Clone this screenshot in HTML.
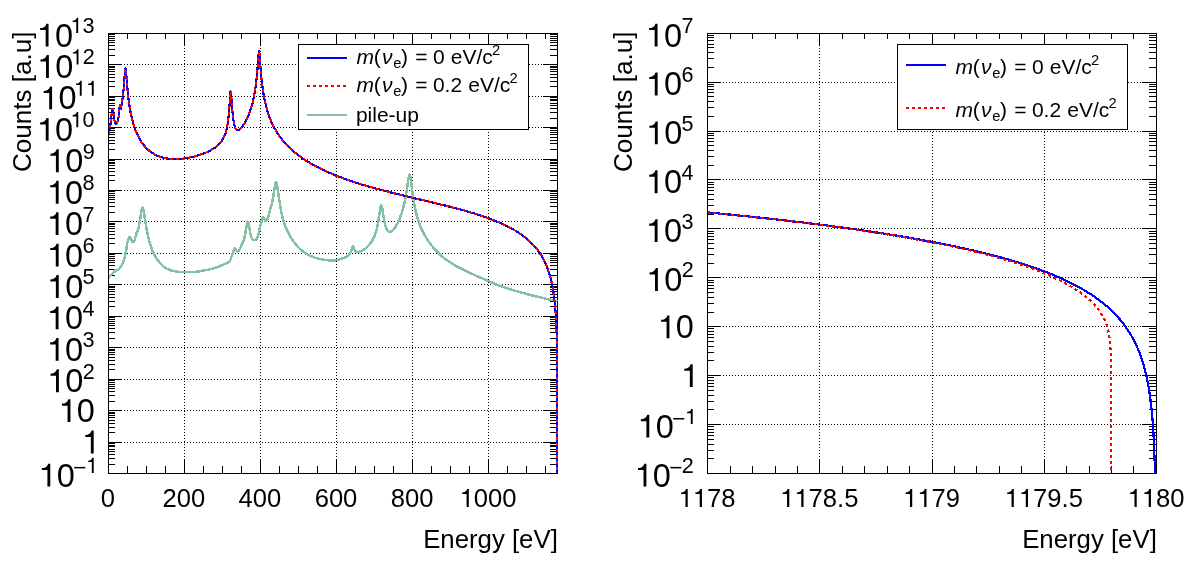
<!DOCTYPE html>
<html><head><meta charset="utf-8"><title>plot</title>
<style>html,body{margin:0;padding:0;background:#fff;}svg{display:block;will-change:transform;}text{font-family:"Liberation Sans",sans-serif;fill:#000;}</style>
</head><body>
<svg width="1198" height="576" viewBox="0 0 1198 576">
<rect x="0" y="0" width="1198" height="576" fill="#fff"/>
<g stroke="#000" stroke-width="1" stroke-dasharray="1 2" shape-rendering="crispEdges">
<line x1="184.50" y1="33.00" x2="184.50" y2="473.50" />
<line x1="260.50" y1="33.00" x2="260.50" y2="473.50" />
<line x1="336.50" y1="33.00" x2="336.50" y2="473.50" />
<line x1="412.50" y1="33.00" x2="412.50" y2="473.50" />
<line x1="488.50" y1="33.00" x2="488.50" y2="473.50" />
<line x1="109.00" y1="442.50" x2="557.50" y2="442.50" />
<line x1="109.00" y1="410.50" x2="557.50" y2="410.50" />
<line x1="109.00" y1="379.50" x2="557.50" y2="379.50" />
<line x1="109.00" y1="347.50" x2="557.50" y2="347.50" />
<line x1="109.00" y1="316.50" x2="557.50" y2="316.50" />
<line x1="109.00" y1="284.50" x2="557.50" y2="284.50" />
<line x1="109.00" y1="253.50" x2="557.50" y2="253.50" />
<line x1="109.00" y1="221.50" x2="557.50" y2="221.50" />
<line x1="109.00" y1="190.50" x2="557.50" y2="190.50" />
<line x1="109.00" y1="159.50" x2="557.50" y2="159.50" />
<line x1="109.00" y1="127.50" x2="557.50" y2="127.50" />
<line x1="109.00" y1="96.50" x2="557.50" y2="96.50" />
<line x1="109.00" y1="64.50" x2="557.50" y2="64.50" />
</g>
<g stroke="#000" stroke-width="1" shape-rendering="crispEdges">
<rect x="108.5" y="33.5" width="449.0" height="440.0" fill="none"/>
<line x1="184.50" y1="473.50" x2="184.50" y2="459.00" />
<line x1="184.50" y1="33.50" x2="184.50" y2="46.00" />
<line x1="260.50" y1="473.50" x2="260.50" y2="459.00" />
<line x1="260.50" y1="33.50" x2="260.50" y2="46.00" />
<line x1="336.50" y1="473.50" x2="336.50" y2="459.00" />
<line x1="336.50" y1="33.50" x2="336.50" y2="46.00" />
<line x1="412.50" y1="473.50" x2="412.50" y2="459.00" />
<line x1="412.50" y1="33.50" x2="412.50" y2="46.00" />
<line x1="488.50" y1="473.50" x2="488.50" y2="459.00" />
<line x1="488.50" y1="33.50" x2="488.50" y2="46.00" />
<line x1="127.50" y1="473.50" x2="127.50" y2="466.00" />
<line x1="127.50" y1="33.50" x2="127.50" y2="39.00" />
<line x1="146.50" y1="473.50" x2="146.50" y2="466.00" />
<line x1="146.50" y1="33.50" x2="146.50" y2="39.00" />
<line x1="165.50" y1="473.50" x2="165.50" y2="466.00" />
<line x1="165.50" y1="33.50" x2="165.50" y2="39.00" />
<line x1="184.50" y1="473.50" x2="184.50" y2="466.00" />
<line x1="184.50" y1="33.50" x2="184.50" y2="39.00" />
<line x1="203.50" y1="473.50" x2="203.50" y2="466.00" />
<line x1="203.50" y1="33.50" x2="203.50" y2="39.00" />
<line x1="222.50" y1="473.50" x2="222.50" y2="466.00" />
<line x1="222.50" y1="33.50" x2="222.50" y2="39.00" />
<line x1="241.50" y1="473.50" x2="241.50" y2="466.00" />
<line x1="241.50" y1="33.50" x2="241.50" y2="39.00" />
<line x1="260.50" y1="473.50" x2="260.50" y2="466.00" />
<line x1="260.50" y1="33.50" x2="260.50" y2="39.00" />
<line x1="279.50" y1="473.50" x2="279.50" y2="466.00" />
<line x1="279.50" y1="33.50" x2="279.50" y2="39.00" />
<line x1="298.50" y1="473.50" x2="298.50" y2="466.00" />
<line x1="298.50" y1="33.50" x2="298.50" y2="39.00" />
<line x1="317.50" y1="473.50" x2="317.50" y2="466.00" />
<line x1="317.50" y1="33.50" x2="317.50" y2="39.00" />
<line x1="336.50" y1="473.50" x2="336.50" y2="466.00" />
<line x1="336.50" y1="33.50" x2="336.50" y2="39.00" />
<line x1="355.50" y1="473.50" x2="355.50" y2="466.00" />
<line x1="355.50" y1="33.50" x2="355.50" y2="39.00" />
<line x1="374.50" y1="473.50" x2="374.50" y2="466.00" />
<line x1="374.50" y1="33.50" x2="374.50" y2="39.00" />
<line x1="393.50" y1="473.50" x2="393.50" y2="466.00" />
<line x1="393.50" y1="33.50" x2="393.50" y2="39.00" />
<line x1="412.50" y1="473.50" x2="412.50" y2="466.00" />
<line x1="412.50" y1="33.50" x2="412.50" y2="39.00" />
<line x1="431.50" y1="473.50" x2="431.50" y2="466.00" />
<line x1="431.50" y1="33.50" x2="431.50" y2="39.00" />
<line x1="450.50" y1="473.50" x2="450.50" y2="466.00" />
<line x1="450.50" y1="33.50" x2="450.50" y2="39.00" />
<line x1="469.50" y1="473.50" x2="469.50" y2="466.00" />
<line x1="469.50" y1="33.50" x2="469.50" y2="39.00" />
<line x1="488.50" y1="473.50" x2="488.50" y2="466.00" />
<line x1="488.50" y1="33.50" x2="488.50" y2="39.00" />
<line x1="507.50" y1="473.50" x2="507.50" y2="466.00" />
<line x1="507.50" y1="33.50" x2="507.50" y2="39.00" />
<line x1="526.50" y1="473.50" x2="526.50" y2="466.00" />
<line x1="526.50" y1="33.50" x2="526.50" y2="39.00" />
<line x1="545.50" y1="473.50" x2="545.50" y2="466.00" />
<line x1="545.50" y1="33.50" x2="545.50" y2="39.00" />
<line x1="108.50" y1="464.50" x2="115.00" y2="464.50" />
<line x1="557.50" y1="464.50" x2="550.00" y2="464.50" />
<line x1="108.50" y1="458.50" x2="115.00" y2="458.50" />
<line x1="557.50" y1="458.50" x2="550.00" y2="458.50" />
<line x1="108.50" y1="454.50" x2="115.00" y2="454.50" />
<line x1="557.50" y1="454.50" x2="550.00" y2="454.50" />
<line x1="108.50" y1="451.50" x2="115.00" y2="451.50" />
<line x1="557.50" y1="451.50" x2="550.00" y2="451.50" />
<line x1="108.50" y1="449.50" x2="115.00" y2="449.50" />
<line x1="557.50" y1="449.50" x2="550.00" y2="449.50" />
<line x1="108.50" y1="446.50" x2="115.00" y2="446.50" />
<line x1="557.50" y1="446.50" x2="550.00" y2="446.50" />
<line x1="108.50" y1="445.50" x2="115.00" y2="445.50" />
<line x1="557.50" y1="445.50" x2="550.00" y2="445.50" />
<line x1="108.50" y1="443.50" x2="115.00" y2="443.50" />
<line x1="557.50" y1="443.50" x2="550.00" y2="443.50" />
<line x1="108.50" y1="442.50" x2="122.00" y2="442.50" />
<line x1="557.50" y1="442.50" x2="543.00" y2="442.50" />
<line x1="108.50" y1="432.50" x2="115.00" y2="432.50" />
<line x1="557.50" y1="432.50" x2="550.00" y2="432.50" />
<line x1="108.50" y1="427.50" x2="115.00" y2="427.50" />
<line x1="557.50" y1="427.50" x2="550.00" y2="427.50" />
<line x1="108.50" y1="423.50" x2="115.00" y2="423.50" />
<line x1="557.50" y1="423.50" x2="550.00" y2="423.50" />
<line x1="108.50" y1="420.50" x2="115.00" y2="420.50" />
<line x1="557.50" y1="420.50" x2="550.00" y2="420.50" />
<line x1="108.50" y1="417.50" x2="115.00" y2="417.50" />
<line x1="557.50" y1="417.50" x2="550.00" y2="417.50" />
<line x1="108.50" y1="415.50" x2="115.00" y2="415.50" />
<line x1="557.50" y1="415.50" x2="550.00" y2="415.50" />
<line x1="108.50" y1="413.50" x2="115.00" y2="413.50" />
<line x1="557.50" y1="413.50" x2="550.00" y2="413.50" />
<line x1="108.50" y1="412.50" x2="115.00" y2="412.50" />
<line x1="557.50" y1="412.50" x2="550.00" y2="412.50" />
<line x1="108.50" y1="410.50" x2="122.00" y2="410.50" />
<line x1="557.50" y1="410.50" x2="543.00" y2="410.50" />
<line x1="108.50" y1="401.50" x2="115.00" y2="401.50" />
<line x1="557.50" y1="401.50" x2="550.00" y2="401.50" />
<line x1="108.50" y1="395.50" x2="115.00" y2="395.50" />
<line x1="557.50" y1="395.50" x2="550.00" y2="395.50" />
<line x1="108.50" y1="391.50" x2="115.00" y2="391.50" />
<line x1="557.50" y1="391.50" x2="550.00" y2="391.50" />
<line x1="108.50" y1="388.50" x2="115.00" y2="388.50" />
<line x1="557.50" y1="388.50" x2="550.00" y2="388.50" />
<line x1="108.50" y1="386.50" x2="115.00" y2="386.50" />
<line x1="557.50" y1="386.50" x2="550.00" y2="386.50" />
<line x1="108.50" y1="384.50" x2="115.00" y2="384.50" />
<line x1="557.50" y1="384.50" x2="550.00" y2="384.50" />
<line x1="108.50" y1="382.50" x2="115.00" y2="382.50" />
<line x1="557.50" y1="382.50" x2="550.00" y2="382.50" />
<line x1="108.50" y1="380.50" x2="115.00" y2="380.50" />
<line x1="557.50" y1="380.50" x2="550.00" y2="380.50" />
<line x1="108.50" y1="379.50" x2="122.00" y2="379.50" />
<line x1="557.50" y1="379.50" x2="543.00" y2="379.50" />
<line x1="108.50" y1="369.50" x2="115.00" y2="369.50" />
<line x1="557.50" y1="369.50" x2="550.00" y2="369.50" />
<line x1="108.50" y1="364.50" x2="115.00" y2="364.50" />
<line x1="557.50" y1="364.50" x2="550.00" y2="364.50" />
<line x1="108.50" y1="360.50" x2="115.00" y2="360.50" />
<line x1="557.50" y1="360.50" x2="550.00" y2="360.50" />
<line x1="108.50" y1="357.50" x2="115.00" y2="357.50" />
<line x1="557.50" y1="357.50" x2="550.00" y2="357.50" />
<line x1="108.50" y1="354.50" x2="115.00" y2="354.50" />
<line x1="557.50" y1="354.50" x2="550.00" y2="354.50" />
<line x1="108.50" y1="352.50" x2="115.00" y2="352.50" />
<line x1="557.50" y1="352.50" x2="550.00" y2="352.50" />
<line x1="108.50" y1="350.50" x2="115.00" y2="350.50" />
<line x1="557.50" y1="350.50" x2="550.00" y2="350.50" />
<line x1="108.50" y1="349.50" x2="115.00" y2="349.50" />
<line x1="557.50" y1="349.50" x2="550.00" y2="349.50" />
<line x1="108.50" y1="347.50" x2="122.00" y2="347.50" />
<line x1="557.50" y1="347.50" x2="543.00" y2="347.50" />
<line x1="108.50" y1="338.50" x2="115.00" y2="338.50" />
<line x1="557.50" y1="338.50" x2="550.00" y2="338.50" />
<line x1="108.50" y1="332.50" x2="115.00" y2="332.50" />
<line x1="557.50" y1="332.50" x2="550.00" y2="332.50" />
<line x1="108.50" y1="328.50" x2="115.00" y2="328.50" />
<line x1="557.50" y1="328.50" x2="550.00" y2="328.50" />
<line x1="108.50" y1="325.50" x2="115.00" y2="325.50" />
<line x1="557.50" y1="325.50" x2="550.00" y2="325.50" />
<line x1="108.50" y1="323.50" x2="115.00" y2="323.50" />
<line x1="557.50" y1="323.50" x2="550.00" y2="323.50" />
<line x1="108.50" y1="321.50" x2="115.00" y2="321.50" />
<line x1="557.50" y1="321.50" x2="550.00" y2="321.50" />
<line x1="108.50" y1="319.50" x2="115.00" y2="319.50" />
<line x1="557.50" y1="319.50" x2="550.00" y2="319.50" />
<line x1="108.50" y1="317.50" x2="115.00" y2="317.50" />
<line x1="557.50" y1="317.50" x2="550.00" y2="317.50" />
<line x1="108.50" y1="316.50" x2="122.00" y2="316.50" />
<line x1="557.50" y1="316.50" x2="543.00" y2="316.50" />
<line x1="108.50" y1="306.50" x2="115.00" y2="306.50" />
<line x1="557.50" y1="306.50" x2="550.00" y2="306.50" />
<line x1="108.50" y1="301.50" x2="115.00" y2="301.50" />
<line x1="557.50" y1="301.50" x2="550.00" y2="301.50" />
<line x1="108.50" y1="297.50" x2="115.00" y2="297.50" />
<line x1="557.50" y1="297.50" x2="550.00" y2="297.50" />
<line x1="108.50" y1="294.50" x2="115.00" y2="294.50" />
<line x1="557.50" y1="294.50" x2="550.00" y2="294.50" />
<line x1="108.50" y1="291.50" x2="115.00" y2="291.50" />
<line x1="557.50" y1="291.50" x2="550.00" y2="291.50" />
<line x1="108.50" y1="289.50" x2="115.00" y2="289.50" />
<line x1="557.50" y1="289.50" x2="550.00" y2="289.50" />
<line x1="108.50" y1="287.50" x2="115.00" y2="287.50" />
<line x1="557.50" y1="287.50" x2="550.00" y2="287.50" />
<line x1="108.50" y1="286.50" x2="115.00" y2="286.50" />
<line x1="557.50" y1="286.50" x2="550.00" y2="286.50" />
<line x1="108.50" y1="284.50" x2="122.00" y2="284.50" />
<line x1="557.50" y1="284.50" x2="543.00" y2="284.50" />
<line x1="108.50" y1="275.50" x2="115.00" y2="275.50" />
<line x1="557.50" y1="275.50" x2="550.00" y2="275.50" />
<line x1="108.50" y1="269.50" x2="115.00" y2="269.50" />
<line x1="557.50" y1="269.50" x2="550.00" y2="269.50" />
<line x1="108.50" y1="265.50" x2="115.00" y2="265.50" />
<line x1="557.50" y1="265.50" x2="550.00" y2="265.50" />
<line x1="108.50" y1="262.50" x2="115.00" y2="262.50" />
<line x1="557.50" y1="262.50" x2="550.00" y2="262.50" />
<line x1="108.50" y1="260.50" x2="115.00" y2="260.50" />
<line x1="557.50" y1="260.50" x2="550.00" y2="260.50" />
<line x1="108.50" y1="258.50" x2="115.00" y2="258.50" />
<line x1="557.50" y1="258.50" x2="550.00" y2="258.50" />
<line x1="108.50" y1="256.50" x2="115.00" y2="256.50" />
<line x1="557.50" y1="256.50" x2="550.00" y2="256.50" />
<line x1="108.50" y1="254.50" x2="115.00" y2="254.50" />
<line x1="557.50" y1="254.50" x2="550.00" y2="254.50" />
<line x1="108.50" y1="253.50" x2="122.00" y2="253.50" />
<line x1="557.50" y1="253.50" x2="543.00" y2="253.50" />
<line x1="108.50" y1="243.50" x2="115.00" y2="243.50" />
<line x1="557.50" y1="243.50" x2="550.00" y2="243.50" />
<line x1="108.50" y1="238.50" x2="115.00" y2="238.50" />
<line x1="557.50" y1="238.50" x2="550.00" y2="238.50" />
<line x1="108.50" y1="234.50" x2="115.00" y2="234.50" />
<line x1="557.50" y1="234.50" x2="550.00" y2="234.50" />
<line x1="108.50" y1="231.50" x2="115.00" y2="231.50" />
<line x1="557.50" y1="231.50" x2="550.00" y2="231.50" />
<line x1="108.50" y1="228.50" x2="115.00" y2="228.50" />
<line x1="557.50" y1="228.50" x2="550.00" y2="228.50" />
<line x1="108.50" y1="226.50" x2="115.00" y2="226.50" />
<line x1="557.50" y1="226.50" x2="550.00" y2="226.50" />
<line x1="108.50" y1="224.50" x2="115.00" y2="224.50" />
<line x1="557.50" y1="224.50" x2="550.00" y2="224.50" />
<line x1="108.50" y1="223.50" x2="115.00" y2="223.50" />
<line x1="557.50" y1="223.50" x2="550.00" y2="223.50" />
<line x1="108.50" y1="221.50" x2="122.00" y2="221.50" />
<line x1="557.50" y1="221.50" x2="543.00" y2="221.50" />
<line x1="108.50" y1="212.50" x2="115.00" y2="212.50" />
<line x1="557.50" y1="212.50" x2="550.00" y2="212.50" />
<line x1="108.50" y1="206.50" x2="115.00" y2="206.50" />
<line x1="557.50" y1="206.50" x2="550.00" y2="206.50" />
<line x1="108.50" y1="202.50" x2="115.00" y2="202.50" />
<line x1="557.50" y1="202.50" x2="550.00" y2="202.50" />
<line x1="108.50" y1="199.50" x2="115.00" y2="199.50" />
<line x1="557.50" y1="199.50" x2="550.00" y2="199.50" />
<line x1="108.50" y1="197.50" x2="115.00" y2="197.50" />
<line x1="557.50" y1="197.50" x2="550.00" y2="197.50" />
<line x1="108.50" y1="195.50" x2="115.00" y2="195.50" />
<line x1="557.50" y1="195.50" x2="550.00" y2="195.50" />
<line x1="108.50" y1="193.50" x2="115.00" y2="193.50" />
<line x1="557.50" y1="193.50" x2="550.00" y2="193.50" />
<line x1="108.50" y1="191.50" x2="115.00" y2="191.50" />
<line x1="557.50" y1="191.50" x2="550.00" y2="191.50" />
<line x1="108.50" y1="190.50" x2="122.00" y2="190.50" />
<line x1="557.50" y1="190.50" x2="543.00" y2="190.50" />
<line x1="108.50" y1="180.50" x2="115.00" y2="180.50" />
<line x1="557.50" y1="180.50" x2="550.00" y2="180.50" />
<line x1="108.50" y1="175.50" x2="115.00" y2="175.50" />
<line x1="557.50" y1="175.50" x2="550.00" y2="175.50" />
<line x1="108.50" y1="171.50" x2="115.00" y2="171.50" />
<line x1="557.50" y1="171.50" x2="550.00" y2="171.50" />
<line x1="108.50" y1="168.50" x2="115.00" y2="168.50" />
<line x1="557.50" y1="168.50" x2="550.00" y2="168.50" />
<line x1="108.50" y1="165.50" x2="115.00" y2="165.50" />
<line x1="557.50" y1="165.50" x2="550.00" y2="165.50" />
<line x1="108.50" y1="163.50" x2="115.00" y2="163.50" />
<line x1="557.50" y1="163.50" x2="550.00" y2="163.50" />
<line x1="108.50" y1="162.50" x2="115.00" y2="162.50" />
<line x1="557.50" y1="162.50" x2="550.00" y2="162.50" />
<line x1="108.50" y1="160.50" x2="115.00" y2="160.50" />
<line x1="557.50" y1="160.50" x2="550.00" y2="160.50" />
<line x1="108.50" y1="159.50" x2="122.00" y2="159.50" />
<line x1="557.50" y1="159.50" x2="543.00" y2="159.50" />
<line x1="108.50" y1="149.50" x2="115.00" y2="149.50" />
<line x1="557.50" y1="149.50" x2="550.00" y2="149.50" />
<line x1="108.50" y1="143.50" x2="115.00" y2="143.50" />
<line x1="557.50" y1="143.50" x2="550.00" y2="143.50" />
<line x1="108.50" y1="140.50" x2="115.00" y2="140.50" />
<line x1="557.50" y1="140.50" x2="550.00" y2="140.50" />
<line x1="108.50" y1="137.50" x2="115.00" y2="137.50" />
<line x1="557.50" y1="137.50" x2="550.00" y2="137.50" />
<line x1="108.50" y1="134.50" x2="115.00" y2="134.50" />
<line x1="557.50" y1="134.50" x2="550.00" y2="134.50" />
<line x1="108.50" y1="132.50" x2="115.00" y2="132.50" />
<line x1="557.50" y1="132.50" x2="550.00" y2="132.50" />
<line x1="108.50" y1="130.50" x2="115.00" y2="130.50" />
<line x1="557.50" y1="130.50" x2="550.00" y2="130.50" />
<line x1="108.50" y1="128.50" x2="115.00" y2="128.50" />
<line x1="557.50" y1="128.50" x2="550.00" y2="128.50" />
<line x1="108.50" y1="127.50" x2="122.00" y2="127.50" />
<line x1="557.50" y1="127.50" x2="543.00" y2="127.50" />
<line x1="108.50" y1="118.50" x2="115.00" y2="118.50" />
<line x1="557.50" y1="118.50" x2="550.00" y2="118.50" />
<line x1="108.50" y1="112.50" x2="115.00" y2="112.50" />
<line x1="557.50" y1="112.50" x2="550.00" y2="112.50" />
<line x1="108.50" y1="108.50" x2="115.00" y2="108.50" />
<line x1="557.50" y1="108.50" x2="550.00" y2="108.50" />
<line x1="108.50" y1="105.50" x2="115.00" y2="105.50" />
<line x1="557.50" y1="105.50" x2="550.00" y2="105.50" />
<line x1="108.50" y1="103.50" x2="115.00" y2="103.50" />
<line x1="557.50" y1="103.50" x2="550.00" y2="103.50" />
<line x1="108.50" y1="100.50" x2="115.00" y2="100.50" />
<line x1="557.50" y1="100.50" x2="550.00" y2="100.50" />
<line x1="108.50" y1="99.50" x2="115.00" y2="99.50" />
<line x1="557.50" y1="99.50" x2="550.00" y2="99.50" />
<line x1="108.50" y1="97.50" x2="115.00" y2="97.50" />
<line x1="557.50" y1="97.50" x2="550.00" y2="97.50" />
<line x1="108.50" y1="96.50" x2="122.00" y2="96.50" />
<line x1="557.50" y1="96.50" x2="543.00" y2="96.50" />
<line x1="108.50" y1="86.50" x2="115.00" y2="86.50" />
<line x1="557.50" y1="86.50" x2="550.00" y2="86.50" />
<line x1="108.50" y1="81.50" x2="115.00" y2="81.50" />
<line x1="557.50" y1="81.50" x2="550.00" y2="81.50" />
<line x1="108.50" y1="77.50" x2="115.00" y2="77.50" />
<line x1="557.50" y1="77.50" x2="550.00" y2="77.50" />
<line x1="108.50" y1="74.50" x2="115.00" y2="74.50" />
<line x1="557.50" y1="74.50" x2="550.00" y2="74.50" />
<line x1="108.50" y1="71.50" x2="115.00" y2="71.50" />
<line x1="557.50" y1="71.50" x2="550.00" y2="71.50" />
<line x1="108.50" y1="69.50" x2="115.00" y2="69.50" />
<line x1="557.50" y1="69.50" x2="550.00" y2="69.50" />
<line x1="108.50" y1="67.50" x2="115.00" y2="67.50" />
<line x1="557.50" y1="67.50" x2="550.00" y2="67.50" />
<line x1="108.50" y1="66.50" x2="115.00" y2="66.50" />
<line x1="557.50" y1="66.50" x2="550.00" y2="66.50" />
<line x1="108.50" y1="64.50" x2="122.00" y2="64.50" />
<line x1="557.50" y1="64.50" x2="543.00" y2="64.50" />
<line x1="108.50" y1="55.50" x2="115.00" y2="55.50" />
<line x1="557.50" y1="55.50" x2="550.00" y2="55.50" />
<line x1="108.50" y1="49.50" x2="115.00" y2="49.50" />
<line x1="557.50" y1="49.50" x2="550.00" y2="49.50" />
<line x1="108.50" y1="45.50" x2="115.00" y2="45.50" />
<line x1="557.50" y1="45.50" x2="550.00" y2="45.50" />
<line x1="108.50" y1="42.50" x2="115.00" y2="42.50" />
<line x1="557.50" y1="42.50" x2="550.00" y2="42.50" />
<line x1="108.50" y1="40.50" x2="115.00" y2="40.50" />
<line x1="557.50" y1="40.50" x2="550.00" y2="40.50" />
<line x1="108.50" y1="38.50" x2="115.00" y2="38.50" />
<line x1="557.50" y1="38.50" x2="550.00" y2="38.50" />
<line x1="108.50" y1="36.50" x2="115.00" y2="36.50" />
<line x1="557.50" y1="36.50" x2="550.00" y2="36.50" />
<line x1="108.50" y1="34.50" x2="115.00" y2="34.50" />
<line x1="557.50" y1="34.50" x2="550.00" y2="34.50" />
</g>
<g stroke="#000" stroke-width="1" stroke-dasharray="1 2" shape-rendering="crispEdges">
<line x1="819.50" y1="33.00" x2="819.50" y2="473.50" />
<line x1="932.50" y1="33.00" x2="932.50" y2="473.50" />
<line x1="1044.50" y1="33.00" x2="1044.50" y2="473.50" />
<line x1="708.00" y1="424.50" x2="1156.50" y2="424.50" />
<line x1="708.00" y1="375.50" x2="1156.50" y2="375.50" />
<line x1="708.00" y1="326.50" x2="1156.50" y2="326.50" />
<line x1="708.00" y1="277.50" x2="1156.50" y2="277.50" />
<line x1="708.00" y1="228.50" x2="1156.50" y2="228.50" />
<line x1="708.00" y1="179.50" x2="1156.50" y2="179.50" />
<line x1="708.00" y1="131.50" x2="1156.50" y2="131.50" />
<line x1="708.00" y1="82.50" x2="1156.50" y2="82.50" />
</g>
<g stroke="#000" stroke-width="1" shape-rendering="crispEdges">
<rect x="707.5" y="33.5" width="449.0" height="440.0" fill="none"/>
<line x1="819.50" y1="473.50" x2="819.50" y2="459.00" />
<line x1="819.50" y1="33.50" x2="819.50" y2="46.00" />
<line x1="932.50" y1="473.50" x2="932.50" y2="459.00" />
<line x1="932.50" y1="33.50" x2="932.50" y2="46.00" />
<line x1="1044.50" y1="473.50" x2="1044.50" y2="459.00" />
<line x1="1044.50" y1="33.50" x2="1044.50" y2="46.00" />
<line x1="730.50" y1="473.50" x2="730.50" y2="466.00" />
<line x1="730.50" y1="33.50" x2="730.50" y2="39.00" />
<line x1="752.50" y1="473.50" x2="752.50" y2="466.00" />
<line x1="752.50" y1="33.50" x2="752.50" y2="39.00" />
<line x1="775.50" y1="473.50" x2="775.50" y2="466.00" />
<line x1="775.50" y1="33.50" x2="775.50" y2="39.00" />
<line x1="797.50" y1="473.50" x2="797.50" y2="466.00" />
<line x1="797.50" y1="33.50" x2="797.50" y2="39.00" />
<line x1="819.50" y1="473.50" x2="819.50" y2="466.00" />
<line x1="819.50" y1="33.50" x2="819.50" y2="39.00" />
<line x1="842.50" y1="473.50" x2="842.50" y2="466.00" />
<line x1="842.50" y1="33.50" x2="842.50" y2="39.00" />
<line x1="864.50" y1="473.50" x2="864.50" y2="466.00" />
<line x1="864.50" y1="33.50" x2="864.50" y2="39.00" />
<line x1="887.50" y1="473.50" x2="887.50" y2="466.00" />
<line x1="887.50" y1="33.50" x2="887.50" y2="39.00" />
<line x1="909.50" y1="473.50" x2="909.50" y2="466.00" />
<line x1="909.50" y1="33.50" x2="909.50" y2="39.00" />
<line x1="932.50" y1="473.50" x2="932.50" y2="466.00" />
<line x1="932.50" y1="33.50" x2="932.50" y2="39.00" />
<line x1="954.50" y1="473.50" x2="954.50" y2="466.00" />
<line x1="954.50" y1="33.50" x2="954.50" y2="39.00" />
<line x1="976.50" y1="473.50" x2="976.50" y2="466.00" />
<line x1="976.50" y1="33.50" x2="976.50" y2="39.00" />
<line x1="999.50" y1="473.50" x2="999.50" y2="466.00" />
<line x1="999.50" y1="33.50" x2="999.50" y2="39.00" />
<line x1="1021.50" y1="473.50" x2="1021.50" y2="466.00" />
<line x1="1021.50" y1="33.50" x2="1021.50" y2="39.00" />
<line x1="1044.50" y1="473.50" x2="1044.50" y2="466.00" />
<line x1="1044.50" y1="33.50" x2="1044.50" y2="39.00" />
<line x1="1066.50" y1="473.50" x2="1066.50" y2="466.00" />
<line x1="1066.50" y1="33.50" x2="1066.50" y2="39.00" />
<line x1="1089.50" y1="473.50" x2="1089.50" y2="466.00" />
<line x1="1089.50" y1="33.50" x2="1089.50" y2="39.00" />
<line x1="1111.50" y1="473.50" x2="1111.50" y2="466.00" />
<line x1="1111.50" y1="33.50" x2="1111.50" y2="39.00" />
<line x1="1133.50" y1="473.50" x2="1133.50" y2="466.00" />
<line x1="1133.50" y1="33.50" x2="1133.50" y2="39.00" />
<line x1="707.50" y1="458.50" x2="714.00" y2="458.50" />
<line x1="1156.50" y1="458.50" x2="1149.00" y2="458.50" />
<line x1="707.50" y1="450.50" x2="714.00" y2="450.50" />
<line x1="1156.50" y1="450.50" x2="1149.00" y2="450.50" />
<line x1="707.50" y1="444.50" x2="714.00" y2="444.50" />
<line x1="1156.50" y1="444.50" x2="1149.00" y2="444.50" />
<line x1="707.50" y1="439.50" x2="714.00" y2="439.50" />
<line x1="1156.50" y1="439.50" x2="1149.00" y2="439.50" />
<line x1="707.50" y1="435.50" x2="714.00" y2="435.50" />
<line x1="1156.50" y1="435.50" x2="1149.00" y2="435.50" />
<line x1="707.50" y1="432.50" x2="714.00" y2="432.50" />
<line x1="1156.50" y1="432.50" x2="1149.00" y2="432.50" />
<line x1="707.50" y1="429.50" x2="714.00" y2="429.50" />
<line x1="1156.50" y1="429.50" x2="1149.00" y2="429.50" />
<line x1="707.50" y1="426.50" x2="714.00" y2="426.50" />
<line x1="1156.50" y1="426.50" x2="1149.00" y2="426.50" />
<line x1="707.50" y1="424.50" x2="721.00" y2="424.50" />
<line x1="1156.50" y1="424.50" x2="1142.00" y2="424.50" />
<line x1="707.50" y1="409.50" x2="714.00" y2="409.50" />
<line x1="1156.50" y1="409.50" x2="1149.00" y2="409.50" />
<line x1="707.50" y1="401.50" x2="714.00" y2="401.50" />
<line x1="1156.50" y1="401.50" x2="1149.00" y2="401.50" />
<line x1="707.50" y1="395.50" x2="714.00" y2="395.50" />
<line x1="1156.50" y1="395.50" x2="1149.00" y2="395.50" />
<line x1="707.50" y1="390.50" x2="714.00" y2="390.50" />
<line x1="1156.50" y1="390.50" x2="1149.00" y2="390.50" />
<line x1="707.50" y1="386.50" x2="714.00" y2="386.50" />
<line x1="1156.50" y1="386.50" x2="1149.00" y2="386.50" />
<line x1="707.50" y1="383.50" x2="714.00" y2="383.50" />
<line x1="1156.50" y1="383.50" x2="1149.00" y2="383.50" />
<line x1="707.50" y1="380.50" x2="714.00" y2="380.50" />
<line x1="1156.50" y1="380.50" x2="1149.00" y2="380.50" />
<line x1="707.50" y1="377.50" x2="714.00" y2="377.50" />
<line x1="1156.50" y1="377.50" x2="1149.00" y2="377.50" />
<line x1="707.50" y1="375.50" x2="721.00" y2="375.50" />
<line x1="1156.50" y1="375.50" x2="1142.00" y2="375.50" />
<line x1="707.50" y1="360.50" x2="714.00" y2="360.50" />
<line x1="1156.50" y1="360.50" x2="1149.00" y2="360.50" />
<line x1="707.50" y1="352.50" x2="714.00" y2="352.50" />
<line x1="1156.50" y1="352.50" x2="1149.00" y2="352.50" />
<line x1="707.50" y1="346.50" x2="714.00" y2="346.50" />
<line x1="1156.50" y1="346.50" x2="1149.00" y2="346.50" />
<line x1="707.50" y1="341.50" x2="714.00" y2="341.50" />
<line x1="1156.50" y1="341.50" x2="1149.00" y2="341.50" />
<line x1="707.50" y1="337.50" x2="714.00" y2="337.50" />
<line x1="1156.50" y1="337.50" x2="1149.00" y2="337.50" />
<line x1="707.50" y1="334.50" x2="714.00" y2="334.50" />
<line x1="1156.50" y1="334.50" x2="1149.00" y2="334.50" />
<line x1="707.50" y1="331.50" x2="714.00" y2="331.50" />
<line x1="1156.50" y1="331.50" x2="1149.00" y2="331.50" />
<line x1="707.50" y1="328.50" x2="714.00" y2="328.50" />
<line x1="1156.50" y1="328.50" x2="1149.00" y2="328.50" />
<line x1="707.50" y1="326.50" x2="721.00" y2="326.50" />
<line x1="1156.50" y1="326.50" x2="1142.00" y2="326.50" />
<line x1="707.50" y1="312.50" x2="714.00" y2="312.50" />
<line x1="1156.50" y1="312.50" x2="1149.00" y2="312.50" />
<line x1="707.50" y1="303.50" x2="714.00" y2="303.50" />
<line x1="1156.50" y1="303.50" x2="1149.00" y2="303.50" />
<line x1="707.50" y1="297.50" x2="714.00" y2="297.50" />
<line x1="1156.50" y1="297.50" x2="1149.00" y2="297.50" />
<line x1="707.50" y1="292.50" x2="714.00" y2="292.50" />
<line x1="1156.50" y1="292.50" x2="1149.00" y2="292.50" />
<line x1="707.50" y1="288.50" x2="714.00" y2="288.50" />
<line x1="1156.50" y1="288.50" x2="1149.00" y2="288.50" />
<line x1="707.50" y1="285.50" x2="714.00" y2="285.50" />
<line x1="1156.50" y1="285.50" x2="1149.00" y2="285.50" />
<line x1="707.50" y1="282.50" x2="714.00" y2="282.50" />
<line x1="1156.50" y1="282.50" x2="1149.00" y2="282.50" />
<line x1="707.50" y1="280.50" x2="714.00" y2="280.50" />
<line x1="1156.50" y1="280.50" x2="1149.00" y2="280.50" />
<line x1="707.50" y1="277.50" x2="721.00" y2="277.50" />
<line x1="1156.50" y1="277.50" x2="1142.00" y2="277.50" />
<line x1="707.50" y1="263.50" x2="714.00" y2="263.50" />
<line x1="1156.50" y1="263.50" x2="1149.00" y2="263.50" />
<line x1="707.50" y1="254.50" x2="714.00" y2="254.50" />
<line x1="1156.50" y1="254.50" x2="1149.00" y2="254.50" />
<line x1="707.50" y1="248.50" x2="714.00" y2="248.50" />
<line x1="1156.50" y1="248.50" x2="1149.00" y2="248.50" />
<line x1="707.50" y1="243.50" x2="714.00" y2="243.50" />
<line x1="1156.50" y1="243.50" x2="1149.00" y2="243.50" />
<line x1="707.50" y1="239.50" x2="714.00" y2="239.50" />
<line x1="1156.50" y1="239.50" x2="1149.00" y2="239.50" />
<line x1="707.50" y1="236.50" x2="714.00" y2="236.50" />
<line x1="1156.50" y1="236.50" x2="1149.00" y2="236.50" />
<line x1="707.50" y1="233.50" x2="714.00" y2="233.50" />
<line x1="1156.50" y1="233.50" x2="1149.00" y2="233.50" />
<line x1="707.50" y1="231.50" x2="714.00" y2="231.50" />
<line x1="1156.50" y1="231.50" x2="1149.00" y2="231.50" />
<line x1="707.50" y1="228.50" x2="721.00" y2="228.50" />
<line x1="1156.50" y1="228.50" x2="1142.00" y2="228.50" />
<line x1="707.50" y1="214.50" x2="714.00" y2="214.50" />
<line x1="1156.50" y1="214.50" x2="1149.00" y2="214.50" />
<line x1="707.50" y1="205.50" x2="714.00" y2="205.50" />
<line x1="1156.50" y1="205.50" x2="1149.00" y2="205.50" />
<line x1="707.50" y1="199.50" x2="714.00" y2="199.50" />
<line x1="1156.50" y1="199.50" x2="1149.00" y2="199.50" />
<line x1="707.50" y1="194.50" x2="714.00" y2="194.50" />
<line x1="1156.50" y1="194.50" x2="1149.00" y2="194.50" />
<line x1="707.50" y1="190.50" x2="714.00" y2="190.50" />
<line x1="1156.50" y1="190.50" x2="1149.00" y2="190.50" />
<line x1="707.50" y1="187.50" x2="714.00" y2="187.50" />
<line x1="1156.50" y1="187.50" x2="1149.00" y2="187.50" />
<line x1="707.50" y1="184.50" x2="714.00" y2="184.50" />
<line x1="1156.50" y1="184.50" x2="1149.00" y2="184.50" />
<line x1="707.50" y1="182.50" x2="714.00" y2="182.50" />
<line x1="1156.50" y1="182.50" x2="1149.00" y2="182.50" />
<line x1="707.50" y1="179.50" x2="721.00" y2="179.50" />
<line x1="1156.50" y1="179.50" x2="1142.00" y2="179.50" />
<line x1="707.50" y1="165.50" x2="714.00" y2="165.50" />
<line x1="1156.50" y1="165.50" x2="1149.00" y2="165.50" />
<line x1="707.50" y1="156.50" x2="714.00" y2="156.50" />
<line x1="1156.50" y1="156.50" x2="1149.00" y2="156.50" />
<line x1="707.50" y1="150.50" x2="714.00" y2="150.50" />
<line x1="1156.50" y1="150.50" x2="1149.00" y2="150.50" />
<line x1="707.50" y1="145.50" x2="714.00" y2="145.50" />
<line x1="1156.50" y1="145.50" x2="1149.00" y2="145.50" />
<line x1="707.50" y1="141.50" x2="714.00" y2="141.50" />
<line x1="1156.50" y1="141.50" x2="1149.00" y2="141.50" />
<line x1="707.50" y1="138.50" x2="714.00" y2="138.50" />
<line x1="1156.50" y1="138.50" x2="1149.00" y2="138.50" />
<line x1="707.50" y1="135.50" x2="714.00" y2="135.50" />
<line x1="1156.50" y1="135.50" x2="1149.00" y2="135.50" />
<line x1="707.50" y1="133.50" x2="714.00" y2="133.50" />
<line x1="1156.50" y1="133.50" x2="1149.00" y2="133.50" />
<line x1="707.50" y1="131.50" x2="721.00" y2="131.50" />
<line x1="1156.50" y1="131.50" x2="1142.00" y2="131.50" />
<line x1="707.50" y1="116.50" x2="714.00" y2="116.50" />
<line x1="1156.50" y1="116.50" x2="1149.00" y2="116.50" />
<line x1="707.50" y1="107.50" x2="714.00" y2="107.50" />
<line x1="1156.50" y1="107.50" x2="1149.00" y2="107.50" />
<line x1="707.50" y1="101.50" x2="714.00" y2="101.50" />
<line x1="1156.50" y1="101.50" x2="1149.00" y2="101.50" />
<line x1="707.50" y1="96.50" x2="714.00" y2="96.50" />
<line x1="1156.50" y1="96.50" x2="1149.00" y2="96.50" />
<line x1="707.50" y1="92.50" x2="714.00" y2="92.50" />
<line x1="1156.50" y1="92.50" x2="1149.00" y2="92.50" />
<line x1="707.50" y1="89.50" x2="714.00" y2="89.50" />
<line x1="1156.50" y1="89.50" x2="1149.00" y2="89.50" />
<line x1="707.50" y1="86.50" x2="714.00" y2="86.50" />
<line x1="1156.50" y1="86.50" x2="1149.00" y2="86.50" />
<line x1="707.50" y1="84.50" x2="714.00" y2="84.50" />
<line x1="1156.50" y1="84.50" x2="1149.00" y2="84.50" />
<line x1="707.50" y1="82.50" x2="721.00" y2="82.50" />
<line x1="1156.50" y1="82.50" x2="1142.00" y2="82.50" />
<line x1="707.50" y1="67.50" x2="714.00" y2="67.50" />
<line x1="1156.50" y1="67.50" x2="1149.00" y2="67.50" />
<line x1="707.50" y1="58.50" x2="714.00" y2="58.50" />
<line x1="1156.50" y1="58.50" x2="1149.00" y2="58.50" />
<line x1="707.50" y1="52.50" x2="714.00" y2="52.50" />
<line x1="1156.50" y1="52.50" x2="1149.00" y2="52.50" />
<line x1="707.50" y1="47.50" x2="714.00" y2="47.50" />
<line x1="1156.50" y1="47.50" x2="1149.00" y2="47.50" />
<line x1="707.50" y1="44.50" x2="714.00" y2="44.50" />
<line x1="1156.50" y1="44.50" x2="1149.00" y2="44.50" />
<line x1="707.50" y1="40.50" x2="714.00" y2="40.50" />
<line x1="1156.50" y1="40.50" x2="1149.00" y2="40.50" />
<line x1="707.50" y1="37.50" x2="714.00" y2="37.50" />
<line x1="1156.50" y1="37.50" x2="1149.00" y2="37.50" />
<line x1="707.50" y1="35.50" x2="714.00" y2="35.50" />
<line x1="1156.50" y1="35.50" x2="1149.00" y2="35.50" />
</g>
<defs><clipPath id="c1"><rect x="109.0" y="33.0" width="449.0" height="441.0"/></clipPath><clipPath id="c2"><rect x="708.0" y="33.0" width="449.0" height="441.0"/></clipPath></defs>
<g fill="none" stroke-linejoin="round" shape-rendering="crispEdges" clip-path="url(#c1)">
<path d="M108.50,277.86 L108.69,277.62 L108.88,277.38 L109.07,277.15 L109.26,276.92 L109.45,276.69 L109.64,276.47 L109.83,276.25 L110.02,276.03 L110.21,275.82 L110.40,275.61 L110.59,275.40 L110.78,275.19 L110.97,274.99 L111.16,274.79 L111.35,274.60 L111.54,274.40 L111.73,274.21 L111.92,274.02 L112.11,273.84 L112.31,273.66 L112.50,273.48 L112.69,273.30 L112.88,273.13 L113.07,272.98 L113.26,272.83 L113.45,272.69 L113.64,272.56 L113.83,272.41 L114.02,272.26 L114.21,272.10 L114.40,271.93 L114.59,271.73 L114.78,271.46 L114.97,271.10 L115.16,270.71 L115.35,270.36 L115.54,270.10 L115.73,270.00 L115.92,270.02 L116.11,270.08 L116.30,270.16 L116.49,270.23 L116.68,270.29 L116.87,270.31 L117.06,270.30 L117.25,270.25 L117.44,270.18 L117.63,270.09 L117.82,269.98 L118.01,269.86 L118.20,269.74 L118.39,269.61 L118.58,269.48 L118.77,269.32 L118.96,269.15 L119.15,268.96 L119.34,268.74 L119.53,268.51 L119.72,268.26 L119.92,268.00 L120.11,267.73 L120.30,267.45 L120.49,267.16 L120.68,266.87 L120.87,266.57 L121.06,266.26 L121.25,265.96 L121.44,265.64 L121.63,265.32 L121.82,264.98 L122.01,264.63 L122.20,264.27 L122.39,263.90 L122.58,263.51 L122.77,263.11 L122.96,262.69 L123.15,262.25 L123.34,261.79 L123.53,261.31 L123.72,260.81 L123.91,260.28 L124.10,259.73 L124.29,259.16 L124.48,258.51 L124.67,257.76 L124.86,256.93 L125.05,256.04 L125.24,255.10 L125.43,254.15 L125.62,253.19 L125.81,252.17 L126.00,251.04 L126.19,249.84 L126.38,248.59 L126.57,247.34 L126.76,246.10 L126.95,244.91 L127.14,243.82 L127.34,242.83 L127.53,242.00 L127.72,241.31 L127.91,240.67 L128.10,240.05 L128.29,239.48 L128.48,238.95 L128.67,238.48 L128.86,238.07 L129.05,237.73 L129.24,237.47 L129.43,237.13 L129.62,236.95 L129.81,236.91 L130.00,237.02 L130.19,237.25 L130.38,237.58 L130.57,237.99 L130.76,238.45 L130.95,238.93 L131.14,239.42 L131.33,239.91 L131.52,240.37 L131.71,240.79 L131.90,241.16 L132.09,241.48 L132.28,241.73 L132.47,241.91 L132.66,242.03 L132.85,242.08 L133.04,242.12 L133.23,242.10 L133.42,242.01 L133.61,241.87 L133.80,241.67 L133.99,241.41 L134.18,241.10 L134.37,240.73 L134.56,240.31 L134.76,239.83 L134.95,239.30 L135.14,238.71 L135.33,238.07 L135.52,237.38 L135.71,236.65 L135.90,235.89 L136.09,235.11 L136.28,234.34 L136.47,233.61 L136.66,232.95 L136.85,232.37 L137.04,231.87 L137.23,231.44 L137.42,231.03 L137.61,230.60 L137.80,230.13 L137.99,229.59 L138.18,228.99 L138.37,228.30 L138.56,227.55 L138.75,226.73 L138.94,225.85 L139.13,224.91 L139.32,223.92 L139.51,222.88 L139.70,221.80 L139.89,220.68 L140.08,219.52 L140.27,218.34 L140.46,217.13 L140.65,215.92 L140.84,214.71 L141.03,213.51 L141.22,212.36 L141.41,211.26 L141.60,210.25 L141.79,209.36 L141.98,208.62 L142.18,208.06 L142.37,207.70 L142.56,207.57 L142.75,207.67 L142.94,207.99 L143.13,208.53 L143.32,209.26 L143.51,210.15 L143.70,211.16 L143.89,212.28 L144.08,213.46 L144.27,214.69 L144.46,215.94 L144.65,217.21 L144.84,218.47 L145.03,219.72 L145.22,220.96 L145.41,222.17 L145.60,223.36 L145.79,224.52 L145.98,225.65 L146.17,226.75 L146.36,227.82 L146.55,228.86 L146.74,229.87 L146.93,230.85 L147.12,231.81 L147.31,232.74 L147.50,233.64 L147.69,234.52 L147.88,235.37 L148.07,236.20 L148.26,237.01 L148.45,237.79 L148.64,238.56 L148.83,239.30 L149.02,240.03 L149.21,240.74 L149.40,241.43 L149.59,242.11 L149.79,242.76 L149.98,243.41 L150.17,244.03 L150.36,244.65 L150.55,245.25 L150.74,245.83 L150.93,246.41 L151.12,246.97 L151.31,247.52 L151.50,248.05 L151.69,248.58 L151.88,249.09 L152.07,249.60 L152.26,250.09 L152.45,250.58 L152.64,251.05 L152.83,251.52 L153.02,251.98 L153.21,252.43 L153.40,252.87 L153.59,253.30 L153.78,253.71 L153.97,254.11 L154.16,254.50 L154.35,254.87 L154.54,255.24 L154.73,255.59 L154.92,255.93 L155.11,256.27 L155.30,256.59 L155.49,256.91 L155.68,257.22 L155.87,257.52 L156.06,257.81 L156.25,258.10 L156.44,258.38 L156.63,258.66 L156.82,258.94 L157.01,259.21 L157.21,259.48 L157.40,259.75 L157.59,260.01 L157.78,260.28 L157.97,260.53 L158.16,260.79 L158.35,261.04 L158.54,261.29 L158.73,261.53 L158.92,261.77 L159.11,262.00 L159.30,262.23 L159.49,262.46 L159.68,262.68 L159.87,262.90 L160.06,263.12 L160.25,263.33 L160.44,263.54 L160.63,263.75 L160.82,263.95 L161.01,264.14 L161.20,264.34 L161.39,264.53 L161.58,264.72 L161.77,264.90 L161.96,265.08 L162.15,265.26 L162.34,265.43 L162.53,265.60 L162.72,265.76 L162.91,265.92 L163.10,266.08 L163.29,266.24 L163.48,266.39 L163.67,266.54 L163.86,266.68 L164.05,266.83 L164.24,266.96 L164.43,267.10 L164.62,267.23 L164.82,267.36 L165.01,267.49 L165.20,267.62 L165.39,267.74 L165.58,267.86 L165.77,267.97 L165.96,268.09 L166.15,268.20 L166.34,268.31 L166.53,268.42 L166.72,268.52 L166.91,268.62 L167.10,268.72 L167.29,268.82 L167.48,268.92 L167.67,269.01 L167.86,269.10 L168.05,269.19 L168.24,269.28 L168.43,269.36 L168.62,269.45 L168.81,269.53 L169.00,269.61 L169.19,269.69 L169.38,269.77 L169.57,269.84 L169.76,269.92 L169.95,269.99 L170.14,270.06 L170.33,270.13 L170.52,270.20 L170.71,270.26 L170.90,270.33 L171.09,270.39 L171.28,270.45 L171.47,270.51 L171.66,270.56 L171.85,270.62 L172.04,270.67 L172.24,270.72 L172.43,270.77 L172.62,270.82 L172.81,270.87 L173.00,270.91 L173.19,270.96 L173.38,271.00 L173.57,271.04 L173.76,271.08 L173.95,271.12 L174.14,271.16 L174.33,271.20 L174.52,271.23 L174.71,271.27 L174.90,271.30 L175.09,271.33 L175.28,271.37 L175.47,271.40 L175.66,271.43 L175.85,271.46 L176.04,271.49 L176.23,271.51 L176.42,271.54 L176.61,271.57 L176.80,271.59 L176.99,271.62 L177.18,271.65 L177.37,271.67 L177.56,271.70 L177.75,271.72 L177.94,271.74 L178.13,271.76 L178.32,271.78 L178.51,271.80 L178.70,271.82 L178.89,271.83 L179.08,271.85 L179.27,271.86 L179.46,271.88 L179.66,271.89 L179.85,271.90 L180.04,271.91 L180.23,271.93 L180.42,271.94 L180.61,271.95 L180.80,271.95 L180.99,271.96 L181.18,271.97 L181.37,271.98 L181.56,271.99 L181.75,271.99 L181.94,272.00 L182.13,272.01 L182.32,272.01 L182.51,272.02 L182.70,272.03 L182.89,272.03 L183.08,272.04 L183.27,272.05 L183.46,272.05 L183.65,272.06 L183.84,272.07 L184.03,272.07 L184.22,272.08 L184.41,272.09 L184.60,272.09 L184.79,272.10 L184.98,272.11 L185.17,272.12 L185.36,272.12 L185.55,272.13 L185.74,272.13 L185.93,272.14 L186.12,272.14 L186.31,272.15 L186.50,272.15 L186.69,272.15 L186.88,272.15 L187.07,272.16 L187.27,272.16 L187.46,272.16 L187.65,272.16 L187.84,272.16 L188.03,272.16 L188.22,272.15 L188.41,272.15 L188.60,272.15 L188.79,272.15 L188.98,272.14 L189.17,272.14 L189.36,272.14 L189.55,272.13 L189.74,272.13 L189.93,272.12 L190.12,272.11 L190.31,272.11 L190.50,272.10 L190.69,272.09 L190.88,272.09 L191.07,272.08 L191.26,272.07 L191.45,272.06 L191.64,272.05 L191.83,272.04 L192.02,272.03 L192.21,272.02 L192.40,272.01 L192.59,271.99 L192.78,271.98 L192.97,271.97 L193.16,271.96 L193.35,271.94 L193.54,271.93 L193.73,271.91 L193.92,271.90 L194.11,271.88 L194.30,271.87 L194.49,271.85 L194.69,271.83 L194.88,271.82 L195.07,271.80 L195.26,271.78 L195.45,271.76 L195.64,271.75 L195.83,271.73 L196.02,271.71 L196.21,271.69 L196.40,271.67 L196.59,271.64 L196.78,271.62 L196.97,271.60 L197.16,271.58 L197.35,271.55 L197.54,271.53 L197.73,271.51 L197.92,271.48 L198.11,271.46 L198.30,271.43 L198.49,271.40 L198.68,271.38 L198.87,271.35 L199.06,271.32 L199.25,271.30 L199.44,271.27 L199.63,271.24 L199.82,271.21 L200.01,271.18 L200.20,271.15 L200.39,271.12 L200.58,271.09 L200.77,271.06 L200.96,271.03 L201.15,271.00 L201.34,270.97 L201.53,270.93 L201.72,270.90 L201.91,270.87 L202.11,270.84 L202.30,270.80 L202.49,270.77 L202.68,270.74 L202.87,270.70 L203.06,270.67 L203.25,270.64 L203.44,270.60 L203.63,270.57 L203.82,270.54 L204.01,270.50 L204.20,270.47 L204.39,270.43 L204.58,270.40 L204.77,270.36 L204.96,270.33 L205.15,270.29 L205.34,270.26 L205.53,270.22 L205.72,270.18 L205.91,270.15 L206.10,270.11 L206.29,270.07 L206.48,270.04 L206.67,270.00 L206.86,269.96 L207.05,269.92 L207.24,269.89 L207.43,269.85 L207.62,269.81 L207.81,269.77 L208.00,269.73 L208.19,269.69 L208.38,269.65 L208.57,269.60 L208.76,269.56 L208.95,269.52 L209.14,269.48 L209.33,269.43 L209.53,269.39 L209.72,269.34 L209.91,269.30 L210.10,269.25 L210.29,269.21 L210.48,269.16 L210.67,269.11 L210.86,269.06 L211.05,269.01 L211.24,268.96 L211.43,268.91 L211.62,268.86 L211.81,268.81 L212.00,268.76 L212.19,268.71 L212.38,268.65 L212.57,268.60 L212.76,268.54 L212.95,268.48 L213.14,268.43 L213.33,268.37 L213.52,268.31 L213.71,268.25 L213.90,268.19 L214.09,268.14 L214.28,268.08 L214.47,268.01 L214.66,267.95 L214.85,267.89 L215.04,267.83 L215.23,267.77 L215.42,267.70 L215.61,267.64 L215.80,267.57 L215.99,267.51 L216.18,267.44 L216.37,267.38 L216.56,267.31 L216.75,267.24 L216.94,267.17 L217.14,267.10 L217.33,267.03 L217.52,266.96 L217.71,266.89 L217.90,266.82 L218.09,266.75 L218.28,266.68 L218.47,266.60 L218.66,266.53 L218.85,266.45 L219.04,266.38 L219.23,266.30 L219.42,266.22 L219.61,266.14 L219.80,266.07 L219.99,265.99 L220.18,265.90 L220.37,265.82 L220.56,265.74 L220.75,265.66 L220.94,265.58 L221.13,265.50 L221.32,265.42 L221.51,265.34 L221.70,265.26 L221.89,265.18 L222.08,265.11 L222.27,265.03 L222.46,264.95 L222.65,264.87 L222.84,264.79 L223.03,264.71 L223.22,264.63 L223.41,264.55 L223.60,264.47 L223.79,264.39 L223.98,264.31 L224.17,264.23 L224.36,264.15 L224.56,264.06 L224.75,263.98 L224.94,263.89 L225.13,263.81 L225.32,263.72 L225.51,263.63 L225.70,263.54 L225.89,263.44 L226.08,263.35 L226.27,263.25 L226.46,263.15 L226.65,263.05 L226.84,262.96 L227.03,262.87 L227.22,262.80 L227.41,262.72 L227.60,262.65 L227.79,262.57 L227.98,262.50 L228.17,262.41 L228.36,262.32 L228.55,262.22 L228.74,262.11 L228.93,261.98 L229.12,261.83 L229.31,261.65 L229.50,261.44 L229.69,261.19 L229.88,260.89 L230.07,260.53 L230.26,260.11 L230.45,259.62 L230.64,259.08 L230.83,258.50 L231.02,257.92 L231.21,257.35 L231.40,256.80 L231.59,256.26 L231.78,255.73 L231.97,255.19 L232.17,254.65 L232.36,254.10 L232.55,253.54 L232.74,252.96 L232.93,252.38 L233.12,251.79 L233.31,251.21 L233.50,250.64 L233.69,250.10 L233.88,249.61 L234.07,249.18 L234.26,248.83 L234.45,248.58 L234.64,248.43 L234.83,248.39 L235.02,248.45 L235.21,248.61 L235.40,248.85 L235.59,249.15 L235.78,249.47 L235.97,249.81 L236.16,250.14 L236.35,250.45 L236.54,250.73 L236.73,250.96 L236.92,251.15 L237.11,251.28 L237.30,251.37 L237.49,251.40 L237.68,251.39 L237.87,251.34 L238.06,251.25 L238.25,251.13 L238.44,250.98 L238.63,250.80 L238.82,250.59 L239.01,250.35 L239.20,250.09 L239.39,249.81 L239.59,249.49 L239.78,249.16 L239.97,248.80 L240.16,248.41 L240.35,248.00 L240.54,247.58 L240.73,247.14 L240.92,246.68 L241.11,246.20 L241.30,245.71 L241.49,245.22 L241.68,244.75 L241.87,244.32 L242.06,243.94 L242.25,243.61 L242.44,243.31 L242.63,243.01 L242.82,242.69 L243.01,242.32 L243.20,241.90 L243.39,241.42 L243.58,240.88 L243.77,240.28 L243.96,239.62 L244.15,238.91 L244.34,238.13 L244.53,237.30 L244.72,236.40 L244.91,235.45 L245.10,234.44 L245.29,233.38 L245.48,232.28 L245.67,231.15 L245.86,229.99 L246.05,228.82 L246.24,227.64 L246.43,226.49 L246.62,225.38 L246.81,224.35 L247.01,223.44 L247.20,222.67 L247.39,222.10 L247.58,221.75 L247.77,221.65 L247.96,221.79 L248.15,222.19 L248.34,222.80 L248.53,223.60 L248.72,224.53 L248.91,225.55 L249.10,226.63 L249.29,227.73 L249.48,228.83 L249.67,229.91 L249.86,230.94 L250.05,231.93 L250.24,232.86 L250.43,233.74 L250.62,234.55 L250.81,235.30 L251.00,235.98 L251.19,236.60 L251.38,237.17 L251.57,237.67 L251.76,238.12 L251.95,238.52 L252.14,238.87 L252.33,239.17 L252.52,239.43 L252.71,239.64 L252.90,239.82 L253.09,239.97 L253.28,240.08 L253.47,240.16 L253.66,240.21 L253.85,240.24 L254.04,240.25 L254.23,240.24 L254.43,240.21 L254.62,240.16 L254.81,240.10 L255.00,240.03 L255.19,239.94 L255.38,239.84 L255.57,239.73 L255.76,239.59 L255.95,239.44 L256.14,239.27 L256.33,239.08 L256.52,238.86 L256.71,238.61 L256.90,238.33 L257.09,238.02 L257.28,237.67 L257.47,237.27 L257.66,236.81 L257.85,236.30 L258.04,235.71 L258.23,235.04 L258.42,234.29 L258.61,233.45 L258.80,232.54 L258.99,231.59 L259.18,230.65 L259.37,229.74 L259.56,228.89 L259.75,228.10 L259.94,227.35 L260.13,226.63 L260.32,225.93 L260.51,225.23 L260.70,224.53 L260.89,223.82 L261.08,223.10 L261.27,222.37 L261.46,221.64 L261.65,220.92 L261.84,220.21 L262.04,219.54 L262.23,218.92 L262.42,218.37 L262.61,217.92 L262.80,217.58 L262.99,217.38 L263.18,217.30 L263.37,217.36 L263.56,217.52 L263.75,217.79 L263.94,218.12 L264.13,218.51 L264.32,218.91 L264.51,219.32 L264.70,219.71 L264.89,220.06 L265.08,220.36 L265.27,220.61 L265.46,220.80 L265.65,220.93 L265.84,220.99 L266.03,220.99 L266.22,220.93 L266.41,220.80 L266.60,220.61 L266.79,220.36 L266.98,220.06 L267.17,219.71 L267.36,219.31 L267.55,218.86 L267.74,218.37 L267.93,217.85 L268.12,217.28 L268.31,216.68 L268.50,216.04 L268.69,215.36 L268.88,214.65 L269.07,213.92 L269.26,213.15 L269.46,212.37 L269.65,211.59 L269.84,210.82 L270.03,210.08 L270.22,209.39 L270.41,208.74 L270.60,208.14 L270.79,207.57 L270.98,207.00 L271.17,206.40 L271.36,205.75 L271.55,205.05 L271.74,204.30 L271.93,203.49 L272.12,202.63 L272.31,201.72 L272.50,200.76 L272.69,199.75 L272.88,198.70 L273.07,197.62 L273.26,196.49 L273.45,195.33 L273.64,194.14 L273.83,192.93 L274.02,191.70 L274.21,190.46 L274.40,189.22 L274.59,188.01 L274.78,186.84 L274.97,185.73 L275.16,184.71 L275.35,183.83 L275.54,183.11 L275.73,182.58 L275.92,182.27 L276.11,182.20 L276.30,182.37 L276.49,182.78 L276.68,183.41 L276.88,184.23 L277.07,185.20 L277.26,186.30 L277.45,187.50 L277.64,188.75 L277.83,190.05 L278.02,191.37 L278.21,192.69 L278.40,194.01 L278.59,195.32 L278.78,196.61 L278.97,197.87 L279.16,199.11 L279.35,200.32 L279.54,201.51 L279.73,202.70 L279.92,203.88 L280.11,205.04 L280.30,206.19 L280.49,207.32 L280.68,208.44 L280.87,209.53 L281.06,210.59 L281.25,211.63 L281.44,212.64 L281.63,213.62 L281.82,214.56 L282.01,215.47 L282.20,216.34 L282.39,217.17 L282.58,217.95 L282.77,218.69 L282.96,219.39 L283.15,220.06 L283.34,220.71 L283.53,221.33 L283.72,221.94 L283.91,222.52 L284.10,223.08 L284.29,223.62 L284.49,224.15 L284.68,224.66 L284.87,225.15 L285.06,225.64 L285.25,226.11 L285.44,226.56 L285.63,227.01 L285.82,227.45 L286.01,227.89 L286.20,228.31 L286.39,228.73 L286.58,229.15 L286.77,229.56 L286.96,229.97 L287.15,230.38 L287.34,230.79 L287.53,231.20 L287.72,231.60 L287.91,231.99 L288.10,232.37 L288.29,232.75 L288.48,233.13 L288.67,233.49 L288.86,233.86 L289.05,234.21 L289.24,234.56 L289.43,234.91 L289.62,235.25 L289.81,235.59 L290.00,235.92 L290.19,236.24 L290.38,236.57 L290.57,236.89 L290.76,237.20 L290.95,237.51 L291.14,237.82 L291.33,238.12 L291.52,238.42 L291.71,238.71 L291.91,239.01 L292.10,239.30 L292.29,239.58 L292.48,239.87 L292.67,240.15 L292.86,240.43 L293.05,240.70 L293.24,240.97 L293.43,241.24 L293.62,241.51 L293.81,241.78 L294.00,242.04 L294.19,242.30 L294.38,242.55 L294.57,242.80 L294.76,243.05 L294.95,243.30 L295.14,243.54 L295.33,243.78 L295.52,244.02 L295.71,244.25 L295.90,244.48 L296.09,244.71 L296.28,244.94 L296.47,245.16 L296.66,245.38 L296.85,245.60 L297.04,245.81 L297.23,246.03 L297.42,246.24 L297.61,246.45 L297.80,246.65 L297.99,246.86 L298.18,247.06 L298.37,247.25 L298.56,247.45 L298.75,247.64 L298.94,247.84 L299.13,248.03 L299.32,248.21 L299.52,248.40 L299.71,248.58 L299.90,248.76 L300.09,248.94 L300.28,249.11 L300.47,249.29 L300.66,249.46 L300.85,249.63 L301.04,249.80 L301.23,249.96 L301.42,250.13 L301.61,250.29 L301.80,250.45 L301.99,250.61 L302.18,250.76 L302.37,250.91 L302.56,251.07 L302.75,251.22 L302.94,251.36 L303.13,251.51 L303.32,251.65 L303.51,251.80 L303.70,251.94 L303.89,252.07 L304.08,252.21 L304.27,252.35 L304.46,252.48 L304.65,252.61 L304.84,252.74 L305.03,252.87 L305.22,253.00 L305.41,253.12 L305.60,253.24 L305.79,253.37 L305.98,253.49 L306.17,253.60 L306.36,253.72 L306.55,253.84 L306.74,253.95 L306.94,254.06 L307.13,254.17 L307.32,254.28 L307.51,254.39 L307.70,254.50 L307.89,254.60 L308.08,254.71 L308.27,254.81 L308.46,254.91 L308.65,255.01 L308.84,255.11 L309.03,255.21 L309.22,255.30 L309.41,255.40 L309.60,255.49 L309.79,255.58 L309.98,255.67 L310.17,255.76 L310.36,255.85 L310.55,255.94 L310.74,256.03 L310.93,256.11 L311.12,256.19 L311.31,256.28 L311.50,256.36 L311.69,256.44 L311.88,256.52 L312.07,256.60 L312.26,256.67 L312.45,256.75 L312.64,256.82 L312.83,256.90 L313.02,256.97 L313.21,257.04 L313.40,257.11 L313.59,257.18 L313.78,257.25 L313.97,257.32 L314.16,257.39 L314.36,257.45 L314.55,257.52 L314.74,257.58 L314.93,257.65 L315.12,257.71 L315.31,257.77 L315.50,257.83 L315.69,257.89 L315.88,257.95 L316.07,258.01 L316.26,258.07 L316.45,258.12 L316.64,258.18 L316.83,258.23 L317.02,258.29 L317.21,258.34 L317.40,258.39 L317.59,258.44 L317.78,258.49 L317.97,258.54 L318.16,258.59 L318.35,258.64 L318.54,258.69 L318.73,258.74 L318.92,258.78 L319.11,258.83 L319.30,258.87 L319.49,258.92 L319.68,258.96 L319.87,259.01 L320.06,259.05 L320.25,259.09 L320.44,259.13 L320.63,259.17 L320.82,259.21 L321.01,259.25 L321.20,259.29 L321.39,259.33 L321.58,259.37 L321.77,259.41 L321.97,259.45 L322.16,259.48 L322.35,259.52 L322.54,259.55 L322.73,259.59 L322.92,259.62 L323.11,259.65 L323.30,259.69 L323.49,259.72 L323.68,259.75 L323.87,259.78 L324.06,259.81 L324.25,259.84 L324.44,259.87 L324.63,259.90 L324.82,259.93 L325.01,259.95 L325.20,259.98 L325.39,260.01 L325.58,260.03 L325.77,260.06 L325.96,260.08 L326.15,260.10 L326.34,260.12 L326.53,260.15 L326.72,260.17 L326.91,260.19 L327.10,260.21 L327.29,260.23 L327.48,260.24 L327.67,260.26 L327.86,260.28 L328.05,260.29 L328.24,260.31 L328.43,260.32 L328.62,260.34 L328.81,260.35 L329.00,260.36 L329.19,260.37 L329.39,260.38 L329.58,260.39 L329.77,260.40 L329.96,260.41 L330.15,260.42 L330.34,260.43 L330.53,260.43 L330.72,260.44 L330.91,260.44 L331.10,260.44 L331.29,260.45 L331.48,260.45 L331.67,260.45 L331.86,260.45 L332.05,260.45 L332.24,260.45 L332.43,260.45 L332.62,260.44 L332.81,260.44 L333.00,260.43 L333.19,260.43 L333.38,260.42 L333.57,260.41 L333.76,260.40 L333.95,260.39 L334.14,260.38 L334.33,260.37 L334.52,260.36 L334.71,260.34 L334.90,260.33 L335.09,260.31 L335.28,260.30 L335.47,260.28 L335.66,260.25 L335.85,260.23 L336.04,260.20 L336.23,260.16 L336.42,260.13 L336.61,260.09 L336.81,260.04 L337.00,260.00 L337.19,259.95 L337.38,259.90 L337.57,259.85 L337.76,259.79 L337.95,259.74 L338.14,259.68 L338.33,259.62 L338.52,259.56 L338.71,259.49 L338.90,259.43 L339.09,259.37 L339.28,259.30 L339.47,259.24 L339.66,259.17 L339.85,259.11 L340.04,259.04 L340.23,258.97 L340.42,258.91 L340.61,258.84 L340.80,258.78 L340.99,258.72 L341.18,258.66 L341.37,258.59 L341.56,258.53 L341.75,258.48 L341.94,258.42 L342.13,258.36 L342.32,258.31 L342.51,258.25 L342.70,258.20 L342.89,258.14 L343.08,258.08 L343.27,258.02 L343.46,257.96 L343.65,257.89 L343.84,257.83 L344.03,257.76 L344.23,257.69 L344.42,257.62 L344.61,257.55 L344.80,257.47 L344.99,257.40 L345.18,257.32 L345.37,257.24 L345.56,257.15 L345.75,257.07 L345.94,256.98 L346.13,256.89 L346.32,256.79 L346.51,256.69 L346.70,256.58 L346.89,256.47 L347.08,256.36 L347.27,256.24 L347.46,256.12 L347.65,255.98 L347.84,255.85 L348.03,255.70 L348.22,255.54 L348.41,255.38 L348.60,255.20 L348.79,255.01 L348.98,254.81 L349.17,254.59 L349.36,254.36 L349.55,254.10 L349.74,253.83 L349.93,253.53 L350.12,253.20 L350.31,252.84 L350.50,252.45 L350.69,252.03 L350.88,251.57 L351.07,251.07 L351.26,250.53 L351.45,249.97 L351.64,249.37 L351.84,248.77 L352.03,248.17 L352.22,247.62 L352.41,247.13 L352.60,246.75 L352.79,246.50 L352.98,246.41 L353.17,246.48 L353.36,246.70 L353.55,247.04 L353.74,247.47 L353.93,247.95 L354.12,248.44 L354.31,248.93 L354.50,249.40 L354.69,249.83 L354.88,250.22 L355.07,250.57 L355.26,250.87 L355.45,251.13 L355.64,251.36 L355.83,251.55 L356.02,251.71 L356.21,251.85 L356.40,251.96 L356.59,252.04 L356.78,252.11 L356.97,252.16 L357.16,252.20 L357.35,252.22 L357.54,252.23 L357.73,252.22 L357.92,252.21 L358.11,252.19 L358.30,252.17 L358.49,252.13 L358.68,252.09 L358.87,252.04 L359.06,251.99 L359.26,251.93 L359.45,251.87 L359.64,251.80 L359.83,251.73 L360.02,251.65 L360.21,251.57 L360.40,251.49 L360.59,251.41 L360.78,251.32 L360.97,251.23 L361.16,251.14 L361.35,251.04 L361.54,250.94 L361.73,250.84 L361.92,250.74 L362.11,250.63 L362.30,250.52 L362.49,250.41 L362.68,250.30 L362.87,250.18 L363.06,250.07 L363.25,249.95 L363.44,249.82 L363.63,249.70 L363.82,249.57 L364.01,249.44 L364.20,249.31 L364.39,249.18 L364.58,249.04 L364.77,248.91 L364.96,248.76 L365.15,248.62 L365.34,248.47 L365.53,248.33 L365.72,248.17 L365.91,248.02 L366.10,247.86 L366.29,247.70 L366.48,247.54 L366.68,247.37 L366.87,247.21 L367.06,247.03 L367.25,246.86 L367.44,246.68 L367.63,246.50 L367.82,246.31 L368.01,246.12 L368.20,245.93 L368.39,245.73 L368.58,245.53 L368.77,245.32 L368.96,245.11 L369.15,244.89 L369.34,244.67 L369.53,244.45 L369.72,244.22 L369.91,243.98 L370.10,243.74 L370.29,243.50 L370.48,243.24 L370.67,242.98 L370.86,242.72 L371.05,242.44 L371.24,242.16 L371.43,241.88 L371.62,241.58 L371.81,241.28 L372.00,240.97 L372.19,240.65 L372.38,240.32 L372.57,239.98 L372.76,239.63 L372.95,239.27 L373.14,238.90 L373.33,238.51 L373.52,238.12 L373.71,237.71 L373.90,237.28 L374.09,236.85 L374.29,236.39 L374.48,235.93 L374.67,235.44 L374.86,234.94 L375.05,234.41 L375.24,233.87 L375.43,233.31 L375.62,232.72 L375.81,232.12 L376.00,231.48 L376.19,230.82 L376.38,230.14 L376.57,229.42 L376.76,228.67 L376.95,227.90 L377.14,227.08 L377.33,226.23 L377.52,225.35 L377.71,224.42 L377.90,223.46 L378.09,222.45 L378.28,221.40 L378.47,220.31 L378.66,219.17 L378.85,218.00 L379.04,216.79 L379.23,215.54 L379.42,214.27 L379.61,212.99 L379.80,211.71 L379.99,210.46 L380.18,209.26 L380.37,208.16 L380.56,207.18 L380.75,206.37 L380.94,205.78 L381.13,205.44 L381.32,205.37 L381.51,205.58 L381.71,206.05 L381.90,206.75 L382.09,207.65 L382.28,208.69 L382.47,209.84 L382.66,211.06 L382.85,212.31 L383.04,213.57 L383.23,214.82 L383.42,216.04 L383.61,217.22 L383.80,218.35 L383.99,219.43 L384.18,220.46 L384.37,221.44 L384.56,222.36 L384.75,223.22 L384.94,224.03 L385.13,224.79 L385.32,225.49 L385.51,226.15 L385.70,226.76 L385.89,227.33 L386.08,227.85 L386.27,228.33 L386.46,228.77 L386.65,229.18 L386.84,229.55 L387.03,229.88 L387.22,230.18 L387.41,230.46 L387.60,230.70 L387.79,230.92 L387.98,231.11 L388.17,231.28 L388.36,231.42 L388.55,231.54 L388.74,231.64 L388.93,231.72 L389.12,231.78 L389.32,231.82 L389.51,231.85 L389.70,231.86 L389.89,231.85 L390.08,231.83 L390.27,231.79 L390.46,231.74 L390.65,231.68 L390.84,231.61 L391.03,231.52 L391.22,231.42 L391.41,231.31 L391.60,231.19 L391.79,231.06 L391.98,230.92 L392.17,230.77 L392.36,230.61 L392.55,230.44 L392.74,230.26 L392.93,230.08 L393.12,229.88 L393.31,229.68 L393.50,229.47 L393.69,229.25 L393.88,229.03 L394.07,228.79 L394.26,228.55 L394.45,228.30 L394.64,228.05 L394.83,227.78 L395.02,227.51 L395.21,227.24 L395.40,226.95 L395.59,226.66 L395.78,226.36 L395.97,226.05 L396.16,225.74 L396.35,225.42 L396.54,225.09 L396.74,224.76 L396.93,224.42 L397.12,224.07 L397.31,223.71 L397.50,223.34 L397.69,222.97 L397.88,222.59 L398.07,222.20 L398.26,221.80 L398.45,221.40 L398.64,220.98 L398.83,220.56 L399.02,220.13 L399.21,219.68 L399.40,219.23 L399.59,218.77 L399.78,218.30 L399.97,217.82 L400.16,217.32 L400.35,216.82 L400.54,216.31 L400.73,215.78 L400.92,215.24 L401.11,214.69 L401.30,214.13 L401.49,213.56 L401.68,212.97 L401.87,212.37 L402.06,211.75 L402.25,211.12 L402.44,210.47 L402.63,209.81 L402.82,209.13 L403.01,208.43 L403.20,207.72 L403.39,206.99 L403.58,206.23 L403.77,205.46 L403.96,204.66 L404.16,203.85 L404.35,203.01 L404.54,202.14 L404.73,201.26 L404.92,200.34 L405.11,199.40 L405.30,198.43 L405.49,197.43 L405.68,196.40 L405.87,195.34 L406.06,194.24 L406.25,193.12 L406.44,191.96 L406.63,190.77 L406.82,189.54 L407.01,188.29 L407.20,187.01 L407.39,185.71 L407.58,184.40 L407.77,183.08 L407.96,181.76 L408.15,180.47 L408.34,179.23 L408.53,178.06 L408.72,176.99 L408.91,176.07 L409.10,175.32 L409.29,174.78 L409.48,174.49 L409.67,174.47 L409.86,174.73 L410.05,175.27 L410.24,176.06 L410.43,177.06 L410.62,178.24 L410.81,179.55 L411.00,180.95 L411.19,182.42 L411.38,183.94 L411.57,185.46 L411.77,186.99 L411.96,188.50 L412.15,189.99 L412.34,191.44 L412.53,192.85 L412.72,194.22 L412.91,195.53 L413.10,196.81 L413.29,198.06 L413.48,199.27 L413.67,200.46 L413.86,201.62 L414.05,202.74 L414.24,203.84 L414.43,204.90 L414.62,205.94 L414.81,206.94 L415.00,207.91 L415.19,208.85 L415.38,209.76 L415.57,210.64 L415.76,211.49 L415.95,212.30 L416.14,213.09 L416.33,213.84 L416.52,214.56 L416.71,215.27 L416.90,215.96 L417.09,216.64 L417.28,217.30 L417.47,217.95 L417.66,218.59 L417.85,219.21 L418.04,219.82 L418.23,220.41 L418.42,221.00 L418.61,221.57 L418.80,222.13 L418.99,222.69 L419.19,223.23 L419.38,223.76 L419.57,224.28 L419.76,224.80 L419.95,225.30 L420.14,225.80 L420.33,226.28 L420.52,226.76 L420.71,227.24 L420.90,227.70 L421.09,228.16 L421.28,228.60 L421.47,229.04 L421.66,229.47 L421.85,229.89 L422.04,230.30 L422.23,230.70 L422.42,231.10 L422.61,231.48 L422.80,231.86 L422.99,232.24 L423.18,232.61 L423.37,232.97 L423.56,233.33 L423.75,233.68 L423.94,234.02 L424.13,234.36 L424.32,234.70 L424.51,235.03 L424.70,235.35 L424.89,235.67 L425.08,235.99 L425.27,236.31 L425.46,236.62 L425.65,236.93 L425.84,237.23 L426.03,237.54 L426.22,237.84 L426.41,238.13 L426.61,238.43 L426.80,238.73 L426.99,239.02 L427.18,239.31 L427.37,239.60 L427.56,239.89 L427.75,240.18 L427.94,240.47 L428.13,240.75 L428.32,241.03 L428.51,241.31 L428.70,241.59 L428.89,241.86 L429.08,242.14 L429.27,242.41 L429.46,242.67 L429.65,242.94 L429.84,243.20 L430.03,243.46 L430.22,243.72 L430.41,243.98 L430.60,244.23 L430.79,244.49 L430.98,244.74 L431.17,244.99 L431.36,245.23 L431.55,245.48 L431.74,245.72 L431.93,245.96 L432.12,246.20 L432.31,246.44 L432.50,246.67 L432.69,246.90 L432.88,247.14 L433.07,247.36 L433.26,247.59 L433.45,247.82 L433.64,248.04 L433.83,248.26 L434.02,248.48 L434.22,248.70 L434.41,248.92 L434.60,249.14 L434.79,249.35 L434.98,249.56 L435.17,249.77 L435.36,249.98 L435.55,250.19 L435.74,250.39 L435.93,250.60 L436.12,250.80 L436.31,251.00 L436.50,251.20 L436.69,251.39 L436.88,251.59 L437.07,251.78 L437.26,251.98 L437.45,252.17 L437.64,252.36 L437.83,252.54 L438.02,252.73 L438.21,252.92 L438.40,253.10 L438.59,253.28 L438.78,253.47 L438.97,253.65 L439.16,253.82 L439.35,254.00 L439.54,254.18 L439.73,254.35 L439.92,254.53 L440.11,254.70 L440.30,254.87 L440.49,255.04 L440.68,255.21 L440.87,255.38 L441.06,255.55 L441.25,255.71 L441.44,255.88 L441.64,256.04 L441.83,256.20 L442.02,256.37 L442.21,256.53 L442.40,256.69 L442.59,256.84 L442.78,257.00 L442.97,257.16 L443.16,257.31 L443.35,257.47 L443.54,257.62 L443.73,257.77 L443.92,257.93 L444.11,258.08 L444.30,258.23 L444.49,258.38 L444.68,258.52 L444.87,258.67 L445.06,258.82 L445.25,258.96 L445.44,259.11 L445.63,259.25 L445.82,259.40 L446.01,259.54 L446.20,259.68 L446.39,259.82 L446.58,259.96 L446.77,260.10 L446.96,260.23 L447.15,260.37 L447.34,260.51 L447.53,260.64 L447.72,260.78 L447.91,260.91 L448.10,261.04 L448.29,261.17 L448.48,261.30 L448.67,261.43 L448.86,261.56 L449.06,261.69 L449.25,261.82 L449.44,261.94 L449.63,262.07 L449.82,262.19 L450.01,262.32 L450.20,262.44 L450.39,262.56 L450.58,262.69 L450.77,262.81 L450.96,262.93 L451.15,263.05 L451.34,263.17 L451.53,263.29 L451.72,263.41 L451.91,263.53 L452.10,263.64 L452.29,263.76 L452.48,263.88 L452.67,263.99 L452.86,264.11 L453.05,264.22 L453.24,264.33 L453.43,264.45 L453.62,264.56 L453.81,264.67 L454.00,264.78 L454.19,264.90 L454.38,265.01 L454.57,265.12 L454.76,265.23 L454.95,265.34 L455.14,265.45 L455.33,265.56 L455.52,265.66 L455.71,265.77 L455.90,265.88 L456.09,265.99 L456.28,266.09 L456.48,266.20 L456.67,266.31 L456.86,266.41 L457.05,266.52 L457.24,266.62 L457.43,266.73 L457.62,266.83 L457.81,266.93 L458.00,267.04 L458.19,267.14 L458.38,267.24 L458.57,267.34 L458.76,267.44 L458.95,267.54 L459.14,267.64 L459.33,267.73 L459.52,267.83 L459.71,267.93 L459.90,268.02 L460.09,268.12 L460.28,268.22 L460.47,268.31 L460.66,268.41 L460.85,268.50 L461.04,268.59 L461.23,268.69 L461.42,268.78 L461.61,268.87 L461.80,268.97 L461.99,269.06 L462.18,269.15 L462.37,269.24 L462.56,269.33 L462.75,269.43 L462.94,269.52 L463.13,269.61 L463.32,269.70 L463.51,269.79 L463.70,269.88 L463.89,269.97 L464.09,270.06 L464.28,270.15 L464.47,270.24 L464.66,270.33 L464.85,270.42 L465.04,270.51 L465.23,270.60 L465.42,270.70 L465.61,270.79 L465.80,270.88 L465.99,270.97 L466.18,271.06 L466.37,271.15 L466.56,271.24 L466.75,271.33 L466.94,271.43 L467.13,271.52 L467.32,271.61 L467.51,271.70 L467.70,271.80 L467.89,271.89 L468.08,271.98 L468.27,272.08 L468.46,272.17 L468.65,272.27 L468.84,272.36 L469.03,272.45 L469.22,272.55 L469.41,272.64 L469.60,272.73 L469.79,272.83 L469.98,272.92 L470.17,273.01 L470.36,273.10 L470.55,273.20 L470.74,273.29 L470.93,273.38 L471.12,273.47 L471.31,273.56 L471.51,273.65 L471.70,273.74 L471.89,273.83 L472.08,273.92 L472.27,274.01 L472.46,274.10 L472.65,274.19 L472.84,274.28 L473.03,274.37 L473.22,274.46 L473.41,274.54 L473.60,274.63 L473.79,274.72 L473.98,274.81 L474.17,274.90 L474.36,274.98 L474.55,275.07 L474.74,275.16 L474.93,275.24 L475.12,275.33 L475.31,275.42 L475.50,275.50 L475.69,275.59 L475.88,275.67 L476.07,275.76 L476.26,275.84 L476.45,275.93 L476.64,276.01 L476.83,276.10 L477.02,276.18 L477.21,276.27 L477.40,276.35 L477.59,276.44 L477.78,276.52 L477.97,276.60 L478.16,276.69 L478.35,276.77 L478.54,276.85 L478.73,276.94 L478.93,277.02 L479.12,277.10 L479.31,277.18 L479.50,277.26 L479.69,277.35 L479.88,277.43 L480.07,277.51 L480.26,277.59 L480.45,277.68 L480.64,277.76 L480.83,277.84 L481.02,277.92 L481.21,278.01 L481.40,278.09 L481.59,278.17 L481.78,278.25 L481.97,278.34 L482.16,278.42 L482.35,278.50 L482.54,278.58 L482.73,278.67 L482.92,278.75 L483.11,278.83 L483.30,278.91 L483.49,279.00 L483.68,279.08 L483.87,279.16 L484.06,279.24 L484.25,279.33 L484.44,279.41 L484.63,279.49 L484.82,279.57 L485.01,279.65 L485.20,279.74 L485.39,279.82 L485.58,279.90 L485.77,279.98 L485.96,280.06 L486.15,280.14 L486.34,280.23 L486.54,280.31 L486.73,280.39 L486.92,280.47 L487.11,280.55 L487.30,280.63 L487.49,280.71 L487.68,280.79 L487.87,280.87 L488.06,280.95 L488.25,281.03 L488.44,281.11 L488.63,281.19 L488.82,281.27 L489.01,281.35 L489.20,281.43 L489.39,281.51 L489.58,281.59 L489.77,281.67 L489.96,281.75 L490.15,281.83 L490.34,281.91 L490.53,281.99 L490.72,282.08 L490.91,282.16 L491.10,282.24 L491.29,282.32 L491.48,282.41 L491.67,282.49 L491.86,282.57 L492.05,282.66 L492.24,282.74 L492.43,282.83 L492.62,282.91 L492.81,282.99 L493.00,283.08 L493.19,283.16 L493.38,283.24 L493.57,283.33 L493.76,283.41 L493.96,283.49 L494.15,283.58 L494.34,283.66 L494.53,283.74 L494.72,283.83 L494.91,283.91 L495.10,283.99 L495.29,284.07 L495.48,284.16 L495.67,284.24 L495.86,284.32 L496.05,284.40 L496.24,284.48 L496.43,284.56 L496.62,284.64 L496.81,284.72 L497.00,284.79 L497.19,284.87 L497.38,284.95 L497.57,285.03 L497.76,285.10 L497.95,285.18 L498.14,285.25 L498.33,285.33 L498.52,285.40 L498.71,285.47 L498.90,285.54 L499.09,285.61 L499.28,285.68 L499.47,285.75 L499.66,285.82 L499.85,285.89 L500.04,285.96 L500.23,286.02 L500.42,286.09 L500.61,286.15 L500.80,286.22 L500.99,286.28 L501.18,286.35 L501.38,286.41 L501.57,286.47 L501.76,286.54 L501.95,286.60 L502.14,286.67 L502.33,286.73 L502.52,286.79 L502.71,286.86 L502.90,286.92 L503.09,286.98 L503.28,287.04 L503.47,287.11 L503.66,287.17 L503.85,287.23 L504.04,287.29 L504.23,287.36 L504.42,287.42 L504.61,287.48 L504.80,287.54 L504.99,287.61 L505.18,287.67 L505.37,287.73 L505.56,287.79 L505.75,287.85 L505.94,287.91 L506.13,287.97 L506.32,288.04 L506.51,288.10 L506.70,288.16 L506.89,288.22 L507.08,288.28 L507.27,288.34 L507.46,288.40 L507.65,288.46 L507.84,288.52 L508.03,288.58 L508.22,288.64 L508.41,288.70 L508.60,288.76 L508.79,288.82 L508.99,288.88 L509.18,288.94 L509.37,289.00 L509.56,289.06 L509.75,289.12 L509.94,289.18 L510.13,289.24 L510.32,289.29 L510.51,289.35 L510.70,289.41 L510.89,289.47 L511.08,289.53 L511.27,289.59 L511.46,289.65 L511.65,289.70 L511.84,289.76 L512.03,289.82 L512.22,289.88 L512.41,289.94 L512.60,289.99 L512.79,290.05 L512.98,290.11 L513.17,290.17 L513.36,290.22 L513.55,290.28 L513.74,290.34 L513.93,290.39 L514.12,290.45 L514.31,290.51 L514.50,290.56 L514.69,290.62 L514.88,290.68 L515.07,290.73 L515.26,290.79 L515.45,290.85 L515.64,290.90 L515.83,290.96 L516.02,291.01 L516.21,291.07 L516.41,291.13 L516.60,291.18 L516.79,291.24 L516.98,291.29 L517.17,291.35 L517.36,291.40 L517.55,291.46 L517.74,291.51 L517.93,291.57 L518.12,291.62 L518.31,291.68 L518.50,291.73 L518.69,291.79 L518.88,291.84 L519.07,291.90 L519.26,291.95 L519.45,292.00 L519.64,292.06 L519.83,292.11 L520.02,292.17 L520.21,292.22 L520.40,292.27 L520.59,292.33 L520.78,292.38 L520.97,292.43 L521.16,292.49 L521.35,292.54 L521.54,292.59 L521.73,292.65 L521.92,292.70 L522.11,292.75 L522.30,292.81 L522.49,292.86 L522.68,292.91 L522.87,292.96 L523.06,293.02 L523.25,293.07 L523.44,293.12 L523.63,293.17 L523.83,293.23 L524.02,293.28 L524.21,293.33 L524.40,293.38 L524.59,293.43 L524.78,293.49 L524.97,293.54 L525.16,293.59 L525.35,293.64 L525.54,293.69 L525.73,293.74 L525.92,293.79 L526.11,293.84 L526.30,293.90 L526.49,293.95 L526.68,294.00 L526.87,294.05 L527.06,294.10 L527.25,294.15 L527.44,294.20 L527.63,294.25 L527.82,294.30 L528.01,294.35 L528.20,294.40 L528.39,294.45 L528.58,294.50 L528.77,294.55 L528.96,294.60 L529.15,294.65 L529.34,294.70 L529.53,294.75 L529.72,294.80 L529.91,294.85 L530.10,294.90 L530.29,294.95 L530.48,294.99 L530.67,295.04 L530.86,295.09 L531.05,295.14 L531.24,295.19 L531.44,295.24 L531.63,295.29 L531.82,295.34 L532.01,295.38 L532.20,295.43 L532.39,295.48 L532.58,295.53 L532.77,295.58 L532.96,295.62 L533.15,295.67 L533.34,295.72 L533.53,295.77 L533.72,295.81 L533.91,295.86 L534.10,295.91 L534.29,295.96 L534.48,296.00 L534.67,296.05 L534.86,296.10 L535.05,296.15 L535.24,296.19 L535.43,296.24 L535.62,296.29 L535.81,296.33 L536.00,296.38 L536.19,296.43 L536.38,296.47 L536.57,296.52 L536.76,296.57 L536.95,296.61 L537.14,296.66 L537.33,296.70 L537.52,296.75 L537.71,296.79 L537.90,296.84 L538.09,296.89 L538.28,296.93 L538.47,296.98 L538.66,297.02 L538.86,297.07 L539.05,297.11 L539.24,297.16 L539.43,297.20 L539.62,297.25 L539.81,297.29 L540.00,297.34 L540.19,297.38 L540.38,297.43 L540.57,297.47 L540.76,297.52 L540.95,297.56 L541.14,297.61 L541.33,297.65 L541.52,297.69 L541.71,297.74 L541.90,297.78 L542.09,297.83 L542.28,297.87 L542.47,297.91 L542.66,297.96 L542.85,298.00 L543.04,298.04 L543.23,298.09 L543.42,298.13 L543.61,298.17 L543.80,298.22 L543.99,298.26 L544.18,298.30 L544.37,298.35 L544.56,298.39 L544.75,298.43 L544.94,298.48 L545.13,298.52 L545.32,298.56 L545.51,298.60 L545.70,298.64 L545.89,298.69 L546.08,298.73 L546.27,298.77 L546.47,298.81 L546.66,298.86 L546.85,298.90 L547.04,298.94 L547.23,298.98 L547.42,299.02 L547.61,299.06 L547.80,299.11 L547.99,299.15 L548.18,299.19 L548.37,299.23 L548.56,299.27 L548.75,299.31 L548.94,299.35 L549.13,299.39 L549.32,299.43 L549.51,299.47 L549.70,299.52 L549.89,299.56 L550.08,299.60 L550.27,299.64 L550.46,299.68 L550.65,299.72 L550.84,299.76 L551.03,299.80 L551.22,299.84 L551.41,299.88 L551.60,299.92 L551.79,299.96 L551.98,300.00 L552.17,300.04 L552.36,300.08 L552.55,300.11 L552.74,300.15 L552.93,300.19 L553.12,300.23 L553.31,300.27 L553.50,300.31 L553.69,300.35 L553.89,300.39 L554.08,300.43 L554.27,300.47 L554.46,300.50 L554.65,300.54 L554.84,300.58 L555.03,300.62 L555.22,300.66 L555.41,300.70 L555.60,300.73 L555.79,300.77 L555.98,300.81 L556.17,300.85 L556.36,300.88 L556.55,300.92 L556.74,300.96 L556.93,301.00 L557.12,301.03 L557.31,301.07 L557.50,301.11" stroke="#85c2a3" stroke-width="2.5"/>
<path d="M108.50,134.09 L108.69,133.40 L108.88,132.67 L109.07,131.89 L109.26,131.06 L109.45,130.17 L109.64,129.22 L109.83,128.20 L110.02,127.10 L110.21,125.92 L110.40,124.65 L110.59,123.28 L110.78,121.81 L110.97,120.23 L111.16,118.56 L111.35,116.82 L111.54,115.04 L111.73,113.27 L111.92,111.63 L112.11,110.23 L112.31,109.23 L112.50,108.74 L112.69,108.85 L112.88,109.51 L113.07,110.61 L113.26,111.99 L113.45,113.51 L113.64,115.05 L113.83,116.52 L114.02,117.86 L114.21,119.06 L114.40,120.11 L114.59,120.99 L114.78,121.73 L114.97,122.32 L115.16,122.78 L115.35,123.13 L115.54,123.36 L115.73,123.50 L115.92,123.55 L116.11,123.52 L116.30,123.42 L116.49,123.25 L116.68,123.02 L116.87,122.74 L117.06,122.40 L117.25,122.00 L117.44,121.56 L117.63,121.06 L117.82,120.51 L118.01,119.89 L118.20,119.21 L118.39,118.44 L118.58,117.55 L118.77,116.51 L118.96,115.22 L119.15,113.57 L119.34,111.33 L119.53,108.40 L119.72,105.61 L119.92,105.27 L120.11,107.06 L120.30,108.54 L120.49,109.12 L120.68,109.05 L120.87,108.58 L121.06,107.88 L121.25,107.02 L121.44,106.04 L121.63,104.97 L121.82,103.81 L122.01,102.57 L122.20,101.26 L122.39,99.87 L122.58,98.39 L122.77,96.83 L122.96,95.18 L123.15,93.43 L123.34,91.58 L123.53,89.62 L123.72,87.54 L123.91,85.34 L124.10,83.03 L124.29,80.61 L124.48,78.12 L124.67,75.62 L124.86,73.21 L125.05,71.06 L125.24,69.39 L125.43,68.45 L125.62,68.40 L125.81,69.25 L126.00,70.86 L126.19,72.99 L126.38,75.40 L126.57,77.92 L126.76,80.44 L126.95,82.90 L127.14,85.26 L127.34,87.50 L127.53,89.63 L127.72,91.64 L127.91,93.54 L128.10,95.34 L128.29,97.05 L128.48,98.67 L128.67,100.21 L128.86,101.67 L129.05,103.06 L129.24,104.40 L129.43,105.67 L129.62,106.89 L129.81,108.06 L130.00,109.18 L130.19,110.27 L130.38,111.31 L130.57,112.31 L130.76,113.28 L130.95,114.21 L131.14,115.12 L131.33,115.99 L131.52,116.84 L131.71,117.66 L131.90,118.46 L132.09,119.23 L132.28,119.99 L132.47,120.72 L132.66,121.43 L132.85,122.12 L133.04,122.80 L133.23,123.45 L133.42,124.09 L133.61,124.72 L133.80,125.33 L133.99,125.93 L134.18,126.51 L134.37,127.08 L134.56,127.63 L134.76,128.18 L134.95,128.71 L135.14,129.23 L135.33,129.74 L135.52,130.24 L135.71,130.73 L135.90,131.20 L136.09,131.67 L136.28,132.13 L136.47,132.59 L136.66,133.03 L136.85,133.46 L137.04,133.89 L137.23,134.31 L137.42,134.72 L137.61,135.12 L137.80,135.52 L137.99,135.91 L138.18,136.29 L138.37,136.66 L138.56,137.03 L138.75,137.40 L138.94,137.75 L139.13,138.10 L139.32,138.45 L139.51,138.79 L139.70,139.12 L139.89,139.45 L140.08,139.77 L140.27,140.09 L140.46,140.40 L140.65,140.71 L140.84,141.01 L141.03,141.31 L141.22,141.60 L141.41,141.89 L141.60,142.17 L141.79,142.45 L141.98,142.73 L142.18,143.00 L142.37,143.27 L142.56,143.53 L142.75,143.79 L142.94,144.05 L143.13,144.30 L143.32,144.55 L143.51,144.79 L143.70,145.03 L143.89,145.27 L144.08,145.50 L144.27,145.73 L144.46,145.96 L144.65,146.18 L144.84,146.40 L145.03,146.62 L145.22,146.84 L145.41,147.05 L145.60,147.25 L145.79,147.46 L145.98,147.66 L146.17,147.86 L146.36,148.06 L146.55,148.25 L146.74,148.44 L146.93,148.63 L147.12,148.82 L147.31,149.00 L147.50,149.18 L147.69,149.36 L147.88,149.53 L148.07,149.70 L148.26,149.88 L148.45,150.04 L148.64,150.21 L148.83,150.37 L149.02,150.53 L149.21,150.69 L149.40,150.85 L149.59,151.00 L149.79,151.15 L149.98,151.30 L150.17,151.45 L150.36,151.60 L150.55,151.74 L150.74,151.88 L150.93,152.02 L151.12,152.16 L151.31,152.29 L151.50,152.43 L151.69,152.56 L151.88,152.69 L152.07,152.82 L152.26,152.94 L152.45,153.07 L152.64,153.19 L152.83,153.31 L153.02,153.43 L153.21,153.55 L153.40,153.66 L153.59,153.77 L153.78,153.89 L153.97,154.00 L154.16,154.10 L154.35,154.21 L154.54,154.32 L154.73,154.42 L154.92,154.52 L155.11,154.62 L155.30,154.72 L155.49,154.82 L155.68,154.92 L155.87,155.01 L156.06,155.11 L156.25,155.20 L156.44,155.29 L156.63,155.38 L156.82,155.46 L157.01,155.55 L157.21,155.63 L157.40,155.72 L157.59,155.80 L157.78,155.88 L157.97,155.96 L158.16,156.04 L158.35,156.12 L158.54,156.19 L158.73,156.27 L158.92,156.34 L159.11,156.41 L159.30,156.48 L159.49,156.55 L159.68,156.62 L159.87,156.69 L160.06,156.75 L160.25,156.82 L160.44,156.88 L160.63,156.94 L160.82,157.00 L161.01,157.06 L161.20,157.12 L161.39,157.18 L161.58,157.24 L161.77,157.29 L161.96,157.35 L162.15,157.40 L162.34,157.46 L162.53,157.51 L162.72,157.56 L162.91,157.61 L163.10,157.66 L163.29,157.70 L163.48,157.75 L163.67,157.80 L163.86,157.84 L164.05,157.89 L164.24,157.93 L164.43,157.97 L164.62,158.01 L164.82,158.05 L165.01,158.09 L165.20,158.13 L165.39,158.17 L165.58,158.20 L165.77,158.24 L165.96,158.27 L166.15,158.31 L166.34,158.34 L166.53,158.37 L166.72,158.40 L166.91,158.43 L167.10,158.46 L167.29,158.49 L167.48,158.52 L167.67,158.55 L167.86,158.58 L168.05,158.60 L168.24,158.63 L168.43,158.65 L168.62,158.67 L168.81,158.70 L169.00,158.72 L169.19,158.74 L169.38,158.76 L169.57,158.78 L169.76,158.80 L169.95,158.82 L170.14,158.83 L170.33,158.85 L170.52,158.87 L170.71,158.88 L170.90,158.90 L171.09,158.91 L171.28,158.92 L171.47,158.94 L171.66,158.95 L171.85,158.96 L172.04,158.97 L172.24,158.98 L172.43,158.99 L172.62,159.00 L172.81,159.01 L173.00,159.01 L173.19,159.02 L173.38,159.03 L173.57,159.03 L173.76,159.04 L173.95,159.04 L174.14,159.04 L174.33,159.05 L174.52,159.05 L174.71,159.05 L174.90,159.05 L175.09,159.05 L175.28,159.05 L175.47,159.05 L175.66,159.05 L175.85,159.05 L176.04,159.05 L176.23,159.04 L176.42,159.04 L176.61,159.04 L176.80,159.03 L176.99,159.03 L177.18,159.02 L177.37,159.01 L177.56,159.01 L177.75,159.00 L177.94,158.99 L178.13,158.98 L178.32,158.97 L178.51,158.97 L178.70,158.96 L178.89,158.94 L179.08,158.93 L179.27,158.92 L179.46,158.91 L179.66,158.90 L179.85,158.88 L180.04,158.87 L180.23,158.86 L180.42,158.84 L180.61,158.83 L180.80,158.81 L180.99,158.79 L181.18,158.78 L181.37,158.76 L181.56,158.74 L181.75,158.72 L181.94,158.70 L182.13,158.69 L182.32,158.67 L182.51,158.65 L182.70,158.62 L182.89,158.60 L183.08,158.58 L183.27,158.56 L183.46,158.54 L183.65,158.51 L183.84,158.49 L184.03,158.47 L184.22,158.44 L184.41,158.42 L184.60,158.39 L184.79,158.36 L184.98,158.34 L185.17,158.31 L185.36,158.28 L185.55,158.26 L185.74,158.23 L185.93,158.20 L186.12,158.17 L186.31,158.14 L186.50,158.11 L186.69,158.08 L186.88,158.05 L187.07,158.02 L187.27,157.99 L187.46,157.95 L187.65,157.92 L187.84,157.89 L188.03,157.85 L188.22,157.82 L188.41,157.78 L188.60,157.75 L188.79,157.71 L188.98,157.68 L189.17,157.64 L189.36,157.60 L189.55,157.57 L189.74,157.53 L189.93,157.49 L190.12,157.45 L190.31,157.41 L190.50,157.37 L190.69,157.33 L190.88,157.29 L191.07,157.25 L191.26,157.21 L191.45,157.17 L191.64,157.13 L191.83,157.08 L192.02,157.04 L192.21,157.00 L192.40,156.95 L192.59,156.91 L192.78,156.86 L192.97,156.82 L193.16,156.77 L193.35,156.72 L193.54,156.68 L193.73,156.63 L193.92,156.58 L194.11,156.53 L194.30,156.48 L194.49,156.44 L194.69,156.39 L194.88,156.34 L195.07,156.29 L195.26,156.23 L195.45,156.18 L195.64,156.13 L195.83,156.08 L196.02,156.02 L196.21,155.97 L196.40,155.92 L196.59,155.86 L196.78,155.81 L196.97,155.75 L197.16,155.70 L197.35,155.64 L197.54,155.58 L197.73,155.53 L197.92,155.47 L198.11,155.41 L198.30,155.35 L198.49,155.29 L198.68,155.23 L198.87,155.17 L199.06,155.11 L199.25,155.05 L199.44,154.99 L199.63,154.93 L199.82,154.86 L200.01,154.80 L200.20,154.73 L200.39,154.67 L200.58,154.60 L200.77,154.54 L200.96,154.47 L201.15,154.41 L201.34,154.34 L201.53,154.27 L201.72,154.20 L201.91,154.13 L202.11,154.06 L202.30,153.99 L202.49,153.92 L202.68,153.85 L202.87,153.78 L203.06,153.71 L203.25,153.63 L203.44,153.56 L203.63,153.49 L203.82,153.41 L204.01,153.34 L204.20,153.26 L204.39,153.18 L204.58,153.11 L204.77,153.03 L204.96,152.95 L205.15,152.87 L205.34,152.79 L205.53,152.71 L205.72,152.63 L205.91,152.54 L206.10,152.46 L206.29,152.38 L206.48,152.29 L206.67,152.21 L206.86,152.12 L207.05,152.04 L207.24,151.95 L207.43,151.86 L207.62,151.77 L207.81,151.68 L208.00,151.59 L208.19,151.50 L208.38,151.41 L208.57,151.31 L208.76,151.22 L208.95,151.13 L209.14,151.03 L209.33,150.93 L209.53,150.84 L209.72,150.74 L209.91,150.64 L210.10,150.54 L210.29,150.44 L210.48,150.33 L210.67,150.23 L210.86,150.13 L211.05,150.02 L211.24,149.91 L211.43,149.81 L211.62,149.70 L211.81,149.59 L212.00,149.48 L212.19,149.36 L212.38,149.25 L212.57,149.13 L212.76,149.02 L212.95,148.90 L213.14,148.78 L213.33,148.66 L213.52,148.54 L213.71,148.42 L213.90,148.29 L214.09,148.17 L214.28,148.04 L214.47,147.91 L214.66,147.78 L214.85,147.64 L215.04,147.51 L215.23,147.37 L215.42,147.23 L215.61,147.09 L215.80,146.95 L215.99,146.81 L216.18,146.66 L216.37,146.51 L216.56,146.36 L216.75,146.21 L216.94,146.05 L217.14,145.89 L217.33,145.73 L217.52,145.57 L217.71,145.40 L217.90,145.23 L218.09,145.06 L218.28,144.88 L218.47,144.70 L218.66,144.52 L218.85,144.34 L219.04,144.15 L219.23,143.95 L219.42,143.75 L219.61,143.55 L219.80,143.34 L219.99,143.13 L220.18,142.92 L220.37,142.69 L220.56,142.47 L220.75,142.24 L220.94,142.00 L221.13,141.75 L221.32,141.50 L221.51,141.24 L221.70,140.97 L221.89,140.70 L222.08,140.42 L222.27,140.12 L222.46,139.82 L222.65,139.51 L222.84,139.19 L223.03,138.86 L223.22,138.51 L223.41,138.15 L223.60,137.78 L223.79,137.39 L223.98,136.99 L224.17,136.57 L224.36,136.13 L224.56,135.68 L224.75,135.20 L224.94,134.69 L225.13,134.17 L225.32,133.61 L225.51,133.03 L225.70,132.42 L225.89,131.77 L226.08,131.08 L226.27,130.35 L226.46,129.58 L226.65,128.76 L226.84,127.89 L227.03,126.96 L227.22,125.96 L227.41,124.89 L227.60,123.74 L227.79,122.50 L227.98,121.17 L228.17,119.73 L228.36,118.17 L228.55,116.48 L228.74,114.64 L228.93,112.64 L229.12,110.46 L229.31,108.10 L229.50,105.56 L229.69,102.83 L229.88,99.99 L230.07,97.14 L230.26,94.49 L230.45,92.40 L230.64,91.25 L230.83,91.35 L231.02,92.67 L231.21,94.89 L231.40,97.59 L231.59,100.45 L231.78,103.27 L231.97,105.94 L232.17,108.42 L232.36,110.70 L232.55,112.78 L232.74,114.66 L232.93,116.37 L233.12,117.92 L233.31,119.31 L233.50,120.57 L233.69,121.71 L233.88,122.73 L234.07,123.65 L234.26,124.47 L234.45,125.21 L234.64,125.87 L234.83,126.47 L235.02,126.99 L235.21,127.46 L235.40,127.87 L235.59,128.23 L235.78,128.55 L235.97,128.83 L236.16,129.06 L236.35,129.27 L236.54,129.44 L236.73,129.57 L236.92,129.69 L237.11,129.77 L237.30,129.84 L237.49,129.88 L237.68,129.90 L237.87,129.90 L238.06,129.88 L238.25,129.85 L238.44,129.80 L238.63,129.74 L238.82,129.66 L239.01,129.57 L239.20,129.47 L239.39,129.36 L239.59,129.24 L239.78,129.10 L239.97,128.96 L240.16,128.81 L240.35,128.65 L240.54,128.48 L240.73,128.30 L240.92,128.11 L241.11,127.92 L241.30,127.72 L241.49,127.51 L241.68,127.30 L241.87,127.08 L242.06,126.85 L242.25,126.62 L242.44,126.37 L242.63,126.13 L242.82,125.88 L243.01,125.62 L243.20,125.35 L243.39,125.08 L243.58,124.80 L243.77,124.52 L243.96,124.23 L244.15,123.94 L244.34,123.63 L244.53,123.33 L244.72,123.02 L244.91,122.70 L245.10,122.37 L245.29,122.04 L245.48,121.70 L245.67,121.36 L245.86,121.01 L246.05,120.65 L246.24,120.29 L246.43,119.92 L246.62,119.54 L246.81,119.16 L247.01,118.76 L247.20,118.37 L247.39,117.96 L247.58,117.54 L247.77,117.12 L247.96,116.69 L248.15,116.25 L248.34,115.81 L248.53,115.35 L248.72,114.88 L248.91,114.41 L249.10,113.93 L249.29,113.43 L249.48,112.93 L249.67,112.41 L249.86,111.88 L250.05,111.34 L250.24,110.79 L250.43,110.23 L250.62,109.65 L250.81,109.06 L251.00,108.46 L251.19,107.84 L251.38,107.20 L251.57,106.55 L251.76,105.88 L251.95,105.20 L252.14,104.49 L252.33,103.77 L252.52,103.02 L252.71,102.26 L252.90,101.47 L253.09,100.65 L253.28,99.81 L253.47,98.94 L253.66,98.05 L253.85,97.12 L254.04,96.16 L254.23,95.16 L254.43,94.13 L254.62,93.05 L254.81,91.94 L255.00,90.77 L255.19,89.56 L255.38,88.29 L255.57,86.96 L255.76,85.56 L255.95,84.10 L256.14,82.56 L256.33,80.93 L256.52,79.21 L256.71,77.40 L256.90,75.47 L257.09,73.43 L257.28,71.27 L257.47,68.97 L257.66,66.55 L257.85,64.01 L258.04,61.38 L258.23,58.73 L258.42,56.18 L258.61,53.93 L258.80,52.24 L258.99,51.40 L259.18,51.56 L259.37,52.71 L259.56,54.62 L259.75,57.01 L259.94,59.64 L260.13,62.33 L260.32,64.97 L260.51,67.52 L260.70,69.94 L260.89,72.23 L261.08,74.40 L261.27,76.44 L261.46,78.37 L261.65,80.19 L261.84,81.91 L262.04,83.55 L262.23,85.10 L262.42,86.58 L262.61,87.99 L262.80,89.34 L262.99,90.63 L263.18,91.87 L263.37,93.05 L263.56,94.20 L263.75,95.29 L263.94,96.35 L264.13,97.38 L264.32,98.36 L264.51,99.32 L264.70,100.24 L264.89,101.14 L265.08,102.01 L265.27,102.85 L265.46,103.67 L265.65,104.47 L265.84,105.25 L266.03,106.00 L266.22,106.74 L266.41,107.46 L266.60,108.16 L266.79,108.85 L266.98,109.51 L267.17,110.17 L267.36,110.81 L267.55,111.43 L267.74,112.05 L267.93,112.65 L268.12,113.23 L268.31,113.81 L268.50,114.37 L268.69,114.93 L268.88,115.47 L269.07,116.01 L269.26,116.53 L269.46,117.04 L269.65,117.55 L269.84,118.05 L270.03,118.54 L270.22,119.02 L270.41,119.49 L270.60,119.96 L270.79,120.41 L270.98,120.87 L271.17,121.31 L271.36,121.75 L271.55,122.18 L271.74,122.60 L271.93,123.02 L272.12,123.44 L272.31,123.84 L272.50,124.24 L272.69,124.64 L272.88,125.03 L273.07,125.42 L273.26,125.80 L273.45,126.18 L273.64,126.55 L273.83,126.91 L274.02,127.28 L274.21,127.63 L274.40,127.99 L274.59,128.34 L274.78,128.68 L274.97,129.02 L275.16,129.36 L275.35,129.69 L275.54,130.02 L275.73,130.35 L275.92,130.67 L276.11,130.99 L276.30,131.31 L276.49,131.62 L276.68,131.93 L276.88,132.24 L277.07,132.54 L277.26,132.84 L277.45,133.14 L277.64,133.43 L277.83,133.72 L278.02,134.01 L278.21,134.30 L278.40,134.58 L278.59,134.86 L278.78,135.14 L278.97,135.41 L279.16,135.69 L279.35,135.96 L279.54,136.23 L279.73,136.49 L279.92,136.75 L280.11,137.02 L280.30,137.27 L280.49,137.53 L280.68,137.79 L280.87,138.04 L281.06,138.29 L281.25,138.54 L281.44,138.78 L281.63,139.03 L281.82,139.27 L282.01,139.51 L282.20,139.75 L282.39,139.98 L282.58,140.22 L282.77,140.45 L282.96,140.68 L283.15,140.91 L283.34,141.14 L283.53,141.37 L283.72,141.59 L283.91,141.81 L284.10,142.03 L284.29,142.25 L284.49,142.47 L284.68,142.69 L284.87,142.90 L285.06,143.12 L285.25,143.33 L285.44,143.54 L285.63,143.75 L285.82,143.95 L286.01,144.16 L286.20,144.37 L286.39,144.57 L286.58,144.77 L286.77,144.97 L286.96,145.17 L287.15,145.37 L287.34,145.57 L287.53,145.76 L287.72,145.96 L287.91,146.15 L288.10,146.34 L288.29,146.53 L288.48,146.72 L288.67,146.91 L288.86,147.10 L289.05,147.28 L289.24,147.47 L289.43,147.65 L289.62,147.84 L289.81,148.02 L290.00,148.20 L290.19,148.38 L290.38,148.56 L290.57,148.73 L290.76,148.91 L290.95,149.09 L291.14,149.26 L291.33,149.43 L291.52,149.61 L291.71,149.78 L291.91,149.95 L292.10,150.12 L292.29,150.29 L292.48,150.46 L292.67,150.62 L292.86,150.79 L293.05,150.96 L293.24,151.12 L293.43,151.28 L293.62,151.45 L293.81,151.61 L294.00,151.77 L294.19,151.93 L294.38,152.09 L294.57,152.25 L294.76,152.41 L294.95,152.56 L295.14,152.72 L295.33,152.87 L295.52,153.03 L295.71,153.18 L295.90,153.34 L296.09,153.49 L296.28,153.64 L296.47,153.79 L296.66,153.94 L296.85,154.09 L297.04,154.24 L297.23,154.39 L297.42,154.53 L297.61,154.68 L297.80,154.83 L297.99,154.97 L298.18,155.12 L298.37,155.26 L298.56,155.40 L298.75,155.55 L298.94,155.69 L299.13,155.83 L299.32,155.97 L299.52,156.11 L299.71,156.25 L299.90,156.39 L300.09,156.53 L300.28,156.67 L300.47,156.80 L300.66,156.94 L300.85,157.08 L301.04,157.21 L301.23,157.35 L301.42,157.48 L301.61,157.61 L301.80,157.75 L301.99,157.88 L302.18,158.01 L302.37,158.14 L302.56,158.27 L302.75,158.40 L302.94,158.53 L303.13,158.66 L303.32,158.79 L303.51,158.92 L303.70,159.05 L303.89,159.17 L304.08,159.30 L304.27,159.43 L304.46,159.55 L304.65,159.68 L304.84,159.80 L305.03,159.93 L305.22,160.05 L305.41,160.17 L305.60,160.30 L305.79,160.42 L305.98,160.54 L306.17,160.66 L306.36,160.78 L306.55,160.90 L306.74,161.02 L306.94,161.14 L307.13,161.26 L307.32,161.38 L307.51,161.50 L307.70,161.61 L307.89,161.73 L308.08,161.85 L308.27,161.97 L308.46,162.08 L308.65,162.20 L308.84,162.31 L309.03,162.43 L309.22,162.54 L309.41,162.65 L309.60,162.77 L309.79,162.88 L309.98,162.99 L310.17,163.11 L310.36,163.22 L310.55,163.33 L310.74,163.44 L310.93,163.55 L311.12,163.66 L311.31,163.77 L311.50,163.88 L311.69,163.99 L311.88,164.10 L312.07,164.21 L312.26,164.31 L312.45,164.42 L312.64,164.53 L312.83,164.64 L313.02,164.74 L313.21,164.85 L313.40,164.96 L313.59,165.06 L313.78,165.17 L313.97,165.27 L314.16,165.38 L314.36,165.48 L314.55,165.58 L314.74,165.69 L314.93,165.79 L315.12,165.89 L315.31,165.99 L315.50,166.10 L315.69,166.20 L315.88,166.30 L316.07,166.40 L316.26,166.50 L316.45,166.60 L316.64,166.70 L316.83,166.80 L317.02,166.90 L317.21,167.00 L317.40,167.10 L317.59,167.20 L317.78,167.30 L317.97,167.40 L318.16,167.49 L318.35,167.59 L318.54,167.69 L318.73,167.78 L318.92,167.88 L319.11,167.98 L319.30,168.07 L319.49,168.17 L319.68,168.26 L319.87,168.36 L320.06,168.45 L320.25,168.55 L320.44,168.64 L320.63,168.74 L320.82,168.83 L321.01,168.92 L321.20,169.02 L321.39,169.11 L321.58,169.20 L321.77,169.30 L321.97,169.39 L322.16,169.48 L322.35,169.57 L322.54,169.66 L322.73,169.75 L322.92,169.84 L323.11,169.93 L323.30,170.02 L323.49,170.11 L323.68,170.20 L323.87,170.29 L324.06,170.38 L324.25,170.47 L324.44,170.56 L324.63,170.65 L324.82,170.74 L325.01,170.83 L325.20,170.91 L325.39,171.00 L325.58,171.09 L325.77,171.17 L325.96,171.26 L326.15,171.35 L326.34,171.43 L326.53,171.52 L326.72,171.61 L326.91,171.69 L327.10,171.78 L327.29,171.86 L327.48,171.95 L327.67,172.03 L327.86,172.12 L328.05,172.20 L328.24,172.28 L328.43,172.37 L328.62,172.45 L328.81,172.54 L329.00,172.62 L329.19,172.70 L329.39,172.78 L329.58,172.87 L329.77,172.95 L329.96,173.03 L330.15,173.11 L330.34,173.20 L330.53,173.28 L330.72,173.36 L330.91,173.44 L331.10,173.52 L331.29,173.60 L331.48,173.68 L331.67,173.76 L331.86,173.84 L332.05,173.92 L332.24,174.00 L332.43,174.08 L332.62,174.16 L332.81,174.24 L333.00,174.32 L333.19,174.40 L333.38,174.47 L333.57,174.55 L333.76,174.63 L333.95,174.71 L334.14,174.79 L334.33,174.86 L334.52,174.94 L334.71,175.02 L334.90,175.10 L335.09,175.17 L335.28,175.25 L335.47,175.33 L335.66,175.40 L335.85,175.48 L336.04,175.55 L336.23,175.63 L336.42,175.71 L336.61,175.78 L336.81,175.86 L337.00,175.93 L337.19,176.01 L337.38,176.08 L337.57,176.15 L337.76,176.23 L337.95,176.30 L338.14,176.38 L338.33,176.45 L338.52,176.52 L338.71,176.60 L338.90,176.67 L339.09,176.74 L339.28,176.82 L339.47,176.89 L339.66,176.96 L339.85,177.04 L340.04,177.11 L340.23,177.18 L340.42,177.25 L340.61,177.32 L340.80,177.40 L340.99,177.47 L341.18,177.54 L341.37,177.61 L341.56,177.68 L341.75,177.75 L341.94,177.82 L342.13,177.89 L342.32,177.96 L342.51,178.03 L342.70,178.10 L342.89,178.17 L343.08,178.24 L343.27,178.31 L343.46,178.38 L343.65,178.45 L343.84,178.52 L344.03,178.59 L344.23,178.66 L344.42,178.73 L344.61,178.80 L344.80,178.87 L344.99,178.93 L345.18,179.00 L345.37,179.07 L345.56,179.14 L345.75,179.21 L345.94,179.27 L346.13,179.34 L346.32,179.41 L346.51,179.48 L346.70,179.54 L346.89,179.61 L347.08,179.68 L347.27,179.74 L347.46,179.81 L347.65,179.88 L347.84,179.94 L348.03,180.01 L348.22,180.07 L348.41,180.14 L348.60,180.21 L348.79,180.27 L348.98,180.34 L349.17,180.40 L349.36,180.47 L349.55,180.53 L349.74,180.60 L349.93,180.66 L350.12,180.73 L350.31,180.79 L350.50,180.86 L350.69,180.92 L350.88,180.99 L351.07,181.05 L351.26,181.11 L351.45,181.18 L351.64,181.24 L351.84,181.31 L352.03,181.37 L352.22,181.43 L352.41,181.50 L352.60,181.56 L352.79,181.62 L352.98,181.68 L353.17,181.75 L353.36,181.81 L353.55,181.87 L353.74,181.94 L353.93,182.00 L354.12,182.06 L354.31,182.12 L354.50,182.18 L354.69,182.25 L354.88,182.31 L355.07,182.37 L355.26,182.43 L355.45,182.49 L355.64,182.55 L355.83,182.61 L356.02,182.68 L356.21,182.74 L356.40,182.80 L356.59,182.86 L356.78,182.92 L356.97,182.98 L357.16,183.04 L357.35,183.10 L357.54,183.16 L357.73,183.22 L357.92,183.28 L358.11,183.34 L358.30,183.40 L358.49,183.46 L358.68,183.52 L358.87,183.58 L359.06,183.64 L359.26,183.70 L359.45,183.76 L359.64,183.82 L359.83,183.88 L360.02,183.94 L360.21,183.99 L360.40,184.05 L360.59,184.11 L360.78,184.17 L360.97,184.23 L361.16,184.29 L361.35,184.34 L361.54,184.40 L361.73,184.46 L361.92,184.52 L362.11,184.58 L362.30,184.63 L362.49,184.69 L362.68,184.75 L362.87,184.81 L363.06,184.86 L363.25,184.92 L363.44,184.98 L363.63,185.04 L363.82,185.09 L364.01,185.15 L364.20,185.21 L364.39,185.26 L364.58,185.32 L364.77,185.38 L364.96,185.43 L365.15,185.49 L365.34,185.55 L365.53,185.60 L365.72,185.66 L365.91,185.72 L366.10,185.77 L366.29,185.83 L366.48,185.88 L366.68,185.94 L366.87,185.99 L367.06,186.05 L367.25,186.11 L367.44,186.16 L367.63,186.22 L367.82,186.27 L368.01,186.33 L368.20,186.38 L368.39,186.44 L368.58,186.49 L368.77,186.55 L368.96,186.60 L369.15,186.66 L369.34,186.71 L369.53,186.77 L369.72,186.82 L369.91,186.87 L370.10,186.93 L370.29,186.98 L370.48,187.04 L370.67,187.09 L370.86,187.14 L371.05,187.20 L371.24,187.25 L371.43,187.31 L371.62,187.36 L371.81,187.41 L372.00,187.47 L372.19,187.52 L372.38,187.57 L372.57,187.63 L372.76,187.68 L372.95,187.73 L373.14,187.79 L373.33,187.84 L373.52,187.89 L373.71,187.95 L373.90,188.00 L374.09,188.05 L374.29,188.10 L374.48,188.16 L374.67,188.21 L374.86,188.26 L375.05,188.31 L375.24,188.37 L375.43,188.42 L375.62,188.47 L375.81,188.52 L376.00,188.58 L376.19,188.63 L376.38,188.68 L376.57,188.73 L376.76,188.78 L376.95,188.83 L377.14,188.89 L377.33,188.94 L377.52,188.99 L377.71,189.04 L377.90,189.09 L378.09,189.14 L378.28,189.20 L378.47,189.25 L378.66,189.30 L378.85,189.35 L379.04,189.40 L379.23,189.45 L379.42,189.50 L379.61,189.55 L379.80,189.60 L379.99,189.65 L380.18,189.71 L380.37,189.76 L380.56,189.81 L380.75,189.86 L380.94,189.91 L381.13,189.96 L381.32,190.01 L381.51,190.06 L381.71,190.11 L381.90,190.16 L382.09,190.21 L382.28,190.26 L382.47,190.31 L382.66,190.36 L382.85,190.41 L383.04,190.46 L383.23,190.51 L383.42,190.56 L383.61,190.61 L383.80,190.66 L383.99,190.71 L384.18,190.76 L384.37,190.81 L384.56,190.86 L384.75,190.91 L384.94,190.96 L385.13,191.00 L385.32,191.05 L385.51,191.10 L385.70,191.15 L385.89,191.20 L386.08,191.25 L386.27,191.30 L386.46,191.35 L386.65,191.40 L386.84,191.45 L387.03,191.49 L387.22,191.54 L387.41,191.59 L387.60,191.64 L387.79,191.69 L387.98,191.74 L388.17,191.79 L388.36,191.84 L388.55,191.88 L388.74,191.93 L388.93,191.98 L389.12,192.03 L389.32,192.08 L389.51,192.13 L389.70,192.17 L389.89,192.22 L390.08,192.27 L390.27,192.32 L390.46,192.37 L390.65,192.41 L390.84,192.46 L391.03,192.51 L391.22,192.56 L391.41,192.61 L391.60,192.65 L391.79,192.70 L391.98,192.75 L392.17,192.80 L392.36,192.84 L392.55,192.89 L392.74,192.94 L392.93,192.99 L393.12,193.03 L393.31,193.08 L393.50,193.13 L393.69,193.18 L393.88,193.22 L394.07,193.27 L394.26,193.32 L394.45,193.37 L394.64,193.41 L394.83,193.46 L395.02,193.51 L395.21,193.55 L395.40,193.60 L395.59,193.65 L395.78,193.69 L395.97,193.74 L396.16,193.79 L396.35,193.84 L396.54,193.88 L396.74,193.93 L396.93,193.98 L397.12,194.02 L397.31,194.07 L397.50,194.12 L397.69,194.16 L397.88,194.21 L398.07,194.26 L398.26,194.30 L398.45,194.35 L398.64,194.40 L398.83,194.44 L399.02,194.49 L399.21,194.53 L399.40,194.58 L399.59,194.63 L399.78,194.67 L399.97,194.72 L400.16,194.77 L400.35,194.81 L400.54,194.86 L400.73,194.91 L400.92,194.95 L401.11,195.00 L401.30,195.04 L401.49,195.09 L401.68,195.14 L401.87,195.18 L402.06,195.23 L402.25,195.27 L402.44,195.32 L402.63,195.37 L402.82,195.41 L403.01,195.46 L403.20,195.50 L403.39,195.55 L403.58,195.59 L403.77,195.64 L403.96,195.69 L404.16,195.73 L404.35,195.78 L404.54,195.82 L404.73,195.87 L404.92,195.92 L405.11,195.96 L405.30,196.01 L405.49,196.05 L405.68,196.10 L405.87,196.14 L406.06,196.19 L406.25,196.23 L406.44,196.28 L406.63,196.33 L406.82,196.37 L407.01,196.42 L407.20,196.46 L407.39,196.51 L407.58,196.55 L407.77,196.60 L407.96,196.64 L408.15,196.69 L408.34,196.73 L408.53,196.78 L408.72,196.82 L408.91,196.87 L409.10,196.92 L409.29,196.96 L409.48,197.01 L409.67,197.05 L409.86,197.10 L410.05,197.14 L410.24,197.19 L410.43,197.23 L410.62,197.28 L410.81,197.32 L411.00,197.37 L411.19,197.41 L411.38,197.46 L411.57,197.50 L411.77,197.55 L411.96,197.59 L412.15,197.64 L412.34,197.68 L412.53,197.73 L412.72,197.77 L412.91,197.82 L413.10,197.86 L413.29,197.91 L413.48,197.95 L413.67,198.00 L413.86,198.04 L414.05,198.09 L414.24,198.13 L414.43,198.18 L414.62,198.22 L414.81,198.27 L415.00,198.31 L415.19,198.36 L415.38,198.40 L415.57,198.45 L415.76,198.49 L415.95,198.54 L416.14,198.58 L416.33,198.63 L416.52,198.67 L416.71,198.72 L416.90,198.76 L417.09,198.81 L417.28,198.85 L417.47,198.90 L417.66,198.94 L417.85,198.99 L418.04,199.03 L418.23,199.08 L418.42,199.12 L418.61,199.17 L418.80,199.21 L418.99,199.26 L419.19,199.30 L419.38,199.35 L419.57,199.39 L419.76,199.44 L419.95,199.48 L420.14,199.53 L420.33,199.57 L420.52,199.61 L420.71,199.66 L420.90,199.70 L421.09,199.75 L421.28,199.79 L421.47,199.84 L421.66,199.88 L421.85,199.93 L422.04,199.97 L422.23,200.02 L422.42,200.06 L422.61,200.11 L422.80,200.15 L422.99,200.20 L423.18,200.24 L423.37,200.29 L423.56,200.33 L423.75,200.38 L423.94,200.42 L424.13,200.47 L424.32,200.51 L424.51,200.56 L424.70,200.60 L424.89,200.65 L425.08,200.69 L425.27,200.74 L425.46,200.78 L425.65,200.83 L425.84,200.87 L426.03,200.92 L426.22,200.96 L426.41,201.01 L426.61,201.05 L426.80,201.10 L426.99,201.14 L427.18,201.19 L427.37,201.23 L427.56,201.28 L427.75,201.32 L427.94,201.37 L428.13,201.41 L428.32,201.46 L428.51,201.50 L428.70,201.55 L428.89,201.59 L429.08,201.64 L429.27,201.69 L429.46,201.73 L429.65,201.78 L429.84,201.82 L430.03,201.87 L430.22,201.91 L430.41,201.96 L430.60,202.00 L430.79,202.05 L430.98,202.09 L431.17,202.14 L431.36,202.18 L431.55,202.23 L431.74,202.27 L431.93,202.32 L432.12,202.37 L432.31,202.41 L432.50,202.46 L432.69,202.50 L432.88,202.55 L433.07,202.59 L433.26,202.64 L433.45,202.68 L433.64,202.73 L433.83,202.78 L434.02,202.82 L434.22,202.87 L434.41,202.91 L434.60,202.96 L434.79,203.00 L434.98,203.05 L435.17,203.10 L435.36,203.14 L435.55,203.19 L435.74,203.23 L435.93,203.28 L436.12,203.33 L436.31,203.37 L436.50,203.42 L436.69,203.46 L436.88,203.51 L437.07,203.56 L437.26,203.60 L437.45,203.65 L437.64,203.69 L437.83,203.74 L438.02,203.79 L438.21,203.83 L438.40,203.88 L438.59,203.92 L438.78,203.97 L438.97,204.02 L439.16,204.06 L439.35,204.11 L439.54,204.16 L439.73,204.20 L439.92,204.25 L440.11,204.30 L440.30,204.34 L440.49,204.39 L440.68,204.44 L440.87,204.48 L441.06,204.53 L441.25,204.58 L441.44,204.62 L441.64,204.67 L441.83,204.72 L442.02,204.76 L442.21,204.81 L442.40,204.86 L442.59,204.90 L442.78,204.95 L442.97,205.00 L443.16,205.04 L443.35,205.09 L443.54,205.14 L443.73,205.19 L443.92,205.23 L444.11,205.28 L444.30,205.33 L444.49,205.37 L444.68,205.42 L444.87,205.47 L445.06,205.52 L445.25,205.56 L445.44,205.61 L445.63,205.66 L445.82,205.71 L446.01,205.75 L446.20,205.80 L446.39,205.85 L446.58,205.90 L446.77,205.95 L446.96,205.99 L447.15,206.04 L447.34,206.09 L447.53,206.14 L447.72,206.19 L447.91,206.23 L448.10,206.28 L448.29,206.33 L448.48,206.38 L448.67,206.43 L448.86,206.47 L449.06,206.52 L449.25,206.57 L449.44,206.62 L449.63,206.67 L449.82,206.72 L450.01,206.77 L450.20,206.81 L450.39,206.86 L450.58,206.91 L450.77,206.96 L450.96,207.01 L451.15,207.06 L451.34,207.11 L451.53,207.16 L451.72,207.21 L451.91,207.25 L452.10,207.30 L452.29,207.35 L452.48,207.40 L452.67,207.45 L452.86,207.50 L453.05,207.55 L453.24,207.60 L453.43,207.65 L453.62,207.70 L453.81,207.75 L454.00,207.80 L454.19,207.85 L454.38,207.90 L454.57,207.95 L454.76,208.00 L454.95,208.05 L455.14,208.10 L455.33,208.15 L455.52,208.20 L455.71,208.25 L455.90,208.30 L456.09,208.35 L456.28,208.40 L456.48,208.45 L456.67,208.50 L456.86,208.55 L457.05,208.60 L457.24,208.65 L457.43,208.70 L457.62,208.75 L457.81,208.81 L458.00,208.86 L458.19,208.91 L458.38,208.96 L458.57,209.01 L458.76,209.06 L458.95,209.11 L459.14,209.16 L459.33,209.22 L459.52,209.27 L459.71,209.32 L459.90,209.37 L460.09,209.42 L460.28,209.47 L460.47,209.53 L460.66,209.58 L460.85,209.63 L461.04,209.68 L461.23,209.73 L461.42,209.79 L461.61,209.84 L461.80,209.89 L461.99,209.94 L462.18,210.00 L462.37,210.05 L462.56,210.10 L462.75,210.16 L462.94,210.21 L463.13,210.26 L463.32,210.31 L463.51,210.37 L463.70,210.42 L463.89,210.47 L464.09,210.53 L464.28,210.58 L464.47,210.63 L464.66,210.69 L464.85,210.74 L465.04,210.80 L465.23,210.85 L465.42,210.90 L465.61,210.96 L465.80,211.01 L465.99,211.07 L466.18,211.12 L466.37,211.17 L466.56,211.23 L466.75,211.28 L466.94,211.34 L467.13,211.39 L467.32,211.45 L467.51,211.50 L467.70,211.56 L467.89,211.61 L468.08,211.67 L468.27,211.72 L468.46,211.78 L468.65,211.83 L468.84,211.89 L469.03,211.95 L469.22,212.00 L469.41,212.06 L469.60,212.11 L469.79,212.17 L469.98,212.23 L470.17,212.28 L470.36,212.34 L470.55,212.40 L470.74,212.45 L470.93,212.51 L471.12,212.57 L471.31,212.62 L471.51,212.68 L471.70,212.74 L471.89,212.79 L472.08,212.85 L472.27,212.91 L472.46,212.97 L472.65,213.02 L472.84,213.08 L473.03,213.14 L473.22,213.20 L473.41,213.26 L473.60,213.31 L473.79,213.37 L473.98,213.43 L474.17,213.49 L474.36,213.55 L474.55,213.61 L474.74,213.67 L474.93,213.72 L475.12,213.78 L475.31,213.84 L475.50,213.90 L475.69,213.96 L475.88,214.02 L476.07,214.08 L476.26,214.14 L476.45,214.20 L476.64,214.26 L476.83,214.32 L477.02,214.38 L477.21,214.44 L477.40,214.50 L477.59,214.56 L477.78,214.62 L477.97,214.69 L478.16,214.75 L478.35,214.81 L478.54,214.87 L478.73,214.93 L478.93,214.99 L479.12,215.05 L479.31,215.12 L479.50,215.18 L479.69,215.24 L479.88,215.30 L480.07,215.37 L480.26,215.43 L480.45,215.49 L480.64,215.55 L480.83,215.62 L481.02,215.68 L481.21,215.74 L481.40,215.81 L481.59,215.87 L481.78,215.93 L481.97,216.00 L482.16,216.06 L482.35,216.13 L482.54,216.19 L482.73,216.25 L482.92,216.32 L483.11,216.38 L483.30,216.45 L483.49,216.51 L483.68,216.58 L483.87,216.64 L484.06,216.71 L484.25,216.78 L484.44,216.84 L484.63,216.91 L484.82,216.97 L485.01,217.04 L485.20,217.11 L485.39,217.17 L485.58,217.24 L485.77,217.31 L485.96,217.37 L486.15,217.44 L486.34,217.51 L486.54,217.58 L486.73,217.65 L486.92,217.71 L487.11,217.78 L487.30,217.85 L487.49,217.92 L487.68,217.99 L487.87,218.06 L488.06,218.13 L488.25,218.19 L488.44,218.26 L488.63,218.33 L488.82,218.40 L489.01,218.47 L489.20,218.54 L489.39,218.61 L489.58,218.68 L489.77,218.76 L489.96,218.83 L490.15,218.90 L490.34,218.97 L490.53,219.04 L490.72,219.11 L490.91,219.18 L491.10,219.26 L491.29,219.33 L491.48,219.40 L491.67,219.47 L491.86,219.55 L492.05,219.62 L492.24,219.69 L492.43,219.77 L492.62,219.84 L492.81,219.91 L493.00,219.99 L493.19,220.06 L493.38,220.14 L493.57,220.21 L493.76,220.29 L493.96,220.36 L494.15,220.44 L494.34,220.51 L494.53,220.59 L494.72,220.67 L494.91,220.74 L495.10,220.82 L495.29,220.90 L495.48,220.97 L495.67,221.05 L495.86,221.13 L496.05,221.21 L496.24,221.28 L496.43,221.36 L496.62,221.44 L496.81,221.52 L497.00,221.60 L497.19,221.68 L497.38,221.76 L497.57,221.84 L497.76,221.92 L497.95,222.00 L498.14,222.08 L498.33,222.16 L498.52,222.24 L498.71,222.32 L498.90,222.40 L499.09,222.48 L499.28,222.57 L499.47,222.65 L499.66,222.73 L499.85,222.81 L500.04,222.90 L500.23,222.98 L500.42,223.06 L500.61,223.15 L500.80,223.23 L500.99,223.32 L501.18,223.40 L501.38,223.49 L501.57,223.57 L501.76,223.66 L501.95,223.74 L502.14,223.83 L502.33,223.92 L502.52,224.00 L502.71,224.09 L502.90,224.18 L503.09,224.27 L503.28,224.35 L503.47,224.44 L503.66,224.53 L503.85,224.62 L504.04,224.71 L504.23,224.80 L504.42,224.89 L504.61,224.98 L504.80,225.07 L504.99,225.16 L505.18,225.25 L505.37,225.35 L505.56,225.44 L505.75,225.53 L505.94,225.62 L506.13,225.72 L506.32,225.81 L506.51,225.90 L506.70,226.00 L506.89,226.09 L507.08,226.19 L507.27,226.28 L507.46,226.38 L507.65,226.47 L507.84,226.57 L508.03,226.67 L508.22,226.76 L508.41,226.86 L508.60,226.96 L508.79,227.06 L508.99,227.16 L509.18,227.26 L509.37,227.36 L509.56,227.46 L509.75,227.56 L509.94,227.66 L510.13,227.76 L510.32,227.86 L510.51,227.96 L510.70,228.06 L510.89,228.17 L511.08,228.27 L511.27,228.37 L511.46,228.48 L511.65,228.58 L511.84,228.69 L512.03,228.79 L512.22,228.90 L512.41,229.01 L512.60,229.11 L512.79,229.22 L512.98,229.33 L513.17,229.44 L513.36,229.55 L513.55,229.66 L513.74,229.77 L513.93,229.88 L514.12,229.99 L514.31,230.10 L514.50,230.21 L514.69,230.32 L514.88,230.43 L515.07,230.55 L515.26,230.66 L515.45,230.78 L515.64,230.89 L515.83,231.01 L516.02,231.12 L516.21,231.24 L516.41,231.36 L516.60,231.48 L516.79,231.59 L516.98,231.71 L517.17,231.83 L517.36,231.95 L517.55,232.07 L517.74,232.19 L517.93,232.32 L518.12,232.44 L518.31,232.56 L518.50,232.69 L518.69,232.81 L518.88,232.93 L519.07,233.06 L519.26,233.19 L519.45,233.31 L519.64,233.44 L519.83,233.57 L520.02,233.70 L520.21,233.83 L520.40,233.96 L520.59,234.09 L520.78,234.22 L520.97,234.35 L521.16,234.49 L521.35,234.62 L521.54,234.76 L521.73,234.89 L521.92,235.03 L522.11,235.16 L522.30,235.30 L522.49,235.44 L522.68,235.58 L522.87,235.72 L523.06,235.86 L523.25,236.00 L523.44,236.14 L523.63,236.29 L523.83,236.43 L524.02,236.58 L524.21,236.72 L524.40,236.87 L524.59,237.02 L524.78,237.17 L524.97,237.31 L525.16,237.46 L525.35,237.62 L525.54,237.77 L525.73,237.92 L525.92,238.08 L526.11,238.23 L526.30,238.39 L526.49,238.54 L526.68,238.70 L526.87,238.86 L527.06,239.02 L527.25,239.18 L527.44,239.34 L527.63,239.51 L527.82,239.67 L528.01,239.84 L528.20,240.00 L528.39,240.17 L528.58,240.34 L528.77,240.51 L528.96,240.68 L529.15,240.85 L529.34,241.03 L529.53,241.20 L529.72,241.38 L529.91,241.56 L530.10,241.74 L530.29,241.92 L530.48,242.10 L530.67,242.28 L530.86,242.46 L531.05,242.65 L531.24,242.83 L531.44,243.02 L531.63,243.21 L531.82,243.40 L532.01,243.60 L532.20,243.79 L532.39,243.99 L532.58,244.18 L532.77,244.38 L532.96,244.58 L533.15,244.78 L533.34,244.99 L533.53,245.19 L533.72,245.40 L533.91,245.61 L534.10,245.82 L534.29,246.03 L534.48,246.24 L534.67,246.46 L534.86,246.68 L535.05,246.90 L535.24,247.12 L535.43,247.34 L535.62,247.57 L535.81,247.80 L536.00,248.03 L536.19,248.26 L536.38,248.49 L536.57,248.73 L536.76,248.97 L536.95,249.21 L537.14,249.45 L537.33,249.69 L537.52,249.94 L537.71,250.19 L537.90,250.45 L538.09,250.70 L538.28,250.96 L538.47,251.22 L538.66,251.48 L538.86,251.75 L539.05,252.02 L539.24,252.29 L539.43,252.56 L539.62,252.84 L539.81,253.12 L540.00,253.41 L540.19,253.69 L540.38,253.98 L540.57,254.28 L540.76,254.57 L540.95,254.88 L541.14,255.18 L541.33,255.49 L541.52,255.80 L541.71,256.11 L541.90,256.43 L542.09,256.76 L542.28,257.09 L542.47,257.42 L542.66,257.75 L542.85,258.09 L543.04,258.44 L543.23,258.79 L543.42,259.14 L543.61,259.50 L543.80,259.87 L543.99,260.24 L544.18,260.62 L544.37,261.00 L544.56,261.38 L544.75,261.78 L544.94,262.18 L545.13,262.58 L545.32,262.99 L545.51,263.41 L545.70,263.84 L545.89,264.27 L546.08,264.71 L546.27,265.15 L546.47,265.61 L546.66,266.07 L546.85,266.54 L547.04,267.02 L547.23,267.51 L547.42,268.01 L547.61,268.52 L547.80,269.04 L547.99,269.57 L548.18,270.10 L548.37,270.66 L548.56,271.22 L548.75,271.79 L548.94,272.38 L549.13,272.98 L549.32,273.60 L549.51,274.23 L549.70,274.87 L549.89,275.54 L550.08,276.22 L550.27,276.91 L550.46,277.63 L550.65,278.36 L550.84,279.12 L551.03,279.90 L551.22,280.70 L551.41,281.53 L551.60,282.38 L551.79,283.27 L551.98,284.18 L552.17,285.13 L552.36,286.11 L552.55,287.12 L552.74,288.18 L552.93,289.28 L553.12,290.43 L553.31,291.63 L553.50,292.89 L553.69,294.21 L553.70,294.27 L553.71,294.32 L553.72,294.37 L553.73,294.43 L553.73,294.48 L553.74,294.54 L553.75,294.59 L553.76,294.65 L553.76,294.70 L553.77,294.76 L553.78,294.81 L553.79,294.87 L553.79,294.92 L553.80,294.98 L553.81,295.04 L553.82,295.09 L553.82,295.15 L553.83,295.20 L553.84,295.26 L553.85,295.32 L553.85,295.37 L553.86,295.43 L553.87,295.49 L553.88,295.54 L553.89,295.60 L553.89,295.66 L553.90,295.71 L553.91,295.77 L553.92,295.83 L553.92,295.89 L553.93,295.94 L553.94,296.00 L553.95,296.06 L553.95,296.12 L553.96,296.18 L553.97,296.23 L553.98,296.29 L553.98,296.35 L553.99,296.41 L554.00,296.47 L554.01,296.53 L554.01,296.59 L554.02,296.65 L554.03,296.70 L554.04,296.76 L554.04,296.82 L554.05,296.88 L554.06,296.94 L554.07,297.00 L554.08,297.06 L554.08,297.12 L554.09,297.18 L554.10,297.24 L554.11,297.30 L554.11,297.37 L554.12,297.43 L554.13,297.49 L554.14,297.55 L554.14,297.61 L554.15,297.67 L554.16,297.73 L554.17,297.79 L554.17,297.86 L554.18,297.92 L554.19,297.98 L554.20,298.04 L554.20,298.11 L554.21,298.17 L554.22,298.23 L554.23,298.29 L554.24,298.36 L554.24,298.42 L554.25,298.48 L554.26,298.55 L554.27,298.61 L554.27,298.67 L554.28,298.74 L554.29,298.80 L554.30,298.87 L554.30,298.93 L554.31,299.00 L554.32,299.06 L554.33,299.13 L554.33,299.19 L554.34,299.26 L554.35,299.32 L554.36,299.39 L554.36,299.45 L554.37,299.52 L554.38,299.58 L554.39,299.65 L554.40,299.72 L554.40,299.78 L554.41,299.85 L554.42,299.92 L554.43,299.98 L554.43,300.05 L554.44,300.12 L554.45,300.19 L554.46,300.25 L554.46,300.32 L554.47,300.39 L554.48,300.46 L554.49,300.53 L554.49,300.59 L554.50,300.66 L554.51,300.73 L554.52,300.80 L554.52,300.87 L554.53,300.94 L554.54,301.01 L554.55,301.08 L554.55,301.15 L554.56,301.22 L554.57,301.29 L554.58,301.36 L554.59,301.43 L554.59,301.50 L554.60,301.57 L554.61,301.64 L554.62,301.71 L554.62,301.79 L554.63,301.86 L554.64,301.93 L554.65,302.00 L554.65,302.07 L554.66,302.15 L554.67,302.22 L554.68,302.29 L554.68,302.37 L554.69,302.44 L554.70,302.51 L554.71,302.59 L554.71,302.66 L554.72,302.74 L554.73,302.81 L554.74,302.88 L554.75,302.96 L554.75,303.03 L554.76,303.11 L554.77,303.18 L554.78,303.26 L554.78,303.34 L554.79,303.41 L554.80,303.49 L554.81,303.57 L554.81,303.64 L554.82,303.72 L554.83,303.80 L554.84,303.87 L554.84,303.95 L554.85,304.03 L554.86,304.11 L554.87,304.19 L554.87,304.26 L554.88,304.34 L554.89,304.42 L554.90,304.50 L554.90,304.58 L554.91,304.66 L554.92,304.74 L554.93,304.82 L554.94,304.90 L554.94,304.98 L554.95,305.06 L554.96,305.14 L554.97,305.22 L554.97,305.31 L554.98,305.39 L554.99,305.47 L555.00,305.55 L555.00,305.63 L555.01,305.72 L555.02,305.80 L555.03,305.88 L555.03,305.97 L555.04,306.05 L555.05,306.14 L555.06,306.22 L555.06,306.30 L555.07,306.39 L555.08,306.47 L555.09,306.56 L555.10,306.65 L555.10,306.73 L555.11,306.82 L555.12,306.90 L555.13,306.99 L555.13,307.08 L555.14,307.17 L555.15,307.25 L555.16,307.34 L555.16,307.43 L555.17,307.52 L555.18,307.61 L555.19,307.70 L555.19,307.79 L555.20,307.88 L555.21,307.97 L555.22,308.06 L555.22,308.15 L555.23,308.24 L555.24,308.33 L555.25,308.42 L555.25,308.51 L555.26,308.60 L555.27,308.70 L555.28,308.79 L555.29,308.88 L555.29,308.98 L555.30,309.07 L555.31,309.16 L555.32,309.26 L555.32,309.35 L555.33,309.45 L555.34,309.54 L555.35,309.64 L555.35,309.74 L555.36,309.83 L555.37,309.93 L555.38,310.03 L555.38,310.12 L555.39,310.22 L555.40,310.32 L555.41,310.42 L555.41,310.52 L555.42,310.62 L555.43,310.72 L555.44,310.82 L555.45,310.92 L555.45,311.02 L555.46,311.12 L555.47,311.22 L555.48,311.32 L555.48,311.42 L555.49,311.53 L555.50,311.63 L555.51,311.73 L555.51,311.84 L555.52,311.94 L555.53,312.05 L555.54,312.15 L555.54,312.26 L555.55,312.36 L555.56,312.47 L555.57,312.58 L555.57,312.68 L555.58,312.79 L555.59,312.90 L555.60,313.01 L555.61,313.12 L555.61,313.23 L555.62,313.34 L555.63,313.45 L555.64,313.56 L555.64,313.67 L555.65,313.78 L555.66,313.89 L555.67,314.00 L555.67,314.12 L555.68,314.23 L555.69,314.34 L555.70,314.46 L555.70,314.57 L555.71,314.69 L555.72,314.81 L555.73,314.92 L555.73,315.04 L555.74,315.16 L555.75,315.27 L555.76,315.39 L555.76,315.51 L555.77,315.63 L555.78,315.75 L555.79,315.87 L555.80,315.99 L555.80,316.11 L555.81,316.24 L555.82,316.36 L555.83,316.48 L555.83,316.61 L555.84,316.73 L555.85,316.86 L555.86,316.98 L555.86,317.11 L555.87,317.23 L555.88,317.36 L555.89,317.49 L555.89,317.62 L555.90,317.75 L555.91,317.88 L555.92,318.01 L555.92,318.14 L555.93,318.27 L555.94,318.40 L555.95,318.54 L555.96,318.67 L555.96,318.80 L555.97,318.94 L555.98,319.07 L555.99,319.21 L555.99,319.35 L556.00,319.49 L556.01,319.62 L556.02,319.76 L556.02,319.90 L556.03,320.04 L556.04,320.18 L556.05,320.33 L556.05,320.47 L556.06,320.61 L556.07,320.76 L556.08,320.90 L556.08,321.05 L556.09,321.19 L556.10,321.34 L556.11,321.49 L556.11,321.64 L556.12,321.79 L556.13,321.94 L556.14,322.09 L556.15,322.24 L556.15,322.40 L556.16,322.55 L556.17,322.71 L556.18,322.86 L556.18,323.02 L556.19,323.18 L556.20,323.34 L556.21,323.50 L556.21,323.66 L556.22,323.82 L556.23,323.98 L556.24,324.14 L556.24,324.31 L556.25,324.47 L556.26,324.64 L556.27,324.81 L556.27,324.98 L556.28,325.15 L556.29,325.32 L556.30,325.49 L556.31,325.66 L556.31,325.83 L556.32,326.01 L556.33,326.19 L556.34,326.36 L556.34,326.54 L556.35,326.72 L556.36,326.90 L556.37,327.08 L556.37,327.27 L556.38,327.45 L556.39,327.64 L556.40,327.82 L556.40,328.01 L556.41,328.20 L556.42,328.39 L556.43,328.59 L556.43,328.78 L556.44,328.98 L556.45,329.17 L556.46,329.37 L556.47,329.57 L556.47,329.77 L556.48,329.97 L556.49,330.18 L556.50,330.38 L556.50,330.59 L556.51,330.80 L556.52,331.01 L556.53,331.22 L556.53,331.43 L556.54,331.65 L556.55,331.87 L556.56,332.09 L556.56,332.31 L556.57,332.53 L556.58,332.75 L556.59,332.98 L556.59,333.21 L556.60,333.44 L556.61,333.67 L556.62,333.90 L556.62,334.14 L556.63,334.38 L556.64,334.62 L556.65,334.86 L556.66,335.10 L556.66,335.35 L556.67,335.60 L556.68,335.85 L556.69,336.10 L556.69,336.36 L556.70,336.62 L556.71,336.88 L556.72,337.14 L556.72,337.41 L556.73,337.67 L556.74,337.95 L556.75,338.22 L556.75,338.50 L556.76,338.78 L556.77,339.06 L556.78,339.34 L556.78,339.63 L556.79,339.92 L556.80,340.22 L556.81,340.52 L556.82,340.82 L556.82,341.12 L556.83,341.43 L556.84,341.74 L556.85,342.06 L556.85,342.37 L556.86,342.70 L556.87,343.02 L556.88,343.35 L556.88,343.69 L556.89,344.03 L556.90,344.37 L556.91,344.72 L556.91,345.07 L556.92,345.42 L556.93,345.79 L556.94,346.15 L556.94,346.52 L556.95,346.90 L556.96,347.28 L556.97,347.67 L556.97,348.06 L556.98,348.46 L556.99,348.86 L557.00,349.27 L557.01,349.69 L557.01,350.11 L557.02,350.54 L557.03,350.98 L557.04,351.42 L557.04,351.87 L557.05,352.33 L557.06,352.79 L557.07,353.27 L557.07,353.75 L557.08,354.24 L557.09,354.74 L557.10,355.25 L557.10,355.77 L557.11,356.30 L557.12,356.84 L557.13,357.39 L557.13,357.95 L557.14,358.53 L557.15,359.12 L557.16,359.72 L557.17,360.33 L557.17,360.96 L557.18,361.60 L557.19,362.25 L557.20,362.93 L557.20,363.62 L557.21,364.33 L557.22,365.05 L557.23,365.80 L557.23,366.57 L557.24,367.36 L557.25,368.18 L557.26,369.02 L557.26,369.88 L557.27,370.78 L557.28,371.70 L557.29,372.66 L557.29,373.65 L557.30,374.68 L557.31,375.75 L557.32,376.86 L557.32,378.03 L557.33,379.24 L557.34,380.51 L557.35,381.84 L557.36,383.24 L557.36,384.71 L557.37,386.27 L557.38,387.93 L557.39,389.69 L557.39,391.57 L557.40,393.60 L557.41,395.78 L557.42,398.15 L557.42,400.76 L557.43,403.63 L557.44,406.85 L557.45,410.49 L557.45,414.70 L557.46,419.68 L557.47,425.77 L557.48,433.62 L557.48,444.69 L557.49,463.61 L557.50,473.50" stroke="#0000ff" stroke-width="2.2"/>
<path d="M108.50,134.09 L108.69,133.40 L108.88,132.67 L109.07,131.89 L109.26,131.06 L109.45,130.17 L109.64,129.22 L109.83,128.20 L110.02,127.10 L110.21,125.92 L110.40,124.65 L110.59,123.28 L110.78,121.81 L110.97,120.23 L111.16,118.56 L111.35,116.82 L111.54,115.04 L111.73,113.27 L111.92,111.63 L112.11,110.23 L112.31,109.23 L112.50,108.74 L112.69,108.85 L112.88,109.51 L113.07,110.61 L113.26,111.99 L113.45,113.51 L113.64,115.05 L113.83,116.52 L114.02,117.86 L114.21,119.06 L114.40,120.11 L114.59,120.99 L114.78,121.73 L114.97,122.32 L115.16,122.78 L115.35,123.13 L115.54,123.36 L115.73,123.50 L115.92,123.55 L116.11,123.52 L116.30,123.42 L116.49,123.25 L116.68,123.02 L116.87,122.74 L117.06,122.40 L117.25,122.00 L117.44,121.56 L117.63,121.06 L117.82,120.51 L118.01,119.89 L118.20,119.21 L118.39,118.44 L118.58,117.55 L118.77,116.51 L118.96,115.22 L119.15,113.57 L119.34,111.33 L119.53,108.40 L119.72,105.61 L119.92,105.27 L120.11,107.06 L120.30,108.54 L120.49,109.12 L120.68,109.05 L120.87,108.58 L121.06,107.88 L121.25,107.02 L121.44,106.04 L121.63,104.97 L121.82,103.81 L122.01,102.57 L122.20,101.26 L122.39,99.87 L122.58,98.39 L122.77,96.83 L122.96,95.18 L123.15,93.43 L123.34,91.58 L123.53,89.62 L123.72,87.54 L123.91,85.34 L124.10,83.03 L124.29,80.61 L124.48,78.12 L124.67,75.62 L124.86,73.21 L125.05,71.06 L125.24,69.39 L125.43,68.45 L125.62,68.40 L125.81,69.25 L126.00,70.86 L126.19,72.99 L126.38,75.40 L126.57,77.92 L126.76,80.44 L126.95,82.90 L127.14,85.26 L127.34,87.50 L127.53,89.63 L127.72,91.64 L127.91,93.54 L128.10,95.34 L128.29,97.05 L128.48,98.67 L128.67,100.21 L128.86,101.67 L129.05,103.06 L129.24,104.40 L129.43,105.67 L129.62,106.89 L129.81,108.06 L130.00,109.18 L130.19,110.27 L130.38,111.31 L130.57,112.31 L130.76,113.28 L130.95,114.21 L131.14,115.12 L131.33,115.99 L131.52,116.84 L131.71,117.66 L131.90,118.46 L132.09,119.23 L132.28,119.99 L132.47,120.72 L132.66,121.43 L132.85,122.12 L133.04,122.80 L133.23,123.45 L133.42,124.09 L133.61,124.72 L133.80,125.33 L133.99,125.93 L134.18,126.51 L134.37,127.08 L134.56,127.63 L134.76,128.18 L134.95,128.71 L135.14,129.23 L135.33,129.74 L135.52,130.24 L135.71,130.73 L135.90,131.20 L136.09,131.67 L136.28,132.13 L136.47,132.59 L136.66,133.03 L136.85,133.46 L137.04,133.89 L137.23,134.31 L137.42,134.72 L137.61,135.12 L137.80,135.52 L137.99,135.91 L138.18,136.29 L138.37,136.66 L138.56,137.03 L138.75,137.40 L138.94,137.75 L139.13,138.10 L139.32,138.45 L139.51,138.79 L139.70,139.12 L139.89,139.45 L140.08,139.77 L140.27,140.09 L140.46,140.40 L140.65,140.71 L140.84,141.01 L141.03,141.31 L141.22,141.60 L141.41,141.89 L141.60,142.17 L141.79,142.45 L141.98,142.73 L142.18,143.00 L142.37,143.27 L142.56,143.53 L142.75,143.79 L142.94,144.05 L143.13,144.30 L143.32,144.55 L143.51,144.79 L143.70,145.03 L143.89,145.27 L144.08,145.50 L144.27,145.73 L144.46,145.96 L144.65,146.18 L144.84,146.40 L145.03,146.62 L145.22,146.84 L145.41,147.05 L145.60,147.25 L145.79,147.46 L145.98,147.66 L146.17,147.86 L146.36,148.06 L146.55,148.25 L146.74,148.44 L146.93,148.63 L147.12,148.82 L147.31,149.00 L147.50,149.18 L147.69,149.36 L147.88,149.53 L148.07,149.70 L148.26,149.88 L148.45,150.04 L148.64,150.21 L148.83,150.37 L149.02,150.53 L149.21,150.69 L149.40,150.85 L149.59,151.00 L149.79,151.15 L149.98,151.30 L150.17,151.45 L150.36,151.60 L150.55,151.74 L150.74,151.88 L150.93,152.02 L151.12,152.16 L151.31,152.29 L151.50,152.43 L151.69,152.56 L151.88,152.69 L152.07,152.82 L152.26,152.94 L152.45,153.07 L152.64,153.19 L152.83,153.31 L153.02,153.43 L153.21,153.55 L153.40,153.66 L153.59,153.77 L153.78,153.89 L153.97,154.00 L154.16,154.10 L154.35,154.21 L154.54,154.32 L154.73,154.42 L154.92,154.52 L155.11,154.62 L155.30,154.72 L155.49,154.82 L155.68,154.92 L155.87,155.01 L156.06,155.11 L156.25,155.20 L156.44,155.29 L156.63,155.38 L156.82,155.46 L157.01,155.55 L157.21,155.63 L157.40,155.72 L157.59,155.80 L157.78,155.88 L157.97,155.96 L158.16,156.04 L158.35,156.12 L158.54,156.19 L158.73,156.27 L158.92,156.34 L159.11,156.41 L159.30,156.48 L159.49,156.55 L159.68,156.62 L159.87,156.69 L160.06,156.75 L160.25,156.82 L160.44,156.88 L160.63,156.94 L160.82,157.00 L161.01,157.06 L161.20,157.12 L161.39,157.18 L161.58,157.24 L161.77,157.29 L161.96,157.35 L162.15,157.40 L162.34,157.46 L162.53,157.51 L162.72,157.56 L162.91,157.61 L163.10,157.66 L163.29,157.70 L163.48,157.75 L163.67,157.80 L163.86,157.84 L164.05,157.89 L164.24,157.93 L164.43,157.97 L164.62,158.01 L164.82,158.05 L165.01,158.09 L165.20,158.13 L165.39,158.17 L165.58,158.20 L165.77,158.24 L165.96,158.27 L166.15,158.31 L166.34,158.34 L166.53,158.37 L166.72,158.40 L166.91,158.43 L167.10,158.46 L167.29,158.49 L167.48,158.52 L167.67,158.55 L167.86,158.58 L168.05,158.60 L168.24,158.63 L168.43,158.65 L168.62,158.67 L168.81,158.70 L169.00,158.72 L169.19,158.74 L169.38,158.76 L169.57,158.78 L169.76,158.80 L169.95,158.82 L170.14,158.83 L170.33,158.85 L170.52,158.87 L170.71,158.88 L170.90,158.90 L171.09,158.91 L171.28,158.92 L171.47,158.94 L171.66,158.95 L171.85,158.96 L172.04,158.97 L172.24,158.98 L172.43,158.99 L172.62,159.00 L172.81,159.01 L173.00,159.01 L173.19,159.02 L173.38,159.03 L173.57,159.03 L173.76,159.04 L173.95,159.04 L174.14,159.04 L174.33,159.05 L174.52,159.05 L174.71,159.05 L174.90,159.05 L175.09,159.05 L175.28,159.05 L175.47,159.05 L175.66,159.05 L175.85,159.05 L176.04,159.05 L176.23,159.04 L176.42,159.04 L176.61,159.04 L176.80,159.03 L176.99,159.03 L177.18,159.02 L177.37,159.01 L177.56,159.01 L177.75,159.00 L177.94,158.99 L178.13,158.98 L178.32,158.97 L178.51,158.97 L178.70,158.96 L178.89,158.94 L179.08,158.93 L179.27,158.92 L179.46,158.91 L179.66,158.90 L179.85,158.88 L180.04,158.87 L180.23,158.86 L180.42,158.84 L180.61,158.83 L180.80,158.81 L180.99,158.79 L181.18,158.78 L181.37,158.76 L181.56,158.74 L181.75,158.72 L181.94,158.70 L182.13,158.69 L182.32,158.67 L182.51,158.65 L182.70,158.62 L182.89,158.60 L183.08,158.58 L183.27,158.56 L183.46,158.54 L183.65,158.51 L183.84,158.49 L184.03,158.47 L184.22,158.44 L184.41,158.42 L184.60,158.39 L184.79,158.36 L184.98,158.34 L185.17,158.31 L185.36,158.28 L185.55,158.26 L185.74,158.23 L185.93,158.20 L186.12,158.17 L186.31,158.14 L186.50,158.11 L186.69,158.08 L186.88,158.05 L187.07,158.02 L187.27,157.99 L187.46,157.95 L187.65,157.92 L187.84,157.89 L188.03,157.85 L188.22,157.82 L188.41,157.78 L188.60,157.75 L188.79,157.71 L188.98,157.68 L189.17,157.64 L189.36,157.60 L189.55,157.57 L189.74,157.53 L189.93,157.49 L190.12,157.45 L190.31,157.41 L190.50,157.37 L190.69,157.33 L190.88,157.29 L191.07,157.25 L191.26,157.21 L191.45,157.17 L191.64,157.13 L191.83,157.08 L192.02,157.04 L192.21,157.00 L192.40,156.95 L192.59,156.91 L192.78,156.86 L192.97,156.82 L193.16,156.77 L193.35,156.72 L193.54,156.68 L193.73,156.63 L193.92,156.58 L194.11,156.53 L194.30,156.48 L194.49,156.44 L194.69,156.39 L194.88,156.34 L195.07,156.29 L195.26,156.23 L195.45,156.18 L195.64,156.13 L195.83,156.08 L196.02,156.02 L196.21,155.97 L196.40,155.92 L196.59,155.86 L196.78,155.81 L196.97,155.75 L197.16,155.70 L197.35,155.64 L197.54,155.58 L197.73,155.53 L197.92,155.47 L198.11,155.41 L198.30,155.35 L198.49,155.29 L198.68,155.23 L198.87,155.17 L199.06,155.11 L199.25,155.05 L199.44,154.99 L199.63,154.93 L199.82,154.86 L200.01,154.80 L200.20,154.73 L200.39,154.67 L200.58,154.60 L200.77,154.54 L200.96,154.47 L201.15,154.41 L201.34,154.34 L201.53,154.27 L201.72,154.20 L201.91,154.13 L202.11,154.06 L202.30,153.99 L202.49,153.92 L202.68,153.85 L202.87,153.78 L203.06,153.71 L203.25,153.63 L203.44,153.56 L203.63,153.49 L203.82,153.41 L204.01,153.34 L204.20,153.26 L204.39,153.18 L204.58,153.11 L204.77,153.03 L204.96,152.95 L205.15,152.87 L205.34,152.79 L205.53,152.71 L205.72,152.63 L205.91,152.54 L206.10,152.46 L206.29,152.38 L206.48,152.29 L206.67,152.21 L206.86,152.12 L207.05,152.04 L207.24,151.95 L207.43,151.86 L207.62,151.77 L207.81,151.68 L208.00,151.59 L208.19,151.50 L208.38,151.41 L208.57,151.31 L208.76,151.22 L208.95,151.13 L209.14,151.03 L209.33,150.93 L209.53,150.84 L209.72,150.74 L209.91,150.64 L210.10,150.54 L210.29,150.44 L210.48,150.33 L210.67,150.23 L210.86,150.13 L211.05,150.02 L211.24,149.91 L211.43,149.81 L211.62,149.70 L211.81,149.59 L212.00,149.48 L212.19,149.36 L212.38,149.25 L212.57,149.13 L212.76,149.02 L212.95,148.90 L213.14,148.78 L213.33,148.66 L213.52,148.54 L213.71,148.42 L213.90,148.29 L214.09,148.17 L214.28,148.04 L214.47,147.91 L214.66,147.78 L214.85,147.64 L215.04,147.51 L215.23,147.37 L215.42,147.23 L215.61,147.09 L215.80,146.95 L215.99,146.81 L216.18,146.66 L216.37,146.51 L216.56,146.36 L216.75,146.21 L216.94,146.05 L217.14,145.89 L217.33,145.73 L217.52,145.57 L217.71,145.40 L217.90,145.23 L218.09,145.06 L218.28,144.88 L218.47,144.70 L218.66,144.52 L218.85,144.34 L219.04,144.15 L219.23,143.95 L219.42,143.75 L219.61,143.55 L219.80,143.34 L219.99,143.13 L220.18,142.92 L220.37,142.69 L220.56,142.47 L220.75,142.24 L220.94,142.00 L221.13,141.75 L221.32,141.50 L221.51,141.24 L221.70,140.97 L221.89,140.70 L222.08,140.42 L222.27,140.12 L222.46,139.82 L222.65,139.51 L222.84,139.19 L223.03,138.86 L223.22,138.51 L223.41,138.15 L223.60,137.78 L223.79,137.39 L223.98,136.99 L224.17,136.57 L224.36,136.13 L224.56,135.68 L224.75,135.20 L224.94,134.69 L225.13,134.17 L225.32,133.61 L225.51,133.03 L225.70,132.42 L225.89,131.77 L226.08,131.08 L226.27,130.35 L226.46,129.58 L226.65,128.76 L226.84,127.89 L227.03,126.96 L227.22,125.96 L227.41,124.89 L227.60,123.74 L227.79,122.50 L227.98,121.17 L228.17,119.73 L228.36,118.17 L228.55,116.48 L228.74,114.64 L228.93,112.64 L229.12,110.46 L229.31,108.10 L229.50,105.56 L229.69,102.83 L229.88,99.99 L230.07,97.14 L230.26,94.49 L230.45,92.40 L230.64,91.25 L230.83,91.35 L231.02,92.67 L231.21,94.89 L231.40,97.59 L231.59,100.45 L231.78,103.27 L231.97,105.94 L232.17,108.42 L232.36,110.70 L232.55,112.78 L232.74,114.66 L232.93,116.37 L233.12,117.92 L233.31,119.31 L233.50,120.57 L233.69,121.71 L233.88,122.73 L234.07,123.65 L234.26,124.47 L234.45,125.21 L234.64,125.87 L234.83,126.47 L235.02,126.99 L235.21,127.46 L235.40,127.87 L235.59,128.23 L235.78,128.55 L235.97,128.83 L236.16,129.06 L236.35,129.27 L236.54,129.44 L236.73,129.57 L236.92,129.69 L237.11,129.77 L237.30,129.84 L237.49,129.88 L237.68,129.90 L237.87,129.90 L238.06,129.88 L238.25,129.85 L238.44,129.80 L238.63,129.74 L238.82,129.66 L239.01,129.57 L239.20,129.47 L239.39,129.36 L239.59,129.24 L239.78,129.10 L239.97,128.96 L240.16,128.81 L240.35,128.65 L240.54,128.48 L240.73,128.30 L240.92,128.11 L241.11,127.92 L241.30,127.72 L241.49,127.51 L241.68,127.30 L241.87,127.08 L242.06,126.85 L242.25,126.62 L242.44,126.37 L242.63,126.13 L242.82,125.88 L243.01,125.62 L243.20,125.35 L243.39,125.08 L243.58,124.80 L243.77,124.52 L243.96,124.23 L244.15,123.94 L244.34,123.63 L244.53,123.33 L244.72,123.02 L244.91,122.70 L245.10,122.37 L245.29,122.04 L245.48,121.70 L245.67,121.36 L245.86,121.01 L246.05,120.65 L246.24,120.29 L246.43,119.92 L246.62,119.54 L246.81,119.16 L247.01,118.76 L247.20,118.37 L247.39,117.96 L247.58,117.54 L247.77,117.12 L247.96,116.69 L248.15,116.25 L248.34,115.81 L248.53,115.35 L248.72,114.88 L248.91,114.41 L249.10,113.93 L249.29,113.43 L249.48,112.93 L249.67,112.41 L249.86,111.88 L250.05,111.34 L250.24,110.79 L250.43,110.23 L250.62,109.65 L250.81,109.06 L251.00,108.46 L251.19,107.84 L251.38,107.20 L251.57,106.55 L251.76,105.88 L251.95,105.20 L252.14,104.49 L252.33,103.77 L252.52,103.02 L252.71,102.26 L252.90,101.47 L253.09,100.65 L253.28,99.81 L253.47,98.94 L253.66,98.05 L253.85,97.12 L254.04,96.16 L254.23,95.16 L254.43,94.13 L254.62,93.05 L254.81,91.94 L255.00,90.77 L255.19,89.56 L255.38,88.29 L255.57,86.96 L255.76,85.56 L255.95,84.10 L256.14,82.56 L256.33,80.93 L256.52,79.21 L256.71,77.40 L256.90,75.47 L257.09,73.43 L257.28,71.27 L257.47,68.97 L257.66,66.55 L257.85,64.01 L258.04,61.38 L258.23,58.73 L258.42,56.18 L258.61,53.93 L258.80,52.24 L258.99,51.40 L259.18,51.56 L259.37,52.71 L259.56,54.62 L259.75,57.01 L259.94,59.64 L260.13,62.33 L260.32,64.97 L260.51,67.52 L260.70,69.94 L260.89,72.23 L261.08,74.40 L261.27,76.44 L261.46,78.37 L261.65,80.19 L261.84,81.91 L262.04,83.55 L262.23,85.10 L262.42,86.58 L262.61,87.99 L262.80,89.34 L262.99,90.63 L263.18,91.87 L263.37,93.05 L263.56,94.20 L263.75,95.29 L263.94,96.35 L264.13,97.38 L264.32,98.36 L264.51,99.32 L264.70,100.24 L264.89,101.14 L265.08,102.01 L265.27,102.85 L265.46,103.67 L265.65,104.47 L265.84,105.25 L266.03,106.00 L266.22,106.74 L266.41,107.46 L266.60,108.16 L266.79,108.85 L266.98,109.51 L267.17,110.17 L267.36,110.81 L267.55,111.43 L267.74,112.05 L267.93,112.65 L268.12,113.23 L268.31,113.81 L268.50,114.37 L268.69,114.93 L268.88,115.47 L269.07,116.01 L269.26,116.53 L269.46,117.04 L269.65,117.55 L269.84,118.05 L270.03,118.54 L270.22,119.02 L270.41,119.49 L270.60,119.96 L270.79,120.41 L270.98,120.87 L271.17,121.31 L271.36,121.75 L271.55,122.18 L271.74,122.60 L271.93,123.02 L272.12,123.44 L272.31,123.84 L272.50,124.24 L272.69,124.64 L272.88,125.03 L273.07,125.42 L273.26,125.80 L273.45,126.18 L273.64,126.55 L273.83,126.91 L274.02,127.28 L274.21,127.63 L274.40,127.99 L274.59,128.34 L274.78,128.68 L274.97,129.02 L275.16,129.36 L275.35,129.69 L275.54,130.02 L275.73,130.35 L275.92,130.67 L276.11,130.99 L276.30,131.31 L276.49,131.62 L276.68,131.93 L276.88,132.24 L277.07,132.54 L277.26,132.84 L277.45,133.14 L277.64,133.43 L277.83,133.72 L278.02,134.01 L278.21,134.30 L278.40,134.58 L278.59,134.86 L278.78,135.14 L278.97,135.41 L279.16,135.69 L279.35,135.96 L279.54,136.23 L279.73,136.49 L279.92,136.75 L280.11,137.02 L280.30,137.27 L280.49,137.53 L280.68,137.79 L280.87,138.04 L281.06,138.29 L281.25,138.54 L281.44,138.78 L281.63,139.03 L281.82,139.27 L282.01,139.51 L282.20,139.75 L282.39,139.98 L282.58,140.22 L282.77,140.45 L282.96,140.68 L283.15,140.91 L283.34,141.14 L283.53,141.37 L283.72,141.59 L283.91,141.81 L284.10,142.03 L284.29,142.25 L284.49,142.47 L284.68,142.69 L284.87,142.90 L285.06,143.12 L285.25,143.33 L285.44,143.54 L285.63,143.75 L285.82,143.95 L286.01,144.16 L286.20,144.37 L286.39,144.57 L286.58,144.77 L286.77,144.97 L286.96,145.17 L287.15,145.37 L287.34,145.57 L287.53,145.76 L287.72,145.96 L287.91,146.15 L288.10,146.34 L288.29,146.53 L288.48,146.72 L288.67,146.91 L288.86,147.10 L289.05,147.28 L289.24,147.47 L289.43,147.65 L289.62,147.84 L289.81,148.02 L290.00,148.20 L290.19,148.38 L290.38,148.56 L290.57,148.73 L290.76,148.91 L290.95,149.09 L291.14,149.26 L291.33,149.43 L291.52,149.61 L291.71,149.78 L291.91,149.95 L292.10,150.12 L292.29,150.29 L292.48,150.46 L292.67,150.62 L292.86,150.79 L293.05,150.96 L293.24,151.12 L293.43,151.28 L293.62,151.45 L293.81,151.61 L294.00,151.77 L294.19,151.93 L294.38,152.09 L294.57,152.25 L294.76,152.41 L294.95,152.56 L295.14,152.72 L295.33,152.87 L295.52,153.03 L295.71,153.18 L295.90,153.34 L296.09,153.49 L296.28,153.64 L296.47,153.79 L296.66,153.94 L296.85,154.09 L297.04,154.24 L297.23,154.39 L297.42,154.53 L297.61,154.68 L297.80,154.83 L297.99,154.97 L298.18,155.12 L298.37,155.26 L298.56,155.40 L298.75,155.55 L298.94,155.69 L299.13,155.83 L299.32,155.97 L299.52,156.11 L299.71,156.25 L299.90,156.39 L300.09,156.53 L300.28,156.67 L300.47,156.80 L300.66,156.94 L300.85,157.08 L301.04,157.21 L301.23,157.35 L301.42,157.48 L301.61,157.61 L301.80,157.75 L301.99,157.88 L302.18,158.01 L302.37,158.14 L302.56,158.27 L302.75,158.40 L302.94,158.53 L303.13,158.66 L303.32,158.79 L303.51,158.92 L303.70,159.05 L303.89,159.17 L304.08,159.30 L304.27,159.43 L304.46,159.55 L304.65,159.68 L304.84,159.80 L305.03,159.93 L305.22,160.05 L305.41,160.17 L305.60,160.30 L305.79,160.42 L305.98,160.54 L306.17,160.66 L306.36,160.78 L306.55,160.90 L306.74,161.02 L306.94,161.14 L307.13,161.26 L307.32,161.38 L307.51,161.50 L307.70,161.61 L307.89,161.73 L308.08,161.85 L308.27,161.97 L308.46,162.08 L308.65,162.20 L308.84,162.31 L309.03,162.43 L309.22,162.54 L309.41,162.65 L309.60,162.77 L309.79,162.88 L309.98,162.99 L310.17,163.11 L310.36,163.22 L310.55,163.33 L310.74,163.44 L310.93,163.55 L311.12,163.66 L311.31,163.77 L311.50,163.88 L311.69,163.99 L311.88,164.10 L312.07,164.21 L312.26,164.31 L312.45,164.42 L312.64,164.53 L312.83,164.64 L313.02,164.74 L313.21,164.85 L313.40,164.96 L313.59,165.06 L313.78,165.17 L313.97,165.27 L314.16,165.38 L314.36,165.48 L314.55,165.58 L314.74,165.69 L314.93,165.79 L315.12,165.89 L315.31,165.99 L315.50,166.10 L315.69,166.20 L315.88,166.30 L316.07,166.40 L316.26,166.50 L316.45,166.60 L316.64,166.70 L316.83,166.80 L317.02,166.90 L317.21,167.00 L317.40,167.10 L317.59,167.20 L317.78,167.30 L317.97,167.40 L318.16,167.49 L318.35,167.59 L318.54,167.69 L318.73,167.78 L318.92,167.88 L319.11,167.98 L319.30,168.07 L319.49,168.17 L319.68,168.26 L319.87,168.36 L320.06,168.45 L320.25,168.55 L320.44,168.64 L320.63,168.74 L320.82,168.83 L321.01,168.92 L321.20,169.02 L321.39,169.11 L321.58,169.20 L321.77,169.30 L321.97,169.39 L322.16,169.48 L322.35,169.57 L322.54,169.66 L322.73,169.75 L322.92,169.84 L323.11,169.93 L323.30,170.02 L323.49,170.11 L323.68,170.20 L323.87,170.29 L324.06,170.38 L324.25,170.47 L324.44,170.56 L324.63,170.65 L324.82,170.74 L325.01,170.83 L325.20,170.91 L325.39,171.00 L325.58,171.09 L325.77,171.17 L325.96,171.26 L326.15,171.35 L326.34,171.43 L326.53,171.52 L326.72,171.61 L326.91,171.69 L327.10,171.78 L327.29,171.86 L327.48,171.95 L327.67,172.03 L327.86,172.12 L328.05,172.20 L328.24,172.28 L328.43,172.37 L328.62,172.45 L328.81,172.54 L329.00,172.62 L329.19,172.70 L329.39,172.78 L329.58,172.87 L329.77,172.95 L329.96,173.03 L330.15,173.11 L330.34,173.20 L330.53,173.28 L330.72,173.36 L330.91,173.44 L331.10,173.52 L331.29,173.60 L331.48,173.68 L331.67,173.76 L331.86,173.84 L332.05,173.92 L332.24,174.00 L332.43,174.08 L332.62,174.16 L332.81,174.24 L333.00,174.32 L333.19,174.40 L333.38,174.47 L333.57,174.55 L333.76,174.63 L333.95,174.71 L334.14,174.79 L334.33,174.86 L334.52,174.94 L334.71,175.02 L334.90,175.10 L335.09,175.17 L335.28,175.25 L335.47,175.33 L335.66,175.40 L335.85,175.48 L336.04,175.55 L336.23,175.63 L336.42,175.71 L336.61,175.78 L336.81,175.86 L337.00,175.93 L337.19,176.01 L337.38,176.08 L337.57,176.15 L337.76,176.23 L337.95,176.30 L338.14,176.38 L338.33,176.45 L338.52,176.52 L338.71,176.60 L338.90,176.67 L339.09,176.74 L339.28,176.82 L339.47,176.89 L339.66,176.96 L339.85,177.04 L340.04,177.11 L340.23,177.18 L340.42,177.25 L340.61,177.32 L340.80,177.40 L340.99,177.47 L341.18,177.54 L341.37,177.61 L341.56,177.68 L341.75,177.75 L341.94,177.82 L342.13,177.89 L342.32,177.96 L342.51,178.03 L342.70,178.10 L342.89,178.17 L343.08,178.24 L343.27,178.31 L343.46,178.38 L343.65,178.45 L343.84,178.52 L344.03,178.59 L344.23,178.66 L344.42,178.73 L344.61,178.80 L344.80,178.87 L344.99,178.93 L345.18,179.00 L345.37,179.07 L345.56,179.14 L345.75,179.21 L345.94,179.27 L346.13,179.34 L346.32,179.41 L346.51,179.48 L346.70,179.54 L346.89,179.61 L347.08,179.68 L347.27,179.74 L347.46,179.81 L347.65,179.88 L347.84,179.94 L348.03,180.01 L348.22,180.07 L348.41,180.14 L348.60,180.21 L348.79,180.27 L348.98,180.34 L349.17,180.40 L349.36,180.47 L349.55,180.53 L349.74,180.60 L349.93,180.66 L350.12,180.73 L350.31,180.79 L350.50,180.86 L350.69,180.92 L350.88,180.99 L351.07,181.05 L351.26,181.11 L351.45,181.18 L351.64,181.24 L351.84,181.31 L352.03,181.37 L352.22,181.43 L352.41,181.50 L352.60,181.56 L352.79,181.62 L352.98,181.68 L353.17,181.75 L353.36,181.81 L353.55,181.87 L353.74,181.94 L353.93,182.00 L354.12,182.06 L354.31,182.12 L354.50,182.18 L354.69,182.25 L354.88,182.31 L355.07,182.37 L355.26,182.43 L355.45,182.49 L355.64,182.55 L355.83,182.61 L356.02,182.68 L356.21,182.74 L356.40,182.80 L356.59,182.86 L356.78,182.92 L356.97,182.98 L357.16,183.04 L357.35,183.10 L357.54,183.16 L357.73,183.22 L357.92,183.28 L358.11,183.34 L358.30,183.40 L358.49,183.46 L358.68,183.52 L358.87,183.58 L359.06,183.64 L359.26,183.70 L359.45,183.76 L359.64,183.82 L359.83,183.88 L360.02,183.94 L360.21,183.99 L360.40,184.05 L360.59,184.11 L360.78,184.17 L360.97,184.23 L361.16,184.29 L361.35,184.34 L361.54,184.40 L361.73,184.46 L361.92,184.52 L362.11,184.58 L362.30,184.63 L362.49,184.69 L362.68,184.75 L362.87,184.81 L363.06,184.86 L363.25,184.92 L363.44,184.98 L363.63,185.04 L363.82,185.09 L364.01,185.15 L364.20,185.21 L364.39,185.26 L364.58,185.32 L364.77,185.38 L364.96,185.43 L365.15,185.49 L365.34,185.55 L365.53,185.60 L365.72,185.66 L365.91,185.72 L366.10,185.77 L366.29,185.83 L366.48,185.88 L366.68,185.94 L366.87,185.99 L367.06,186.05 L367.25,186.11 L367.44,186.16 L367.63,186.22 L367.82,186.27 L368.01,186.33 L368.20,186.38 L368.39,186.44 L368.58,186.49 L368.77,186.55 L368.96,186.60 L369.15,186.66 L369.34,186.71 L369.53,186.77 L369.72,186.82 L369.91,186.87 L370.10,186.93 L370.29,186.98 L370.48,187.04 L370.67,187.09 L370.86,187.14 L371.05,187.20 L371.24,187.25 L371.43,187.31 L371.62,187.36 L371.81,187.41 L372.00,187.47 L372.19,187.52 L372.38,187.57 L372.57,187.63 L372.76,187.68 L372.95,187.73 L373.14,187.79 L373.33,187.84 L373.52,187.89 L373.71,187.95 L373.90,188.00 L374.09,188.05 L374.29,188.10 L374.48,188.16 L374.67,188.21 L374.86,188.26 L375.05,188.31 L375.24,188.37 L375.43,188.42 L375.62,188.47 L375.81,188.52 L376.00,188.58 L376.19,188.63 L376.38,188.68 L376.57,188.73 L376.76,188.78 L376.95,188.83 L377.14,188.89 L377.33,188.94 L377.52,188.99 L377.71,189.04 L377.90,189.09 L378.09,189.14 L378.28,189.20 L378.47,189.25 L378.66,189.30 L378.85,189.35 L379.04,189.40 L379.23,189.45 L379.42,189.50 L379.61,189.55 L379.80,189.60 L379.99,189.65 L380.18,189.71 L380.37,189.76 L380.56,189.81 L380.75,189.86 L380.94,189.91 L381.13,189.96 L381.32,190.01 L381.51,190.06 L381.71,190.11 L381.90,190.16 L382.09,190.21 L382.28,190.26 L382.47,190.31 L382.66,190.36 L382.85,190.41 L383.04,190.46 L383.23,190.51 L383.42,190.56 L383.61,190.61 L383.80,190.66 L383.99,190.71 L384.18,190.76 L384.37,190.81 L384.56,190.86 L384.75,190.91 L384.94,190.96 L385.13,191.00 L385.32,191.05 L385.51,191.10 L385.70,191.15 L385.89,191.20 L386.08,191.25 L386.27,191.30 L386.46,191.35 L386.65,191.40 L386.84,191.45 L387.03,191.49 L387.22,191.54 L387.41,191.59 L387.60,191.64 L387.79,191.69 L387.98,191.74 L388.17,191.79 L388.36,191.84 L388.55,191.88 L388.74,191.93 L388.93,191.98 L389.12,192.03 L389.32,192.08 L389.51,192.13 L389.70,192.17 L389.89,192.22 L390.08,192.27 L390.27,192.32 L390.46,192.37 L390.65,192.41 L390.84,192.46 L391.03,192.51 L391.22,192.56 L391.41,192.61 L391.60,192.65 L391.79,192.70 L391.98,192.75 L392.17,192.80 L392.36,192.84 L392.55,192.89 L392.74,192.94 L392.93,192.99 L393.12,193.03 L393.31,193.08 L393.50,193.13 L393.69,193.18 L393.88,193.22 L394.07,193.27 L394.26,193.32 L394.45,193.37 L394.64,193.41 L394.83,193.46 L395.02,193.51 L395.21,193.55 L395.40,193.60 L395.59,193.65 L395.78,193.69 L395.97,193.74 L396.16,193.79 L396.35,193.84 L396.54,193.88 L396.74,193.93 L396.93,193.98 L397.12,194.02 L397.31,194.07 L397.50,194.12 L397.69,194.16 L397.88,194.21 L398.07,194.26 L398.26,194.30 L398.45,194.35 L398.64,194.40 L398.83,194.44 L399.02,194.49 L399.21,194.53 L399.40,194.58 L399.59,194.63 L399.78,194.67 L399.97,194.72 L400.16,194.77 L400.35,194.81 L400.54,194.86 L400.73,194.91 L400.92,194.95 L401.11,195.00 L401.30,195.04 L401.49,195.09 L401.68,195.14 L401.87,195.18 L402.06,195.23 L402.25,195.27 L402.44,195.32 L402.63,195.37 L402.82,195.41 L403.01,195.46 L403.20,195.50 L403.39,195.55 L403.58,195.59 L403.77,195.64 L403.96,195.69 L404.16,195.73 L404.35,195.78 L404.54,195.82 L404.73,195.87 L404.92,195.92 L405.11,195.96 L405.30,196.01 L405.49,196.05 L405.68,196.10 L405.87,196.14 L406.06,196.19 L406.25,196.23 L406.44,196.28 L406.63,196.33 L406.82,196.37 L407.01,196.42 L407.20,196.46 L407.39,196.51 L407.58,196.55 L407.77,196.60 L407.96,196.64 L408.15,196.69 L408.34,196.73 L408.53,196.78 L408.72,196.82 L408.91,196.87 L409.10,196.92 L409.29,196.96 L409.48,197.01 L409.67,197.05 L409.86,197.10 L410.05,197.14 L410.24,197.19 L410.43,197.23 L410.62,197.28 L410.81,197.32 L411.00,197.37 L411.19,197.41 L411.38,197.46 L411.57,197.50 L411.77,197.55 L411.96,197.59 L412.15,197.64 L412.34,197.68 L412.53,197.73 L412.72,197.77 L412.91,197.82 L413.10,197.86 L413.29,197.91 L413.48,197.95 L413.67,198.00 L413.86,198.04 L414.05,198.09 L414.24,198.13 L414.43,198.18 L414.62,198.22 L414.81,198.27 L415.00,198.31 L415.19,198.36 L415.38,198.40 L415.57,198.45 L415.76,198.49 L415.95,198.54 L416.14,198.58 L416.33,198.63 L416.52,198.67 L416.71,198.72 L416.90,198.76 L417.09,198.81 L417.28,198.85 L417.47,198.90 L417.66,198.94 L417.85,198.99 L418.04,199.03 L418.23,199.08 L418.42,199.12 L418.61,199.17 L418.80,199.21 L418.99,199.26 L419.19,199.30 L419.38,199.35 L419.57,199.39 L419.76,199.44 L419.95,199.48 L420.14,199.53 L420.33,199.57 L420.52,199.61 L420.71,199.66 L420.90,199.70 L421.09,199.75 L421.28,199.79 L421.47,199.84 L421.66,199.88 L421.85,199.93 L422.04,199.97 L422.23,200.02 L422.42,200.06 L422.61,200.11 L422.80,200.15 L422.99,200.20 L423.18,200.24 L423.37,200.29 L423.56,200.33 L423.75,200.38 L423.94,200.42 L424.13,200.47 L424.32,200.51 L424.51,200.56 L424.70,200.60 L424.89,200.65 L425.08,200.69 L425.27,200.74 L425.46,200.78 L425.65,200.83 L425.84,200.87 L426.03,200.92 L426.22,200.96 L426.41,201.01 L426.61,201.05 L426.80,201.10 L426.99,201.14 L427.18,201.19 L427.37,201.23 L427.56,201.28 L427.75,201.32 L427.94,201.37 L428.13,201.41 L428.32,201.46 L428.51,201.50 L428.70,201.55 L428.89,201.59 L429.08,201.64 L429.27,201.69 L429.46,201.73 L429.65,201.78 L429.84,201.82 L430.03,201.87 L430.22,201.91 L430.41,201.96 L430.60,202.00 L430.79,202.05 L430.98,202.09 L431.17,202.14 L431.36,202.18 L431.55,202.23 L431.74,202.27 L431.93,202.32 L432.12,202.37 L432.31,202.41 L432.50,202.46 L432.69,202.50 L432.88,202.55 L433.07,202.59 L433.26,202.64 L433.45,202.68 L433.64,202.73 L433.83,202.78 L434.02,202.82 L434.22,202.87 L434.41,202.91 L434.60,202.96 L434.79,203.00 L434.98,203.05 L435.17,203.10 L435.36,203.14 L435.55,203.19 L435.74,203.23 L435.93,203.28 L436.12,203.33 L436.31,203.37 L436.50,203.42 L436.69,203.46 L436.88,203.51 L437.07,203.56 L437.26,203.60 L437.45,203.65 L437.64,203.69 L437.83,203.74 L438.02,203.79 L438.21,203.83 L438.40,203.88 L438.59,203.92 L438.78,203.97 L438.97,204.02 L439.16,204.06 L439.35,204.11 L439.54,204.16 L439.73,204.20 L439.92,204.25 L440.11,204.30 L440.30,204.34 L440.49,204.39 L440.68,204.44 L440.87,204.48 L441.06,204.53 L441.25,204.58 L441.44,204.62 L441.64,204.67 L441.83,204.72 L442.02,204.76 L442.21,204.81 L442.40,204.86 L442.59,204.90 L442.78,204.95 L442.97,205.00 L443.16,205.04 L443.35,205.09 L443.54,205.14 L443.73,205.19 L443.92,205.23 L444.11,205.28 L444.30,205.33 L444.49,205.37 L444.68,205.42 L444.87,205.47 L445.06,205.52 L445.25,205.56 L445.44,205.61 L445.63,205.66 L445.82,205.71 L446.01,205.75 L446.20,205.80 L446.39,205.85 L446.58,205.90 L446.77,205.95 L446.96,205.99 L447.15,206.04 L447.34,206.09 L447.53,206.14 L447.72,206.19 L447.91,206.23 L448.10,206.28 L448.29,206.33 L448.48,206.38 L448.67,206.43 L448.86,206.47 L449.06,206.52 L449.25,206.57 L449.44,206.62 L449.63,206.67 L449.82,206.72 L450.01,206.77 L450.20,206.81 L450.39,206.86 L450.58,206.91 L450.77,206.96 L450.96,207.01 L451.15,207.06 L451.34,207.11 L451.53,207.16 L451.72,207.21 L451.91,207.25 L452.10,207.30 L452.29,207.35 L452.48,207.40 L452.67,207.45 L452.86,207.50 L453.05,207.55 L453.24,207.60 L453.43,207.65 L453.62,207.70 L453.81,207.75 L454.00,207.80 L454.19,207.85 L454.38,207.90 L454.57,207.95 L454.76,208.00 L454.95,208.05 L455.14,208.10 L455.33,208.15 L455.52,208.20 L455.71,208.25 L455.90,208.30 L456.09,208.35 L456.28,208.40 L456.48,208.45 L456.67,208.50 L456.86,208.55 L457.05,208.60 L457.24,208.65 L457.43,208.70 L457.62,208.75 L457.81,208.81 L458.00,208.86 L458.19,208.91 L458.38,208.96 L458.57,209.01 L458.76,209.06 L458.95,209.11 L459.14,209.16 L459.33,209.22 L459.52,209.27 L459.71,209.32 L459.90,209.37 L460.09,209.42 L460.28,209.47 L460.47,209.53 L460.66,209.58 L460.85,209.63 L461.04,209.68 L461.23,209.73 L461.42,209.79 L461.61,209.84 L461.80,209.89 L461.99,209.94 L462.18,210.00 L462.37,210.05 L462.56,210.10 L462.75,210.16 L462.94,210.21 L463.13,210.26 L463.32,210.31 L463.51,210.37 L463.70,210.42 L463.89,210.47 L464.09,210.53 L464.28,210.58 L464.47,210.63 L464.66,210.69 L464.85,210.74 L465.04,210.80 L465.23,210.85 L465.42,210.90 L465.61,210.96 L465.80,211.01 L465.99,211.07 L466.18,211.12 L466.37,211.17 L466.56,211.23 L466.75,211.28 L466.94,211.34 L467.13,211.39 L467.32,211.45 L467.51,211.50 L467.70,211.56 L467.89,211.61 L468.08,211.67 L468.27,211.72 L468.46,211.78 L468.65,211.83 L468.84,211.89 L469.03,211.95 L469.22,212.00 L469.41,212.06 L469.60,212.11 L469.79,212.17 L469.98,212.23 L470.17,212.28 L470.36,212.34 L470.55,212.40 L470.74,212.45 L470.93,212.51 L471.12,212.57 L471.31,212.62 L471.51,212.68 L471.70,212.74 L471.89,212.79 L472.08,212.85 L472.27,212.91 L472.46,212.97 L472.65,213.02 L472.84,213.08 L473.03,213.14 L473.22,213.20 L473.41,213.26 L473.60,213.31 L473.79,213.37 L473.98,213.43 L474.17,213.49 L474.36,213.55 L474.55,213.61 L474.74,213.67 L474.93,213.72 L475.12,213.78 L475.31,213.84 L475.50,213.90 L475.69,213.96 L475.88,214.02 L476.07,214.08 L476.26,214.14 L476.45,214.20 L476.64,214.26 L476.83,214.32 L477.02,214.38 L477.21,214.44 L477.40,214.50 L477.59,214.56 L477.78,214.62 L477.97,214.69 L478.16,214.75 L478.35,214.81 L478.54,214.87 L478.73,214.93 L478.93,214.99 L479.12,215.05 L479.31,215.12 L479.50,215.18 L479.69,215.24 L479.88,215.30 L480.07,215.37 L480.26,215.43 L480.45,215.49 L480.64,215.55 L480.83,215.62 L481.02,215.68 L481.21,215.74 L481.40,215.81 L481.59,215.87 L481.78,215.93 L481.97,216.00 L482.16,216.06 L482.35,216.13 L482.54,216.19 L482.73,216.25 L482.92,216.32 L483.11,216.38 L483.30,216.45 L483.49,216.51 L483.68,216.58 L483.87,216.64 L484.06,216.71 L484.25,216.78 L484.44,216.84 L484.63,216.91 L484.82,216.97 L485.01,217.04 L485.20,217.11 L485.39,217.17 L485.58,217.24 L485.77,217.31 L485.96,217.37 L486.15,217.44 L486.34,217.51 L486.54,217.58 L486.73,217.65 L486.92,217.71 L487.11,217.78 L487.30,217.85 L487.49,217.92 L487.68,217.99 L487.87,218.06 L488.06,218.13 L488.25,218.19 L488.44,218.26 L488.63,218.33 L488.82,218.40 L489.01,218.47 L489.20,218.54 L489.39,218.61 L489.58,218.68 L489.77,218.76 L489.96,218.83 L490.15,218.90 L490.34,218.97 L490.53,219.04 L490.72,219.11 L490.91,219.18 L491.10,219.26 L491.29,219.33 L491.48,219.40 L491.67,219.47 L491.86,219.55 L492.05,219.62 L492.24,219.69 L492.43,219.77 L492.62,219.84 L492.81,219.91 L493.00,219.99 L493.19,220.06 L493.38,220.14 L493.57,220.21 L493.76,220.29 L493.96,220.36 L494.15,220.44 L494.34,220.51 L494.53,220.59 L494.72,220.67 L494.91,220.74 L495.10,220.82 L495.29,220.90 L495.48,220.97 L495.67,221.05 L495.86,221.13 L496.05,221.21 L496.24,221.28 L496.43,221.36 L496.62,221.44 L496.81,221.52 L497.00,221.60 L497.19,221.68 L497.38,221.76 L497.57,221.84 L497.76,221.92 L497.95,222.00 L498.14,222.08 L498.33,222.16 L498.52,222.24 L498.71,222.32 L498.90,222.40 L499.09,222.48 L499.28,222.57 L499.47,222.65 L499.66,222.73 L499.85,222.81 L500.04,222.90 L500.23,222.98 L500.42,223.06 L500.61,223.15 L500.80,223.23 L500.99,223.32 L501.18,223.40 L501.38,223.49 L501.57,223.57 L501.76,223.66 L501.95,223.74 L502.14,223.83 L502.33,223.92 L502.52,224.00 L502.71,224.09 L502.90,224.18 L503.09,224.27 L503.28,224.35 L503.47,224.44 L503.66,224.53 L503.85,224.62 L504.04,224.71 L504.23,224.80 L504.42,224.89 L504.61,224.98 L504.80,225.07 L504.99,225.16 L505.18,225.25 L505.37,225.35 L505.56,225.44 L505.75,225.53 L505.94,225.62 L506.13,225.72 L506.32,225.81 L506.51,225.90 L506.70,226.00 L506.89,226.09 L507.08,226.19 L507.27,226.28 L507.46,226.38 L507.65,226.47 L507.84,226.57 L508.03,226.67 L508.22,226.76 L508.41,226.86 L508.60,226.96 L508.79,227.06 L508.99,227.16 L509.18,227.26 L509.37,227.36 L509.56,227.46 L509.75,227.56 L509.94,227.66 L510.13,227.76 L510.32,227.86 L510.51,227.96 L510.70,228.06 L510.89,228.17 L511.08,228.27 L511.27,228.37 L511.46,228.48 L511.65,228.58 L511.84,228.69 L512.03,228.79 L512.22,228.90 L512.41,229.01 L512.60,229.11 L512.79,229.22 L512.98,229.33 L513.17,229.44 L513.36,229.55 L513.55,229.66 L513.74,229.77 L513.93,229.88 L514.12,229.99 L514.31,230.10 L514.50,230.21 L514.69,230.32 L514.88,230.43 L515.07,230.55 L515.26,230.66 L515.45,230.78 L515.64,230.89 L515.83,231.01 L516.02,231.12 L516.21,231.24 L516.41,231.36 L516.60,231.48 L516.79,231.59 L516.98,231.71 L517.17,231.83 L517.36,231.95 L517.55,232.07 L517.74,232.19 L517.93,232.32 L518.12,232.44 L518.31,232.56 L518.50,232.69 L518.69,232.81 L518.88,232.93 L519.07,233.06 L519.26,233.19 L519.45,233.31 L519.64,233.44 L519.83,233.57 L520.02,233.70 L520.21,233.83 L520.40,233.96 L520.59,234.09 L520.78,234.22 L520.97,234.35 L521.16,234.49 L521.35,234.62 L521.54,234.76 L521.73,234.89 L521.92,235.03 L522.11,235.16 L522.30,235.30 L522.49,235.44 L522.68,235.58 L522.87,235.72 L523.06,235.86 L523.25,236.00 L523.44,236.14 L523.63,236.29 L523.83,236.43 L524.02,236.58 L524.21,236.72 L524.40,236.87 L524.59,237.02 L524.78,237.17 L524.97,237.31 L525.16,237.46 L525.35,237.62 L525.54,237.77 L525.73,237.92 L525.92,238.08 L526.11,238.23 L526.30,238.39 L526.49,238.54 L526.68,238.70 L526.87,238.86 L527.06,239.02 L527.25,239.18 L527.44,239.34 L527.63,239.51 L527.82,239.67 L528.01,239.84 L528.20,240.00 L528.39,240.17 L528.58,240.34 L528.77,240.51 L528.96,240.68 L529.15,240.85 L529.34,241.03 L529.53,241.20 L529.72,241.38 L529.91,241.56 L530.10,241.74 L530.29,241.92 L530.48,242.10 L530.67,242.28 L530.86,242.46 L531.05,242.65 L531.24,242.83 L531.44,243.02 L531.63,243.21 L531.82,243.40 L532.01,243.60 L532.20,243.79 L532.39,243.99 L532.58,244.18 L532.77,244.38 L532.96,244.58 L533.15,244.78 L533.34,244.99 L533.53,245.19 L533.72,245.40 L533.91,245.61 L534.10,245.82 L534.29,246.03 L534.48,246.24 L534.67,246.46 L534.86,246.68 L535.05,246.90 L535.24,247.12 L535.43,247.34 L535.62,247.57 L535.81,247.80 L536.00,248.03 L536.19,248.26 L536.38,248.49 L536.57,248.73 L536.76,248.97 L536.95,249.21 L537.14,249.45 L537.33,249.69 L537.52,249.94 L537.71,250.19 L537.90,250.45 L538.09,250.70 L538.28,250.96 L538.47,251.22 L538.66,251.48 L538.86,251.75 L539.05,252.02 L539.24,252.29 L539.43,252.56 L539.62,252.84 L539.81,253.12 L540.00,253.41 L540.19,253.69 L540.38,253.98 L540.57,254.28 L540.76,254.57 L540.95,254.88 L541.14,255.18 L541.33,255.49 L541.52,255.80 L541.71,256.11 L541.90,256.43 L542.09,256.76 L542.28,257.09 L542.47,257.42 L542.66,257.75 L542.85,258.09 L543.04,258.44 L543.23,258.79 L543.42,259.14 L543.61,259.50 L543.80,259.87 L543.99,260.24 L544.18,260.62 L544.37,261.00 L544.56,261.38 L544.75,261.78 L544.94,262.18 L545.13,262.58 L545.32,262.99 L545.51,263.41 L545.70,263.84 L545.89,264.27 L546.08,264.71 L546.27,265.15 L546.47,265.61 L546.66,266.07 L546.85,266.54 L547.04,267.02 L547.23,267.51 L547.42,268.01 L547.61,268.52 L547.80,269.04 L547.99,269.57 L548.18,270.10 L548.37,270.66 L548.56,271.22 L548.75,271.79 L548.94,272.38 L549.13,272.98 L549.32,273.60 L549.51,274.23 L549.70,274.87 L549.89,275.54 L550.08,276.22 L550.27,276.91 L550.46,277.63 L550.65,278.36 L550.84,279.12 L551.03,279.90 L551.22,280.70 L551.41,281.53 L551.60,282.38 L551.79,283.27 L551.98,284.18 L552.17,285.13 L552.36,286.11 L552.55,287.12 L552.74,288.18 L552.93,289.28 L553.12,290.43 L553.31,291.63 L553.50,292.89 L553.69,294.21 L553.70,294.27 L553.71,294.32 L553.72,294.37 L553.73,294.43 L553.73,294.48 L553.74,294.54 L553.75,294.59 L553.76,294.65 L553.76,294.70 L553.77,294.76 L553.78,294.81 L553.79,294.87 L553.79,294.92 L553.80,294.98 L553.81,295.04 L553.82,295.09 L553.82,295.15 L553.83,295.20 L553.84,295.26 L553.85,295.32 L553.85,295.37 L553.86,295.43 L553.87,295.49 L553.88,295.54 L553.89,295.60 L553.89,295.66 L553.90,295.71 L553.91,295.77 L553.92,295.83 L553.92,295.89 L553.93,295.94 L553.94,296.00 L553.95,296.06 L553.95,296.12 L553.96,296.18 L553.97,296.23 L553.98,296.29 L553.98,296.35 L553.99,296.41 L554.00,296.47 L554.01,296.53 L554.01,296.59 L554.02,296.65 L554.03,296.70 L554.04,296.76 L554.04,296.82 L554.05,296.88 L554.06,296.94 L554.07,297.00 L554.08,297.06 L554.08,297.12 L554.09,297.18 L554.10,297.24 L554.11,297.30 L554.11,297.37 L554.12,297.43 L554.13,297.49 L554.14,297.55 L554.14,297.61 L554.15,297.67 L554.16,297.73 L554.17,297.79 L554.17,297.86 L554.18,297.92 L554.19,297.98 L554.20,298.04 L554.20,298.11 L554.21,298.17 L554.22,298.23 L554.23,298.29 L554.24,298.36 L554.24,298.42 L554.25,298.48 L554.26,298.55 L554.27,298.61 L554.27,298.67 L554.28,298.74 L554.29,298.80 L554.30,298.87 L554.30,298.93 L554.31,299.00 L554.32,299.06 L554.33,299.13 L554.33,299.19 L554.34,299.26 L554.35,299.32 L554.36,299.39 L554.36,299.45 L554.37,299.52 L554.38,299.58 L554.39,299.65 L554.40,299.72 L554.40,299.78 L554.41,299.85 L554.42,299.92 L554.43,299.98 L554.43,300.05 L554.44,300.12 L554.45,300.19 L554.46,300.25 L554.46,300.32 L554.47,300.39 L554.48,300.46 L554.49,300.53 L554.49,300.59 L554.50,300.66 L554.51,300.73 L554.52,300.80 L554.52,300.87 L554.53,300.94 L554.54,301.01 L554.55,301.08 L554.55,301.15 L554.56,301.22 L554.57,301.29 L554.58,301.36 L554.59,301.43 L554.59,301.50 L554.60,301.57 L554.61,301.64 L554.62,301.71 L554.62,301.79 L554.63,301.86 L554.64,301.93 L554.65,302.00 L554.65,302.07 L554.66,302.15 L554.67,302.22 L554.68,302.29 L554.68,302.37 L554.69,302.44 L554.70,302.51 L554.71,302.59 L554.71,302.66 L554.72,302.74 L554.73,302.81 L554.74,302.88 L554.75,302.96 L554.75,303.03 L554.76,303.11 L554.77,303.18 L554.78,303.26 L554.78,303.34 L554.79,303.41 L554.80,303.49 L554.81,303.57 L554.81,303.64 L554.82,303.72 L554.83,303.80 L554.84,303.87 L554.84,303.95 L554.85,304.03 L554.86,304.11 L554.87,304.19 L554.87,304.26 L554.88,304.34 L554.89,304.42 L554.90,304.50 L554.90,304.58 L554.91,304.66 L554.92,304.74 L554.93,304.82 L554.94,304.90 L554.94,304.98 L554.95,305.06 L554.96,305.14 L554.97,305.22 L554.97,305.31 L554.98,305.39 L554.99,305.47 L555.00,305.55 L555.00,305.63 L555.01,305.72 L555.02,305.80 L555.03,305.88 L555.03,305.97 L555.04,306.05 L555.05,306.14 L555.06,306.22 L555.06,306.30 L555.07,306.39 L555.08,306.47 L555.09,306.56 L555.10,306.65 L555.10,306.73 L555.11,306.82 L555.12,306.90 L555.13,306.99 L555.13,307.08 L555.14,307.17 L555.15,307.25 L555.16,307.34 L555.16,307.43 L555.17,307.52 L555.18,307.61 L555.19,307.70 L555.19,307.79 L555.20,307.88 L555.21,307.97 L555.22,308.06 L555.22,308.15 L555.23,308.24 L555.24,308.33 L555.25,308.42 L555.25,308.51 L555.26,308.60 L555.27,308.70 L555.28,308.79 L555.29,308.88 L555.29,308.98 L555.30,309.07 L555.31,309.16 L555.32,309.26 L555.32,309.35 L555.33,309.45 L555.34,309.54 L555.35,309.64 L555.35,309.74 L555.36,309.83 L555.37,309.93 L555.38,310.03 L555.38,310.12 L555.39,310.22 L555.40,310.32 L555.41,310.42 L555.41,310.52 L555.42,310.62 L555.43,310.72 L555.44,310.82 L555.45,310.92 L555.45,311.02 L555.46,311.12 L555.47,311.22 L555.48,311.32 L555.48,311.42 L555.49,311.53 L555.50,311.63 L555.51,311.73 L555.51,311.84 L555.52,311.94 L555.53,312.05 L555.54,312.15 L555.54,312.26 L555.55,312.36 L555.56,312.47 L555.57,312.58 L555.57,312.68 L555.58,312.79 L555.59,312.90 L555.60,313.01 L555.61,313.12 L555.61,313.23 L555.62,313.34 L555.63,313.45 L555.64,313.56 L555.64,313.67 L555.65,313.78 L555.66,313.89 L555.67,314.00 L555.67,314.12 L555.68,314.23 L555.69,314.34 L555.70,314.46 L555.70,314.57 L555.71,314.69 L555.72,314.81 L555.73,314.92 L555.73,315.04 L555.74,315.16 L555.75,315.27 L555.76,315.39 L555.76,315.51 L555.77,315.63 L555.78,315.75 L555.79,315.87 L555.80,315.99 L555.80,316.11 L555.81,316.24 L555.82,316.36 L555.83,316.48 L555.83,316.61 L555.84,316.73 L555.85,316.86 L555.86,316.98 L555.86,317.11 L555.87,317.23 L555.88,317.36 L555.89,317.49 L555.89,317.62 L555.90,317.75 L555.91,317.88 L555.92,318.01 L555.92,318.14 L555.93,318.27 L555.94,318.40 L555.95,318.54 L555.96,318.67 L555.96,318.80 L555.97,318.94 L555.98,319.07 L555.99,319.21 L555.99,319.35 L556.00,319.49 L556.01,319.62 L556.02,319.76 L556.02,319.90 L556.03,320.04 L556.04,320.18 L556.05,320.33 L556.05,320.47 L556.06,320.61 L556.07,320.76 L556.08,320.90 L556.08,321.05 L556.09,321.19 L556.10,321.34 L556.11,321.49 L556.11,321.64 L556.12,321.79 L556.13,321.94 L556.14,322.09 L556.15,322.24 L556.15,322.40 L556.16,322.55 L556.17,322.71 L556.18,322.86 L556.18,323.02 L556.19,323.18 L556.20,323.34 L556.21,323.50 L556.21,323.66 L556.22,323.82 L556.23,323.98 L556.24,324.14 L556.24,324.31 L556.25,324.47 L556.26,324.64 L556.27,324.81 L556.27,324.98 L556.28,325.15 L556.29,325.32 L556.30,325.49 L556.31,325.66 L556.31,325.83 L556.32,326.01 L556.33,326.19 L556.34,326.36 L556.34,326.54 L556.35,326.72 L556.36,326.90 L556.37,327.08 L556.37,327.27 L556.38,327.45 L556.39,327.64 L556.40,327.82 L556.40,328.01 L556.41,328.20 L556.42,328.39 L556.43,328.59 L556.43,328.78 L556.44,328.98 L556.45,329.17 L556.46,329.37 L556.47,329.57 L556.47,329.77 L556.48,329.97 L556.49,330.18 L556.50,330.38 L556.50,330.59 L556.51,330.80 L556.52,331.01 L556.53,331.22 L556.53,331.43 L556.54,331.65 L556.55,331.87 L556.56,332.09 L556.56,332.31 L556.57,332.53 L556.58,332.75 L556.59,332.98 L556.59,333.21 L556.60,333.44 L556.61,333.67 L556.62,333.90 L556.62,334.14 L556.63,334.38 L556.64,334.62 L556.65,334.86 L556.66,335.10 L556.66,335.35 L556.67,335.60 L556.68,335.85 L556.69,336.10 L556.69,336.36 L556.70,336.62 L556.71,336.88 L556.72,337.14 L556.72,337.41 L556.73,337.67 L556.74,337.95 L556.75,338.22 L556.75,338.50 L556.76,338.78 L556.77,339.06 L556.78,339.34 L556.78,339.63 L556.79,339.92 L556.80,340.22 L556.81,340.52 L556.82,340.82 L556.82,341.12 L556.83,341.43 L556.84,341.74 L556.85,342.06 L556.85,342.37 L556.86,342.70 L556.87,343.02 L556.88,343.35 L556.88,343.69 L556.89,344.03 L556.90,344.37 L556.91,344.72 L556.91,345.07 L556.92,345.42 L556.93,345.79 L556.94,346.15 L556.94,346.52 L556.95,346.90 L556.96,347.28 L556.97,347.67 L556.97,348.06 L556.98,348.46 L556.99,348.86 L557.00,349.27 L557.01,349.69 L557.01,350.11 L557.02,350.54 L557.03,350.98 L557.04,351.42 L557.04,351.87 L557.05,352.33 L557.06,352.79 L557.07,353.27 L557.07,353.75 L557.08,354.24 L557.09,354.74 L557.10,355.25 L557.10,355.77 L557.11,356.30 L557.12,356.84 L557.13,357.39 L557.13,357.95 L557.14,358.53 L557.15,359.12 L557.16,359.72 L557.17,360.33 L557.17,360.96 L557.18,361.60 L557.19,362.25 L557.20,362.93 L557.20,363.62 L557.21,364.33 L557.22,365.05 L557.23,365.80 L557.23,366.57 L557.24,367.36 L557.25,368.18 L557.26,369.02 L557.26,369.88 L557.27,370.78 L557.28,371.70 L557.29,372.66 L557.29,373.65 L557.30,374.68 L557.31,375.75 L557.32,376.86 L557.32,378.03 L557.33,379.24 L557.34,380.51 L557.35,381.84 L557.36,383.24 L557.36,384.71 L557.37,386.27 L557.38,387.93 L557.39,389.69 L557.39,391.57 L557.40,393.60 L557.41,395.78 L557.42,398.15 L557.42,400.76 L557.43,403.63 L557.44,406.85 L557.45,410.49 L557.45,414.70 L557.46,419.68 L557.47,425.77 L557.48,433.62 L557.48,444.69 L557.49,463.61 L557.50,473.50" stroke="#ff0000" stroke-dasharray="3 3" stroke-width="2.2"/>
</g>
<g fill="none" stroke-linejoin="round" shape-rendering="crispEdges" clip-path="url(#c2)">
<path d="M706.90,212.31 L707.80,212.40 L708.70,212.49 L709.59,212.57 L710.49,212.66 L711.39,212.74 L712.29,212.83 L713.19,212.91 L714.08,213.00 L714.98,213.09 L715.88,213.17 L716.78,213.26 L717.68,213.35 L718.57,213.43 L719.47,213.52 L720.37,213.61 L721.27,213.70 L722.17,213.78 L723.06,213.87 L723.96,213.96 L724.86,214.05 L725.76,214.14 L726.66,214.23 L727.55,214.31 L728.45,214.40 L729.35,214.49 L730.25,214.58 L731.15,214.67 L732.04,214.76 L732.94,214.85 L733.84,214.94 L734.74,215.03 L735.64,215.12 L736.53,215.21 L737.43,215.31 L738.33,215.40 L739.23,215.49 L740.13,215.58 L741.02,215.67 L741.92,215.76 L742.82,215.86 L743.72,215.95 L744.62,216.04 L745.51,216.13 L746.41,216.23 L747.31,216.32 L748.21,216.41 L749.11,216.51 L750.00,216.60 L750.90,216.69 L751.80,216.79 L752.70,216.88 L753.60,216.98 L754.49,217.07 L755.39,217.17 L756.29,217.26 L757.19,217.36 L758.09,217.45 L758.98,217.55 L759.88,217.65 L760.78,217.74 L761.68,217.84 L762.58,217.94 L763.47,218.03 L764.37,218.13 L765.27,218.23 L766.17,218.33 L767.07,218.42 L767.96,218.52 L768.86,218.62 L769.76,218.72 L770.66,218.82 L771.56,218.92 L772.45,219.02 L773.35,219.12 L774.25,219.22 L775.15,219.32 L776.05,219.42 L776.94,219.52 L777.84,219.62 L778.74,219.72 L779.64,219.82 L780.54,219.92 L781.43,220.02 L782.33,220.13 L783.23,220.23 L784.13,220.33 L785.03,220.43 L785.92,220.54 L786.82,220.64 L787.72,220.74 L788.62,220.85 L789.52,220.95 L790.41,221.05 L791.31,221.16 L792.21,221.26 L793.11,221.37 L794.01,221.47 L794.90,221.58 L795.80,221.68 L796.70,221.79 L797.60,221.90 L798.50,222.00 L799.39,222.11 L800.29,222.22 L801.19,222.32 L802.09,222.43 L802.99,222.54 L803.88,222.65 L804.78,222.76 L805.68,222.87 L806.58,222.97 L807.48,223.08 L808.37,223.19 L809.27,223.30 L810.17,223.41 L811.07,223.52 L811.97,223.63 L812.86,223.75 L813.76,223.86 L814.66,223.97 L815.56,224.08 L816.46,224.19 L817.35,224.31 L818.25,224.42 L819.15,224.53 L820.05,224.64 L820.95,224.76 L821.84,224.87 L822.74,224.99 L823.64,225.10 L824.54,225.22 L825.44,225.33 L826.33,225.45 L827.23,225.56 L828.13,225.68 L829.03,225.80 L829.93,225.91 L830.82,226.03 L831.72,226.15 L832.62,226.26 L833.52,226.38 L834.42,226.50 L835.31,226.62 L836.21,226.74 L837.11,226.86 L838.01,226.98 L838.91,227.10 L839.80,227.22 L840.70,227.34 L841.60,227.46 L842.50,227.58 L843.40,227.70 L844.29,227.83 L845.19,227.95 L846.09,228.07 L846.99,228.20 L847.89,228.32 L848.78,228.44 L849.68,228.57 L850.58,228.69 L851.48,228.82 L852.38,228.94 L853.27,229.07 L854.17,229.19 L855.07,229.32 L855.97,229.45 L856.87,229.58 L857.76,229.70 L858.66,229.83 L859.56,229.96 L860.46,230.09 L861.36,230.22 L862.25,230.35 L863.15,230.48 L864.05,230.61 L864.95,230.74 L865.85,230.87 L866.74,231.00 L867.64,231.13 L868.54,231.27 L869.44,231.40 L870.34,231.53 L871.23,231.67 L872.13,231.80 L873.03,231.93 L873.93,232.07 L874.83,232.21 L875.72,232.34 L876.62,232.48 L877.52,232.61 L878.42,232.75 L879.32,232.89 L880.21,233.03 L881.11,233.17 L882.01,233.30 L882.91,233.44 L883.81,233.58 L884.70,233.72 L885.60,233.87 L886.50,234.01 L887.40,234.15 L888.30,234.29 L889.19,234.43 L890.09,234.58 L890.99,234.72 L891.89,234.86 L892.79,235.01 L893.68,235.15 L894.58,235.30 L895.48,235.45 L896.38,235.59 L897.28,235.74 L898.17,235.89 L899.07,236.04 L899.97,236.18 L900.87,236.33 L901.77,236.48 L902.66,236.63 L903.56,236.79 L904.46,236.94 L905.36,237.09 L906.26,237.24 L907.15,237.39 L908.05,237.55 L908.95,237.70 L909.85,237.86 L910.75,238.01 L911.64,238.17 L912.54,238.32 L913.44,238.48 L914.34,238.64 L915.24,238.80 L916.13,238.96 L917.03,239.11 L917.93,239.27 L918.83,239.44 L919.73,239.60 L920.62,239.76 L921.52,239.92 L922.42,240.08 L923.32,240.25 L924.22,240.41 L925.11,240.58 L926.01,240.74 L926.91,240.91 L927.81,241.07 L928.71,241.24 L929.60,241.41 L930.50,241.58 L931.40,241.75 L932.30,241.92 L933.20,242.09 L934.09,242.26 L934.99,242.43 L935.89,242.61 L936.79,242.78 L937.69,242.95 L938.58,243.13 L939.48,243.31 L940.38,243.48 L941.28,243.66 L942.18,243.84 L943.07,244.02 L943.97,244.20 L944.87,244.38 L945.77,244.56 L946.67,244.74 L947.56,244.92 L948.46,245.11 L949.36,245.29 L950.26,245.47 L951.16,245.66 L952.05,245.85 L952.95,246.03 L953.85,246.22 L954.75,246.41 L955.65,246.60 L956.54,246.79 L957.44,246.98 L958.34,247.18 L959.24,247.37 L960.14,247.57 L961.03,247.76 L961.93,247.96 L962.83,248.15 L963.73,248.35 L964.63,248.55 L965.52,248.75 L966.42,248.95 L967.32,249.15 L968.22,249.36 L969.12,249.56 L970.01,249.76 L970.91,249.97 L971.81,250.18 L972.71,250.38 L973.61,250.59 L974.50,250.80 L975.40,251.01 L976.30,251.22 L977.20,251.44 L978.10,251.65 L978.99,251.87 L979.89,252.08 L980.79,252.30 L981.69,252.52 L982.59,252.74 L983.48,252.96 L984.38,253.18 L985.28,253.40 L986.18,253.63 L987.08,253.85 L987.97,254.08 L988.87,254.31 L989.77,254.54 L990.67,254.77 L991.57,255.00 L992.46,255.23 L993.36,255.46 L994.26,255.70 L995.16,255.94 L996.06,256.17 L996.95,256.41 L997.85,256.65 L998.75,256.89 L999.65,257.14 L1000.55,257.38 L1001.44,257.63 L1002.34,257.88 L1003.24,258.13 L1004.14,258.38 L1005.04,258.63 L1005.93,258.88 L1006.83,259.14 L1007.73,259.39 L1008.63,259.65 L1009.53,259.91 L1010.42,260.17 L1011.32,260.44 L1012.22,260.70 L1013.12,260.97 L1014.02,261.23 L1014.91,261.50 L1015.81,261.78 L1016.71,262.05 L1017.61,262.32 L1018.51,262.60 L1019.40,262.88 L1020.30,263.16 L1021.20,263.44 L1022.10,263.72 L1023.00,264.01 L1023.89,264.30 L1024.79,264.59 L1025.69,264.88 L1026.59,265.17 L1027.49,265.47 L1028.38,265.77 L1029.28,266.07 L1030.18,266.37 L1031.08,266.67 L1031.98,266.98 L1032.87,267.29 L1033.77,267.60 L1034.67,267.91 L1035.57,268.23 L1036.47,268.55 L1037.36,268.87 L1038.26,269.19 L1039.16,269.52 L1040.06,269.85 L1040.96,270.18 L1041.85,270.51 L1042.75,270.84 L1043.65,271.18 L1044.55,271.52 L1045.45,271.87 L1046.34,272.21 L1047.24,272.56 L1048.14,272.92 L1049.04,273.27 L1049.94,273.63 L1050.83,273.99 L1051.73,274.36 L1052.63,274.72 L1053.53,275.09 L1054.43,275.47 L1055.32,275.85 L1056.22,276.23 L1057.12,276.61 L1058.02,277.00 L1058.92,277.39 L1059.81,277.79 L1060.71,278.18 L1061.61,278.59 L1062.51,278.99 L1063.41,279.40 L1064.30,279.82 L1065.20,280.24 L1066.10,280.66 L1067.00,281.09 L1067.90,281.52 L1068.79,281.95 L1069.69,282.39 L1070.59,282.84 L1071.49,283.29 L1072.39,283.74 L1073.28,284.20 L1074.18,284.66 L1075.08,285.13 L1075.98,285.61 L1076.88,286.09 L1077.77,286.57 L1078.67,287.06 L1079.57,287.56 L1080.47,288.06 L1081.37,288.57 L1082.26,289.09 L1083.16,289.61 L1084.06,290.13 L1084.96,290.67 L1085.86,291.21 L1086.75,291.76 L1087.65,292.31 L1088.55,292.87 L1089.45,293.44 L1090.35,294.02 L1091.24,294.61 L1092.14,295.20 L1093.04,295.80 L1093.94,296.42 L1094.84,297.04 L1095.73,297.66 L1096.63,298.30 L1097.53,298.95 L1098.43,299.61 L1099.33,300.28 L1100.22,300.96 L1101.12,301.65 L1102.02,302.35 L1102.92,303.06 L1103.82,303.79 L1104.71,304.53 L1105.61,305.28 L1106.51,306.05 L1107.41,306.82 L1108.31,307.62 L1109.20,308.43 L1110.10,309.25 L1111.00,310.09 L1111.90,310.95 L1112.80,311.83 L1113.69,312.72 L1114.59,313.63 L1115.49,314.57 L1116.39,315.52 L1117.29,316.50 L1118.18,317.50 L1119.08,318.52 L1119.98,319.57 L1120.88,320.64 L1121.78,321.75 L1122.67,322.88 L1123.57,324.04 L1124.47,325.24 L1125.37,326.47 L1126.27,327.74 L1127.16,329.04 L1128.06,330.39 L1128.96,331.78 L1129.86,333.22 L1130.76,334.71 L1131.65,336.26 L1132.55,337.86 L1133.45,339.53 L1133.45,339.53 L1133.56,339.74 L1133.67,339.95 L1133.79,340.17 L1133.90,340.38 L1134.01,340.60 L1134.12,340.82 L1134.24,341.04 L1134.35,341.26 L1134.46,341.48 L1134.57,341.70 L1134.68,341.93 L1134.80,342.15 L1134.91,342.38 L1135.02,342.61 L1135.13,342.84 L1135.25,343.07 L1135.36,343.30 L1135.47,343.53 L1135.58,343.77 L1135.70,344.00 L1135.81,344.24 L1135.92,344.48 L1136.03,344.71 L1136.14,344.96 L1136.26,345.20 L1136.37,345.44 L1136.48,345.69 L1136.59,345.93 L1136.71,346.18 L1136.82,346.43 L1136.93,346.68 L1137.04,346.93 L1137.15,347.18 L1137.27,347.44 L1137.38,347.70 L1137.49,347.95 L1137.60,348.21 L1137.72,348.47 L1137.83,348.74 L1137.94,349.00 L1138.05,349.27 L1138.16,349.54 L1138.28,349.81 L1138.39,350.08 L1138.50,350.35 L1138.61,350.63 L1138.73,350.90 L1138.84,351.18 L1138.95,351.46 L1139.06,351.74 L1139.17,352.03 L1139.29,352.31 L1139.40,352.60 L1139.51,352.89 L1139.62,353.18 L1139.74,353.48 L1139.85,353.77 L1139.96,354.07 L1140.07,354.37 L1140.19,354.67 L1140.30,354.98 L1140.41,355.28 L1140.52,355.59 L1140.63,355.90 L1140.75,356.22 L1140.86,356.53 L1140.97,356.85 L1141.08,357.17 L1141.20,357.49 L1141.31,357.82 L1141.42,358.15 L1141.53,358.48 L1141.64,358.81 L1141.76,359.15 L1141.87,359.49 L1141.98,359.83 L1142.09,360.17 L1142.21,360.52 L1142.32,360.87 L1142.43,361.22 L1142.54,361.57 L1142.65,361.93 L1142.77,362.29 L1142.88,362.66 L1142.99,363.03 L1143.10,363.40 L1143.22,363.77 L1143.33,364.15 L1143.44,364.53 L1143.55,364.91 L1143.66,365.30 L1143.78,365.69 L1143.89,366.09 L1144.00,366.49 L1144.11,366.89 L1144.23,367.30 L1144.34,367.71 L1144.45,368.12 L1144.56,368.54 L1144.68,368.96 L1144.79,369.39 L1144.90,369.82 L1145.01,370.25 L1145.12,370.69 L1145.24,371.14 L1145.35,371.59 L1145.46,372.04 L1145.57,372.50 L1145.69,372.97 L1145.80,373.43 L1145.91,373.91 L1146.02,374.39 L1146.13,374.87 L1146.25,375.37 L1146.36,375.86 L1146.47,376.36 L1146.58,376.87 L1146.70,377.39 L1146.81,377.91 L1146.92,378.44 L1147.03,378.97 L1147.14,379.51 L1147.26,380.06 L1147.37,380.61 L1147.48,381.18 L1147.59,381.75 L1147.71,382.32 L1147.82,382.91 L1147.93,383.50 L1148.04,384.11 L1148.15,384.72 L1148.27,385.34 L1148.38,385.97 L1148.49,386.61 L1148.60,387.25 L1148.72,387.91 L1148.83,388.58 L1148.94,389.26 L1149.05,389.95 L1149.17,390.65 L1149.28,391.37 L1149.39,392.09 L1149.50,392.83 L1149.61,393.58 L1149.73,394.35 L1149.84,395.13 L1149.95,395.92 L1150.06,396.73 L1150.18,397.55 L1150.29,398.39 L1150.40,399.25 L1150.51,400.13 L1150.62,401.02 L1150.74,401.94 L1150.85,402.87 L1150.96,403.82 L1151.07,404.80 L1151.19,405.80 L1151.30,406.82 L1151.41,407.87 L1151.52,408.95 L1151.63,410.05 L1151.75,411.18 L1151.86,412.34 L1151.97,413.54 L1152.08,414.77 L1152.20,416.04 L1152.31,417.35 L1152.42,418.69 L1152.53,420.09 L1152.64,421.53 L1152.76,423.02 L1152.87,424.56 L1152.98,426.16 L1153.09,427.83 L1153.21,429.56 L1153.32,431.37 L1153.43,433.26 L1153.54,435.23 L1153.66,437.30 L1153.77,439.48 L1153.88,441.78 L1153.99,444.21 L1154.10,446.78 L1154.22,449.52 L1154.33,452.45 L1154.44,455.60 L1154.55,459.00 L1154.67,462.69 L1154.78,466.74 L1154.89,471.21 L1155.00,473.50 L1155.11,473.50 L1155.23,473.50 L1155.34,473.50 L1155.45,473.50 L1155.56,473.50 L1155.68,473.50 L1155.79,473.50 L1155.90,473.50" stroke="#0000ff" stroke-width="2.2"/>
<path d="M706.90,212.42 L707.80,212.51 L708.70,212.59 L709.59,212.68 L710.49,212.76 L711.39,212.85 L712.29,212.94 L713.19,213.02 L714.08,213.11 L714.98,213.20 L715.88,213.28 L716.78,213.37 L717.68,213.46 L718.57,213.55 L719.47,213.63 L720.37,213.72 L721.27,213.81 L722.17,213.90 L723.06,213.99 L723.96,214.08 L724.86,214.16 L725.76,214.25 L726.66,214.34 L727.55,214.43 L728.45,214.52 L729.35,214.61 L730.25,214.70 L731.15,214.79 L732.04,214.88 L732.94,214.97 L733.84,215.06 L734.74,215.15 L735.64,215.25 L736.53,215.34 L737.43,215.43 L738.33,215.52 L739.23,215.61 L740.13,215.70 L741.02,215.80 L741.92,215.89 L742.82,215.98 L743.72,216.07 L744.62,216.17 L745.51,216.26 L746.41,216.35 L747.31,216.45 L748.21,216.54 L749.11,216.64 L750.00,216.73 L750.90,216.83 L751.80,216.92 L752.70,217.02 L753.60,217.11 L754.49,217.21 L755.39,217.30 L756.29,217.40 L757.19,217.49 L758.09,217.59 L758.98,217.69 L759.88,217.78 L760.78,217.88 L761.68,217.98 L762.58,218.08 L763.47,218.17 L764.37,218.27 L765.27,218.37 L766.17,218.47 L767.07,218.57 L767.96,218.67 L768.86,218.76 L769.76,218.86 L770.66,218.96 L771.56,219.06 L772.45,219.16 L773.35,219.26 L774.25,219.36 L775.15,219.46 L776.05,219.57 L776.94,219.67 L777.84,219.77 L778.74,219.87 L779.64,219.97 L780.54,220.07 L781.43,220.18 L782.33,220.28 L783.23,220.38 L784.13,220.49 L785.03,220.59 L785.92,220.69 L786.82,220.80 L787.72,220.90 L788.62,221.01 L789.52,221.11 L790.41,221.22 L791.31,221.32 L792.21,221.43 L793.11,221.53 L794.01,221.64 L794.90,221.74 L795.80,221.85 L796.70,221.96 L797.60,222.06 L798.50,222.17 L799.39,222.28 L800.29,222.39 L801.19,222.50 L802.09,222.60 L802.99,222.71 L803.88,222.82 L804.78,222.93 L805.68,223.04 L806.58,223.15 L807.48,223.26 L808.37,223.37 L809.27,223.48 L810.17,223.59 L811.07,223.71 L811.97,223.82 L812.86,223.93 L813.76,224.04 L814.66,224.15 L815.56,224.27 L816.46,224.38 L817.35,224.49 L818.25,224.61 L819.15,224.72 L820.05,224.84 L820.95,224.95 L821.84,225.07 L822.74,225.18 L823.64,225.30 L824.54,225.41 L825.44,225.53 L826.33,225.65 L827.23,225.76 L828.13,225.88 L829.03,226.00 L829.93,226.12 L830.82,226.23 L831.72,226.35 L832.62,226.47 L833.52,226.59 L834.42,226.71 L835.31,226.83 L836.21,226.95 L837.11,227.07 L838.01,227.19 L838.91,227.31 L839.80,227.44 L840.70,227.56 L841.60,227.68 L842.50,227.80 L843.40,227.93 L844.29,228.05 L845.19,228.17 L846.09,228.30 L846.99,228.42 L847.89,228.55 L848.78,228.67 L849.68,228.80 L850.58,228.92 L851.48,229.05 L852.38,229.18 L853.27,229.30 L854.17,229.43 L855.07,229.56 L855.97,229.69 L856.87,229.82 L857.76,229.95 L858.66,230.08 L859.56,230.21 L860.46,230.34 L861.36,230.47 L862.25,230.60 L863.15,230.73 L864.05,230.86 L864.95,230.99 L865.85,231.13 L866.74,231.26 L867.64,231.39 L868.54,231.53 L869.44,231.66 L870.34,231.80 L871.23,231.93 L872.13,232.07 L873.03,232.21 L873.93,232.34 L874.83,232.48 L875.72,232.62 L876.62,232.76 L877.52,232.89 L878.42,233.03 L879.32,233.17 L880.21,233.31 L881.11,233.45 L882.01,233.59 L882.91,233.74 L883.81,233.88 L884.70,234.02 L885.60,234.16 L886.50,234.31 L887.40,234.45 L888.30,234.59 L889.19,234.74 L890.09,234.88 L890.99,235.03 L891.89,235.18 L892.79,235.32 L893.68,235.47 L894.58,235.62 L895.48,235.77 L896.38,235.92 L897.28,236.07 L898.17,236.22 L899.07,236.37 L899.97,236.52 L900.87,236.67 L901.77,236.82 L902.66,236.97 L903.56,237.13 L904.46,237.28 L905.36,237.43 L906.26,237.59 L907.15,237.75 L908.05,237.90 L908.95,238.06 L909.85,238.22 L910.75,238.37 L911.64,238.53 L912.54,238.69 L913.44,238.85 L914.34,239.01 L915.24,239.17 L916.13,239.33 L917.03,239.50 L917.93,239.66 L918.83,239.82 L919.73,239.99 L920.62,240.15 L921.52,240.32 L922.42,240.48 L923.32,240.65 L924.22,240.82 L925.11,240.99 L926.01,241.15 L926.91,241.32 L927.81,241.49 L928.71,241.67 L929.60,241.84 L930.50,242.01 L931.40,242.18 L932.30,242.36 L933.20,242.53 L934.09,242.71 L934.99,242.88 L935.89,243.06 L936.79,243.24 L937.69,243.41 L938.58,243.59 L939.48,243.77 L940.38,243.95 L941.28,244.13 L942.18,244.32 L943.07,244.50 L943.97,244.68 L944.87,244.87 L945.77,245.05 L946.67,245.24 L947.56,245.43 L948.46,245.61 L949.36,245.80 L950.26,245.99 L951.16,246.18 L952.05,246.38 L952.95,246.57 L953.85,246.76 L954.75,246.95 L955.65,247.15 L956.54,247.35 L957.44,247.54 L958.34,247.74 L959.24,247.94 L960.14,248.14 L961.03,248.34 L961.93,248.54 L962.83,248.74 L963.73,248.95 L964.63,249.15 L965.52,249.36 L966.42,249.56 L967.32,249.77 L968.22,249.98 L969.12,250.19 L970.01,250.40 L970.91,250.61 L971.81,250.83 L972.71,251.04 L973.61,251.26 L974.50,251.47 L975.40,251.69 L976.30,251.91 L977.20,252.13 L978.10,252.35 L978.99,252.57 L979.89,252.80 L980.79,253.02 L981.69,253.25 L982.59,253.48 L983.48,253.70 L984.38,253.93 L985.28,254.16 L986.18,254.40 L987.08,254.63 L987.97,254.87 L988.87,255.10 L989.77,255.34 L990.67,255.58 L991.57,255.82 L992.46,256.06 L993.36,256.31 L994.26,256.55 L995.16,256.80 L996.06,257.05 L996.95,257.30 L997.85,257.55 L998.75,257.80 L999.65,258.05 L1000.55,258.31 L1001.44,258.57 L1002.34,258.83 L1003.24,259.09 L1004.14,259.35 L1005.04,259.61 L1005.93,259.88 L1006.83,260.15 L1007.73,260.42 L1008.63,260.69 L1009.53,260.96 L1010.42,261.24 L1011.32,261.51 L1012.22,261.79 L1013.12,262.07 L1014.02,262.35 L1014.91,262.64 L1015.81,262.93 L1016.71,263.21 L1017.61,263.51 L1018.51,263.80 L1019.40,264.09 L1020.30,264.39 L1021.20,264.69 L1022.10,264.99 L1023.00,265.30 L1023.89,265.60 L1024.79,265.91 L1025.69,266.22 L1026.59,266.54 L1027.49,266.85 L1028.38,267.17 L1029.28,267.49 L1030.18,267.82 L1031.08,268.15 L1031.98,268.48 L1032.87,268.81 L1033.77,269.14 L1034.67,269.48 L1035.57,269.82 L1036.47,270.17 L1037.36,270.51 L1038.26,270.86 L1039.16,271.22 L1040.06,271.57 L1040.96,271.93 L1041.85,272.30 L1042.75,272.66 L1043.65,273.03 L1044.55,273.41 L1045.45,273.79 L1046.34,274.17 L1047.24,274.55 L1048.14,274.94 L1049.04,275.33 L1049.94,275.73 L1050.83,276.13 L1051.73,276.54 L1052.63,276.95 L1053.53,277.36 L1054.43,277.78 L1055.32,278.21 L1056.22,278.63 L1057.12,279.07 L1058.02,279.51 L1058.92,279.95 L1059.81,280.40 L1060.71,280.86 L1061.61,281.32 L1062.51,281.78 L1063.41,282.26 L1064.30,282.74 L1065.20,283.22 L1066.10,283.71 L1067.00,284.21 L1067.90,284.72 L1068.79,285.23 L1069.69,285.75 L1070.59,286.28 L1071.49,286.82 L1072.39,287.36 L1073.28,287.92 L1074.18,288.48 L1075.08,289.05 L1075.98,289.63 L1076.88,290.23 L1077.77,290.83 L1078.67,291.44 L1079.57,292.07 L1080.47,292.71 L1081.37,293.36 L1082.26,294.02 L1083.16,294.70 L1084.06,295.39 L1084.96,296.10 L1085.86,296.83 L1086.75,297.57 L1087.65,298.33 L1088.55,299.11 L1088.55,299.11 L1088.59,299.15 L1088.64,299.19 L1088.68,299.23 L1088.73,299.27 L1088.77,299.31 L1088.82,299.35 L1088.86,299.39 L1088.91,299.43 L1088.95,299.47 L1089.00,299.51 L1089.04,299.55 L1089.09,299.59 L1089.13,299.63 L1089.18,299.68 L1089.22,299.72 L1089.27,299.76 L1089.31,299.80 L1089.36,299.84 L1089.40,299.88 L1089.45,299.92 L1089.49,299.96 L1089.54,300.00 L1089.58,300.04 L1089.63,300.08 L1089.67,300.12 L1089.72,300.16 L1089.76,300.21 L1089.81,300.25 L1089.85,300.29 L1089.90,300.33 L1089.94,300.37 L1089.99,300.41 L1090.03,300.45 L1090.08,300.49 L1090.12,300.54 L1090.17,300.58 L1090.21,300.62 L1090.26,300.66 L1090.30,300.70 L1090.35,300.75 L1090.39,300.79 L1090.44,300.83 L1090.48,300.87 L1090.53,300.91 L1090.57,300.96 L1090.62,301.00 L1090.66,301.04 L1090.71,301.08 L1090.75,301.13 L1090.79,301.17 L1090.84,301.21 L1090.88,301.25 L1090.93,301.30 L1090.97,301.34 L1091.02,301.38 L1091.06,301.42 L1091.11,301.47 L1091.15,301.51 L1091.20,301.55 L1091.24,301.60 L1091.29,301.64 L1091.33,301.68 L1091.38,301.73 L1091.42,301.77 L1091.47,301.81 L1091.51,301.86 L1091.56,301.90 L1091.60,301.94 L1091.65,301.99 L1091.69,302.03 L1091.74,302.08 L1091.78,302.12 L1091.83,302.16 L1091.87,302.21 L1091.92,302.25 L1091.96,302.30 L1092.01,302.34 L1092.05,302.39 L1092.10,302.43 L1092.14,302.47 L1092.19,302.52 L1092.23,302.56 L1092.28,302.61 L1092.32,302.65 L1092.37,302.70 L1092.41,302.74 L1092.46,302.79 L1092.50,302.83 L1092.55,302.88 L1092.59,302.92 L1092.64,302.97 L1092.68,303.02 L1092.73,303.06 L1092.77,303.11 L1092.82,303.15 L1092.86,303.20 L1092.91,303.24 L1092.95,303.29 L1093.00,303.34 L1093.04,303.38 L1093.08,303.43 L1093.13,303.47 L1093.17,303.52 L1093.22,303.57 L1093.26,303.61 L1093.31,303.66 L1093.35,303.71 L1093.40,303.75 L1093.44,303.80 L1093.49,303.85 L1093.53,303.89 L1093.58,303.94 L1093.62,303.99 L1093.67,304.04 L1093.71,304.08 L1093.76,304.13 L1093.80,304.18 L1093.85,304.23 L1093.89,304.27 L1093.94,304.32 L1093.98,304.37 L1094.03,304.42 L1094.07,304.46 L1094.12,304.51 L1094.16,304.56 L1094.21,304.61 L1094.25,304.66 L1094.30,304.71 L1094.34,304.75 L1094.39,304.80 L1094.43,304.85 L1094.48,304.90 L1094.52,304.95 L1094.57,305.00 L1094.61,305.05 L1094.66,305.10 L1094.70,305.15 L1094.75,305.20 L1094.79,305.24 L1094.84,305.29 L1094.88,305.34 L1094.93,305.39 L1094.97,305.44 L1095.02,305.49 L1095.06,305.54 L1095.11,305.59 L1095.15,305.64 L1095.20,305.69 L1095.24,305.74 L1095.28,305.80 L1095.33,305.85 L1095.37,305.90 L1095.42,305.95 L1095.46,306.00 L1095.51,306.05 L1095.55,306.10 L1095.60,306.15 L1095.64,306.20 L1095.69,306.25 L1095.73,306.31 L1095.78,306.36 L1095.82,306.41 L1095.87,306.46 L1095.91,306.51 L1095.96,306.57 L1096.00,306.62 L1096.05,306.67 L1096.09,306.72 L1096.14,306.77 L1096.18,306.83 L1096.23,306.88 L1096.27,306.93 L1096.32,306.99 L1096.36,307.04 L1096.41,307.09 L1096.45,307.15 L1096.50,307.20 L1096.54,307.25 L1096.59,307.31 L1096.63,307.36 L1096.68,307.41 L1096.72,307.47 L1096.77,307.52 L1096.81,307.58 L1096.86,307.63 L1096.90,307.69 L1096.95,307.74 L1096.99,307.79 L1097.04,307.85 L1097.08,307.90 L1097.13,307.96 L1097.17,308.01 L1097.22,308.07 L1097.26,308.13 L1097.31,308.18 L1097.35,308.24 L1097.40,308.29 L1097.44,308.35 L1097.49,308.41 L1097.53,308.46 L1097.57,308.52 L1097.62,308.57 L1097.66,308.63 L1097.71,308.69 L1097.75,308.74 L1097.80,308.80 L1097.84,308.86 L1097.89,308.92 L1097.93,308.97 L1097.98,309.03 L1098.02,309.09 L1098.07,309.15 L1098.11,309.21 L1098.16,309.26 L1098.20,309.32 L1098.25,309.38 L1098.29,309.44 L1098.34,309.50 L1098.38,309.56 L1098.43,309.62 L1098.47,309.67 L1098.52,309.73 L1098.56,309.79 L1098.61,309.85 L1098.65,309.91 L1098.70,309.97 L1098.74,310.03 L1098.79,310.09 L1098.83,310.15 L1098.88,310.21 L1098.92,310.28 L1098.97,310.34 L1099.01,310.40 L1099.06,310.46 L1099.10,310.52 L1099.15,310.58 L1099.19,310.64 L1099.24,310.71 L1099.28,310.77 L1099.33,310.83 L1099.37,310.89 L1099.42,310.96 L1099.46,311.02 L1099.51,311.08 L1099.55,311.14 L1099.60,311.21 L1099.64,311.27 L1099.69,311.33 L1099.73,311.40 L1099.77,311.46 L1099.82,311.53 L1099.86,311.59 L1099.91,311.66 L1099.95,311.72 L1100.00,311.79 L1100.04,311.85 L1100.09,311.92 L1100.13,311.98 L1100.18,312.05 L1100.22,312.11 L1100.27,312.18 L1100.31,312.25 L1100.36,312.31 L1100.40,312.38 L1100.45,312.45 L1100.49,312.51 L1100.54,312.58 L1100.58,312.65 L1100.63,312.72 L1100.67,312.79 L1100.72,312.85 L1100.76,312.92 L1100.81,312.99 L1100.85,313.06 L1100.90,313.13 L1100.94,313.20 L1100.99,313.27 L1101.03,313.34 L1101.08,313.41 L1101.12,313.48 L1101.17,313.55 L1101.21,313.62 L1101.26,313.69 L1101.30,313.76 L1101.35,313.83 L1101.39,313.91 L1101.44,313.98 L1101.48,314.05 L1101.53,314.12 L1101.57,314.19 L1101.62,314.27 L1101.66,314.34 L1101.71,314.41 L1101.75,314.49 L1101.80,314.56 L1101.84,314.64 L1101.89,314.71 L1101.93,314.79 L1101.98,314.86 L1102.02,314.94 L1102.06,315.01 L1102.11,315.09 L1102.15,315.17 L1102.20,315.24 L1102.24,315.32 L1102.29,315.40 L1102.33,315.47 L1102.38,315.55 L1102.42,315.63 L1102.47,315.71 L1102.51,315.79 L1102.56,315.87 L1102.60,315.94 L1102.65,316.02 L1102.69,316.10 L1102.74,316.18 L1102.78,316.27 L1102.83,316.35 L1102.87,316.43 L1102.92,316.51 L1102.96,316.59 L1103.01,316.67 L1103.05,316.76 L1103.10,316.84 L1103.14,316.92 L1103.19,317.01 L1103.23,317.09 L1103.28,317.18 L1103.32,317.26 L1103.37,317.35 L1103.41,317.43 L1103.46,317.52 L1103.50,317.60 L1103.55,317.69 L1103.59,317.78 L1103.64,317.87 L1103.68,317.95 L1103.73,318.04 L1103.77,318.13 L1103.82,318.22 L1103.86,318.31 L1103.91,318.40 L1103.95,318.49 L1104.00,318.58 L1104.04,318.67 L1104.09,318.77 L1104.13,318.86 L1104.18,318.95 L1104.22,319.05 L1104.26,319.14 L1104.31,319.23 L1104.35,319.33 L1104.40,319.42 L1104.44,319.52 L1104.49,319.62 L1104.53,319.71 L1104.58,319.81 L1104.62,319.91 L1104.67,320.01 L1104.71,320.11 L1104.76,320.21 L1104.80,320.31 L1104.85,320.41 L1104.89,320.51 L1104.94,320.61 L1104.98,320.71 L1105.03,320.82 L1105.07,320.92 L1105.12,321.02 L1105.16,321.13 L1105.21,321.24 L1105.25,321.34 L1105.30,321.45 L1105.34,321.56 L1105.39,321.67 L1105.43,321.77 L1105.48,321.88 L1105.52,321.99 L1105.57,322.11 L1105.61,322.22 L1105.66,322.33 L1105.70,322.44 L1105.75,322.56 L1105.79,322.67 L1105.84,322.79 L1105.88,322.91 L1105.93,323.02 L1105.97,323.14 L1106.02,323.26 L1106.06,323.38 L1106.11,323.50 L1106.15,323.63 L1106.20,323.75 L1106.24,323.87 L1106.29,324.00 L1106.33,324.12 L1106.38,324.25 L1106.42,324.38 L1106.47,324.51 L1106.51,324.64 L1106.55,324.77 L1106.60,324.90 L1106.64,325.03 L1106.69,325.17 L1106.73,325.30 L1106.78,325.44 L1106.82,325.58 L1106.87,325.72 L1106.91,325.86 L1106.96,326.00 L1107.00,326.14 L1107.05,326.29 L1107.09,326.43 L1107.14,326.58 L1107.18,326.73 L1107.23,326.88 L1107.27,327.03 L1107.32,327.19 L1107.36,327.34 L1107.41,327.50 L1107.45,327.66 L1107.50,327.82 L1107.54,327.98 L1107.59,328.14 L1107.63,328.31 L1107.68,328.47 L1107.72,328.64 L1107.77,328.81 L1107.81,328.99 L1107.86,329.16 L1107.90,329.34 L1107.95,329.52 L1107.99,329.70 L1108.04,329.89 L1108.08,330.08 L1108.13,330.26 L1108.17,330.46 L1108.22,330.65 L1108.26,330.85 L1108.31,331.05 L1108.35,331.25 L1108.40,331.46 L1108.44,331.67 L1108.49,331.88 L1108.53,332.10 L1108.58,332.32 L1108.62,332.54 L1108.67,332.77 L1108.71,333.00 L1108.75,333.24 L1108.80,333.48 L1108.84,333.72 L1108.89,333.97 L1108.93,334.23 L1108.98,334.48 L1109.02,334.75 L1109.07,335.02 L1109.11,335.29 L1109.16,335.58 L1109.20,335.86 L1109.25,336.16 L1109.29,336.46 L1109.34,336.77 L1109.38,337.08 L1109.43,337.41 L1109.47,337.74 L1109.52,338.09 L1109.56,338.44 L1109.61,338.80 L1109.65,339.17 L1109.70,339.56 L1109.74,339.96 L1109.79,340.37 L1109.83,340.80 L1109.88,341.24 L1109.92,341.70 L1109.97,342.18 L1110.01,342.67 L1110.06,343.19 L1110.10,343.74 L1110.15,344.31 L1110.19,344.91 L1110.24,345.54 L1110.28,346.21 L1110.33,346.92 L1110.37,347.68 L1110.42,348.49 L1110.46,349.37 L1110.51,350.32 L1110.55,351.36 L1110.60,352.50 L1110.64,353.78 L1110.69,355.22 L1110.73,356.89 L1110.78,358.85 L1110.82,361.24 L1110.87,364.33 L1110.91,368.66 L1110.96,376.04 L1111.00,473.50" stroke="#ff0000" stroke-dasharray="3 3" stroke-width="2.2"/>
</g>
<rect x="298.5" y="44.5" width="230" height="85" fill="#fff" stroke="#000" stroke-width="1" shape-rendering="crispEdges"/>
<line x1="307" y1="57.5" x2="346.7" y2="57.5" stroke="#0000ff" stroke-width="2" shape-rendering="crispEdges"/>
<line x1="307" y1="85.5" x2="346" y2="85.5" stroke="#ff0000" stroke-width="2" stroke-dasharray="3 3" shape-rendering="crispEdges"/>
<line x1="307" y1="115" x2="346.7" y2="115" stroke="#85c2a3" stroke-width="2" shape-rendering="crispEdges"/>
<rect x="897.5" y="44.5" width="230" height="85" fill="#fff" stroke="#000" stroke-width="1" shape-rendering="crispEdges"/>
<line x1="906" y1="65" x2="945.7" y2="65" stroke="#0000ff" stroke-width="2" shape-rendering="crispEdges"/>
<line x1="906" y1="108" x2="945" y2="108" stroke="#ff0000" stroke-width="2" stroke-dasharray="3 3" shape-rendering="crispEdges"/>
<g>
<text x="356.50" y="64.0" font-size="21.0"><tspan font-style="italic">m</tspan><tspan x="373.70">(</tspan><tspan x="382.00" font-style="italic">ν</tspan><tspan x="393.30" dy="4.3" font-size="14.70">e</tspan><tspan x="401.10" dy="-4.3">)</tspan><tspan x="415.20">=</tspan><tspan x="432.90">0</tspan><tspan x="450.81">eV/c</tspan><tspan x="492.03" dy="-8.6" font-size="14.70">2</tspan></text>
<text x="356.50" y="91.6" font-size="21.0"><tspan font-style="italic">m</tspan><tspan x="373.70">(</tspan><tspan x="382.00" font-style="italic">ν</tspan><tspan x="393.30" dy="4.3" font-size="14.70">e</tspan><tspan x="401.10" dy="-4.3">)</tspan><tspan x="415.20">=</tspan><tspan x="432.90">0.2</tspan><tspan x="468.33">eV/c</tspan><tspan x="509.55" dy="-8.6" font-size="14.70">2</tspan></text>
<text x="355.90" y="121.60000000000001" font-size="21.0">pile-up</text>
<text x="955.50" y="73.9" font-size="21.0"><tspan font-style="italic">m</tspan><tspan x="972.70">(</tspan><tspan x="981.00" font-style="italic">ν</tspan><tspan x="992.30" dy="4.3" font-size="14.70">e</tspan><tspan x="1000.10" dy="-4.3">)</tspan><tspan x="1014.20">=</tspan><tspan x="1031.90">0</tspan><tspan x="1049.81">eV/c</tspan><tspan x="1091.04" dy="-8.6" font-size="14.70">2</tspan></text>
<text x="955.50" y="116.9" font-size="21.0"><tspan font-style="italic">m</tspan><tspan x="972.70">(</tspan><tspan x="981.00" font-style="italic">ν</tspan><tspan x="992.30" dy="4.3" font-size="14.70">e</tspan><tspan x="1000.10" dy="-4.3">)</tspan><tspan x="1014.20">=</tspan><tspan x="1031.90">0.2</tspan><tspan x="1067.33">eV/c</tspan><tspan x="1108.55" dy="-8.6" font-size="14.70">2</tspan></text>
<path transform="translate(85.95,473.00) scale(0.02160)" d="M271,0 L271,-505 L101,-505 L101,-568 C200,-568 272,-610 295,-703 L359,-703 L359,0 Z" fill="#000"/>
<rect x="74.25" y="466.90" width="11" height="1.5" fill="#000"/>
<path transform="translate(38.61,486.50) scale(0.03250)" d="M271,0 L271,-505 L101,-505 L101,-568 C200,-568 272,-610 295,-703 L359,-703 L359,0 Z" fill="#000"/>
<text x="56.68" y="486.50" font-size="32.5">0</text>
<path transform="translate(82.03,453.47) scale(0.03250)" d="M271,0 L271,-505 L101,-505 L101,-568 C200,-568 272,-610 295,-703 L359,-703 L359,0 Z" fill="#000"/>
<path transform="translate(58.76,422.04) scale(0.03250)" d="M271,0 L271,-505 L101,-505 L101,-568 C200,-568 272,-610 295,-703 L359,-703 L359,0 Z" fill="#000"/>
<text x="76.83" y="422.04" font-size="32.5">0</text>
<text x="82.75" y="378.71" font-size="21.6">2</text>
<path transform="translate(47.21,392.21) scale(0.03250)" d="M271,0 L271,-505 L101,-505 L101,-568 C200,-568 272,-610 295,-703 L359,-703 L359,0 Z" fill="#000"/>
<text x="65.28" y="392.21" font-size="32.5">0</text>
<text x="82.42" y="347.29" font-size="21.6">3</text>
<path transform="translate(46.88,360.79) scale(0.03250)" d="M271,0 L271,-505 L101,-505 L101,-568 C200,-568 272,-610 295,-703 L359,-703 L359,0 Z" fill="#000"/>
<text x="64.95" y="360.79" font-size="32.5">0</text>
<text x="82.40" y="315.86" font-size="21.6">4</text>
<path transform="translate(46.86,329.36) scale(0.03250)" d="M271,0 L271,-505 L101,-505 L101,-568 C200,-568 272,-610 295,-703 L359,-703 L359,0 Z" fill="#000"/>
<text x="64.93" y="329.36" font-size="32.5">0</text>
<text x="82.60" y="284.43" font-size="21.6">5</text>
<path transform="translate(47.06,297.93) scale(0.03250)" d="M271,0 L271,-505 L101,-505 L101,-568 C200,-568 272,-610 295,-703 L359,-703 L359,0 Z" fill="#000"/>
<text x="65.13" y="297.93" font-size="32.5">0</text>
<text x="82.51" y="253.00" font-size="21.6">6</text>
<path transform="translate(46.97,266.50) scale(0.03250)" d="M271,0 L271,-505 L101,-505 L101,-568 C200,-568 272,-610 295,-703 L359,-703 L359,0 Z" fill="#000"/>
<text x="65.04" y="266.50" font-size="32.5">0</text>
<text x="82.40" y="221.57" font-size="21.6">7</text>
<path transform="translate(46.86,235.07) scale(0.03250)" d="M271,0 L271,-505 L101,-505 L101,-568 C200,-568 272,-610 295,-703 L359,-703 L359,0 Z" fill="#000"/>
<text x="64.93" y="235.07" font-size="32.5">0</text>
<text x="82.53" y="190.14" font-size="21.6">8</text>
<path transform="translate(46.99,203.64) scale(0.03250)" d="M271,0 L271,-505 L101,-505 L101,-568 C200,-568 272,-610 295,-703 L359,-703 L359,0 Z" fill="#000"/>
<text x="65.06" y="203.64" font-size="32.5">0</text>
<text x="82.64" y="158.71" font-size="21.6">9</text>
<path transform="translate(47.10,172.21) scale(0.03250)" d="M271,0 L271,-505 L101,-505 L101,-568 C200,-568 272,-610 295,-703 L359,-703 L359,0 Z" fill="#000"/>
<text x="65.17" y="172.21" font-size="32.5">0</text>
<path transform="translate(70.48,127.29) scale(0.02160)" d="M271,0 L271,-505 L101,-505 L101,-568 C200,-568 272,-610 295,-703 L359,-703 L359,0 Z" fill="#000"/>
<text x="82.49" y="127.29" font-size="21.6">0</text>
<path transform="translate(36.94,140.79) scale(0.03250)" d="M271,0 L271,-505 L101,-505 L101,-568 C200,-568 272,-610 295,-703 L359,-703 L359,0 Z" fill="#000"/>
<text x="55.01" y="140.79" font-size="32.5">0</text>
<path transform="translate(73.94,95.86) scale(0.02160)" d="M271,0 L271,-505 L101,-505 L101,-568 C200,-568 272,-610 295,-703 L359,-703 L359,0 Z" fill="#000"/>
<path transform="translate(85.95,95.86) scale(0.02160)" d="M271,0 L271,-505 L101,-505 L101,-568 C200,-568 272,-610 295,-703 L359,-703 L359,0 Z" fill="#000"/>
<path transform="translate(40.40,109.36) scale(0.03250)" d="M271,0 L271,-505 L101,-505 L101,-568 C200,-568 272,-610 295,-703 L359,-703 L359,0 Z" fill="#000"/>
<text x="58.47" y="109.36" font-size="32.5">0</text>
<path transform="translate(70.74,64.43) scale(0.02160)" d="M271,0 L271,-505 L101,-505 L101,-568 C200,-568 272,-610 295,-703 L359,-703 L359,0 Z" fill="#000"/>
<text x="82.75" y="64.43" font-size="21.6">2</text>
<path transform="translate(37.20,77.93) scale(0.03250)" d="M271,0 L271,-505 L101,-505 L101,-568 C200,-568 272,-610 295,-703 L359,-703 L359,0 Z" fill="#000"/>
<text x="55.27" y="77.93" font-size="32.5">0</text>
<path transform="translate(70.42,33.00) scale(0.02160)" d="M271,0 L271,-505 L101,-505 L101,-568 C200,-568 272,-610 295,-703 L359,-703 L359,0 Z" fill="#000"/>
<text x="82.42" y="33.00" font-size="21.6">3</text>
<path transform="translate(36.88,46.50) scale(0.03250)" d="M271,0 L271,-505 L101,-505 L101,-568 C200,-568 272,-610 295,-703 L359,-703 L359,0 Z" fill="#000"/>
<text x="54.95" y="46.50" font-size="32.5">0</text>
<text x="681.75" y="473.00" font-size="21.6">2</text>
<rect x="670.35" y="466.90" width="11" height="1.5" fill="#000"/>
<path transform="translate(634.71,486.50) scale(0.03250)" d="M271,0 L271,-505 L101,-505 L101,-568 C200,-568 272,-610 295,-703 L359,-703 L359,0 Z" fill="#000"/>
<text x="652.78" y="486.50" font-size="32.5">0</text>
<path transform="translate(684.95,424.11) scale(0.02160)" d="M271,0 L271,-505 L101,-505 L101,-568 C200,-568 272,-610 295,-703 L359,-703 L359,0 Z" fill="#000"/>
<rect x="673.25" y="418.01" width="11" height="1.5" fill="#000"/>
<path transform="translate(637.61,437.61) scale(0.03250)" d="M271,0 L271,-505 L101,-505 L101,-568 C200,-568 272,-610 295,-703 L359,-703 L359,0 Z" fill="#000"/>
<text x="655.68" y="437.61" font-size="32.5">0</text>
<path transform="translate(681.03,387.12) scale(0.03250)" d="M271,0 L271,-505 L101,-505 L101,-568 C200,-568 272,-610 295,-703 L359,-703 L359,0 Z" fill="#000"/>
<path transform="translate(657.76,338.23) scale(0.03250)" d="M271,0 L271,-505 L101,-505 L101,-568 C200,-568 272,-610 295,-703 L359,-703 L359,0 Z" fill="#000"/>
<text x="675.83" y="338.23" font-size="32.5">0</text>
<text x="681.75" y="277.44" font-size="21.6">2</text>
<path transform="translate(646.21,290.94) scale(0.03250)" d="M271,0 L271,-505 L101,-505 L101,-568 C200,-568 272,-610 295,-703 L359,-703 L359,0 Z" fill="#000"/>
<text x="664.28" y="290.94" font-size="32.5">0</text>
<text x="681.42" y="228.56" font-size="21.6">3</text>
<path transform="translate(645.88,242.06) scale(0.03250)" d="M271,0 L271,-505 L101,-505 L101,-568 C200,-568 272,-610 295,-703 L359,-703 L359,0 Z" fill="#000"/>
<text x="663.95" y="242.06" font-size="32.5">0</text>
<text x="681.40" y="179.67" font-size="21.6">4</text>
<path transform="translate(645.86,193.17) scale(0.03250)" d="M271,0 L271,-505 L101,-505 L101,-568 C200,-568 272,-610 295,-703 L359,-703 L359,0 Z" fill="#000"/>
<text x="663.93" y="193.17" font-size="32.5">0</text>
<text x="681.60" y="130.78" font-size="21.6">5</text>
<path transform="translate(646.06,144.28) scale(0.03250)" d="M271,0 L271,-505 L101,-505 L101,-568 C200,-568 272,-610 295,-703 L359,-703 L359,0 Z" fill="#000"/>
<text x="664.13" y="144.28" font-size="32.5">0</text>
<text x="681.51" y="81.89" font-size="21.6">6</text>
<path transform="translate(645.97,95.39) scale(0.03250)" d="M271,0 L271,-505 L101,-505 L101,-568 C200,-568 272,-610 295,-703 L359,-703 L359,0 Z" fill="#000"/>
<text x="664.04" y="95.39" font-size="32.5">0</text>
<text x="681.40" y="33.00" font-size="21.6">7</text>
<path transform="translate(645.86,46.50) scale(0.03250)" d="M271,0 L271,-505 L101,-505 L101,-568 C200,-568 272,-610 295,-703 L359,-703 L359,0 Z" fill="#000"/>
<text x="663.93" y="46.50" font-size="32.5">0</text>
<text x="100.73" y="507.00" font-size="25.6">0</text>
<text x="162.55 176.78 191.02" y="507.00" font-size="25.6">200</text>
<text x="238.60 252.83 267.07" y="507.00" font-size="25.6">400</text>
<text x="314.65 328.88 343.12" y="507.00" font-size="25.6">600</text>
<text x="390.70 404.93 419.17" y="507.00" font-size="25.6">800</text>
<path transform="translate(459.63,507.00) scale(0.02560)" d="M271,0 L271,-505 L101,-505 L101,-568 C200,-568 272,-610 295,-703 L359,-703 L359,0 Z" fill="#000"/>
<text x="473.87 488.10 502.33" y="507.00" font-size="25.6">000</text>
<path transform="translate(678.53,507.00) scale(0.02560)" d="M271,0 L271,-505 L101,-505 L101,-568 C200,-568 272,-610 295,-703 L359,-703 L359,0 Z" fill="#000"/>
<path transform="translate(692.77,507.00) scale(0.02560)" d="M271,0 L271,-505 L101,-505 L101,-568 C200,-568 272,-610 295,-703 L359,-703 L359,0 Z" fill="#000"/>
<text x="707.00 721.23" y="507.00" font-size="25.6">78</text>
<path transform="translate(780.11,507.00) scale(0.02560)" d="M271,0 L271,-505 L101,-505 L101,-568 C200,-568 272,-610 295,-703 L359,-703 L359,0 Z" fill="#000"/>
<path transform="translate(794.34,507.00) scale(0.02560)" d="M271,0 L271,-505 L101,-505 L101,-568 C200,-568 272,-610 295,-703 L359,-703 L359,0 Z" fill="#000"/>
<text x="808.57 822.81 837.04 844.16" y="507.00" font-size="25.6">78.5</text>
<path transform="translate(903.03,507.00) scale(0.02560)" d="M271,0 L271,-505 L101,-505 L101,-568 C200,-568 272,-610 295,-703 L359,-703 L359,0 Z" fill="#000"/>
<path transform="translate(917.27,507.00) scale(0.02560)" d="M271,0 L271,-505 L101,-505 L101,-568 C200,-568 272,-610 295,-703 L359,-703 L359,0 Z" fill="#000"/>
<text x="931.50 945.73" y="507.00" font-size="25.6">79</text>
<path transform="translate(1004.61,507.00) scale(0.02560)" d="M271,0 L271,-505 L101,-505 L101,-568 C200,-568 272,-610 295,-703 L359,-703 L359,0 Z" fill="#000"/>
<path transform="translate(1018.84,507.00) scale(0.02560)" d="M271,0 L271,-505 L101,-505 L101,-568 C200,-568 272,-610 295,-703 L359,-703 L359,0 Z" fill="#000"/>
<text x="1033.07 1047.31 1061.54 1068.66" y="507.00" font-size="25.6">79.5</text>
<path transform="translate(1127.53,507.00) scale(0.02560)" d="M271,0 L271,-505 L101,-505 L101,-568 C200,-568 272,-610 295,-703 L359,-703 L359,0 Z" fill="#000"/>
<path transform="translate(1141.77,507.00) scale(0.02560)" d="M271,0 L271,-505 L101,-505 L101,-568 C200,-568 272,-610 295,-703 L359,-703 L359,0 Z" fill="#000"/>
<text x="1156.00 1170.23" y="507.00" font-size="25.6">80</text>
<text transform="translate(557.80,547.6) scale(1.019,1)" font-size="25.3" text-anchor="end">Energy [eV]</text>
<text transform="translate(31.20,31.6) rotate(-90) scale(1.03,1)" font-size="25.3" text-anchor="end">Counts [a.u]</text>
<text transform="translate(1156.80,547.6) scale(1.019,1)" font-size="25.3" text-anchor="end">Energy [eV]</text>
<text transform="translate(632.00,31.6) rotate(-90) scale(1.03,1)" font-size="25.3" text-anchor="end">Counts [a.u]</text>
</g>
</svg>
</body></html>
